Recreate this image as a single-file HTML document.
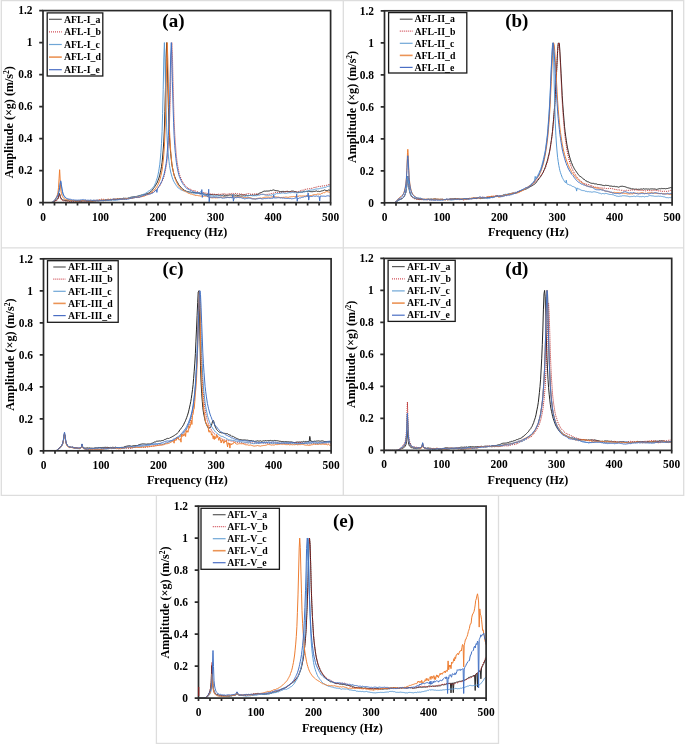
<!DOCTYPE html>
<html><head><meta charset="utf-8"><style>
html,body{margin:0;padding:0;background:#fff;}
svg{display:block;filter:blur(0.3px);}
text{font-family:"Liberation Serif",serif;font-weight:bold;fill:#000;}
.tl{font-size:11.8px;}
.at{font-size:12.1px;}
.sup{font-size:7.5px;}
.pl{font-size:19px;}
.lg{font-size:9.8px;}
</style></head><body>
<svg width="685" height="745" viewBox="0 0 685 745">
<rect width="685" height="745" fill="#fff"/>
<path d="M1.3 0.6H683.7V495.3H1.3Z M343.3 0.8V495.3 M1.3 247.8H683.7 M156.4 495.3V743.4H498.5V495.3" fill="none" stroke="#dddddd" stroke-width="1.3"/>
<clipPath id="cpa"><rect x="43.0" y="9.6" width="287.6" height="193.0"/></clipPath>
<g clip-path="url(#cpa)" fill="none" stroke-width="1" stroke-linejoin="round">
<polyline stroke="#262626" points="43.0,202.6 43.6,202.6 44.2,202.6 44.7,202.6 45.3,202.6 45.9,202.6 46.5,202.6 47.0,202.6 47.6,202.6 48.2,202.6 48.8,202.6 49.3,202.6 49.9,202.6 50.5,202.6 51.1,202.6 51.6,202.5 52.2,202.4 52.8,202.3 53.4,202.1 53.9,201.8 54.5,201.3 55.1,200.8 55.7,200.3 56.2,200.3 56.8,199.5 57.4,199.1 58.0,198.3 58.5,196.8 59.1,194.1 59.4,193.5 59.7,194.0 60.3,196.6 60.8,197.9 61.4,198.8 62.0,199.3 62.6,199.9 63.1,199.9 63.7,200.2 64.3,200.3 64.9,200.3 65.4,200.6 66.0,200.3 66.6,200.6 67.2,200.6 67.7,200.8 68.3,200.6 68.9,201.0 69.5,201.2 70.0,201.0 70.6,200.9 71.2,200.9 71.8,201.0 72.3,200.9 72.9,200.9 73.5,201.1 74.1,201.2 74.6,200.8 75.2,201.0 75.8,201.0 76.4,201.2 76.9,201.1 77.5,200.9 78.1,201.1 78.7,201.1 79.2,201.3 79.8,201.2 80.4,201.2 81.0,201.4 81.5,201.2 82.1,201.2 82.7,200.9 83.3,200.8 83.8,200.8 84.4,200.9 85.0,200.8 85.6,200.9 86.1,200.9 86.7,201.1 87.3,201.2 87.9,201.4 88.4,201.4 89.0,201.5 89.6,201.3 90.2,201.3 90.7,201.1 91.3,201.4 91.9,201.2 92.5,201.4 93.0,201.1 93.6,201.1 94.2,201.2 94.8,200.8 95.3,200.9 95.9,200.8 96.5,200.7 97.1,200.8 97.6,200.9 98.2,200.6 98.8,201.0 99.4,200.7 99.9,200.6 100.5,200.3 101.1,200.4 101.7,200.5 102.2,200.7 102.8,200.6 103.4,200.7 104.0,200.7 104.5,200.5 105.1,200.6 105.7,200.5 106.3,200.2 106.8,200.2 107.4,200.1 108.0,200.2 108.6,200.0 109.1,200.0 109.7,199.7 110.3,199.8 110.9,199.9 111.4,200.0 112.0,199.8 112.6,199.5 113.2,199.5 113.7,199.5 114.3,199.6 114.9,199.5 115.5,199.5 116.1,199.4 116.6,199.2 117.2,199.0 117.8,198.7 118.4,199.1 118.9,199.1 119.5,198.7 120.1,198.8 120.7,198.7 121.2,199.0 121.8,198.8 122.4,198.7 123.0,198.6 123.5,198.2 124.1,198.2 124.7,198.4 125.3,198.4 125.8,198.2 126.4,198.4 127.0,198.2 127.6,198.4 128.1,198.2 128.7,198.0 129.3,198.0 129.9,197.7 130.4,197.4 131.0,197.3 131.6,197.1 132.2,197.1 132.7,196.9 133.3,196.8 133.9,196.9 134.5,196.6 135.0,196.6 135.6,196.6 136.2,196.6 136.8,196.3 137.3,196.3 137.9,196.0 138.5,195.9 139.1,195.5 139.6,195.5 140.2,195.3 140.8,195.4 141.4,195.1 141.9,194.9 142.5,194.9 143.1,194.6 143.7,194.4 144.2,194.5 144.8,194.3 145.4,194.2 146.0,193.9 146.5,193.8 147.1,193.6 147.7,193.4 148.3,193.3 148.8,193.0 149.4,192.8 150.0,192.1 150.6,191.7 151.1,191.5 151.7,190.6 152.3,190.2 152.9,189.2 153.4,188.5 154.0,187.7 154.6,186.8 155.2,186.0 155.7,185.3 156.3,183.9 156.9,183.1 157.5,181.9 158.0,180.3 158.6,178.9 159.2,177.1 159.8,175.1 160.3,172.6 160.9,170.1 161.5,166.4 162.1,162.4 162.6,157.1 163.2,150.1 163.8,141.1 164.4,129.0 164.9,111.4 165.5,87.1 166.1,58.4 166.7,42.6 167.2,57.1 167.8,83.9 168.4,107.3 169.0,124.7 169.5,137.3 170.1,146.7 170.7,153.5 171.3,159.3 171.8,163.8 172.4,167.5 173.0,170.3 173.6,173.0 174.1,174.9 174.7,176.6 175.3,178.0 175.9,179.4 176.4,180.4 177.0,181.6 177.6,182.5 178.2,183.5 178.7,184.6 179.3,185.3 179.9,185.9 180.5,186.6 181.0,187.4 181.6,188.1 182.2,188.5 182.8,189.1 183.3,189.3 183.9,189.9 184.5,190.4 185.1,190.8 185.6,190.6 186.2,191.2 186.8,191.4 187.4,191.5 188.0,191.7 188.5,191.7 189.1,192.1 189.7,192.0 190.3,192.0 190.8,192.2 191.4,192.5 192.0,192.4 192.6,192.4 193.1,192.5 193.7,192.5 194.3,192.3 194.9,192.7 195.4,192.8 196.0,192.5 196.6,192.9 197.2,192.9 197.7,192.9 198.3,192.9 198.9,193.1 199.5,193.2 200.0,193.4 200.6,193.4 201.2,193.7 201.8,193.2 202.3,193.7 202.9,193.6 203.5,193.9 204.1,193.9 204.6,194.1 205.2,194.2 205.8,194.4 206.4,194.5 206.9,194.4 207.5,194.4 208.1,194.6 208.7,194.4 209.2,194.5 209.8,194.6 210.4,194.6 211.0,194.4 211.5,194.5 212.1,194.7 212.7,194.7 213.3,194.8 213.8,194.9 214.4,194.7 215.0,195.0 215.6,194.9 216.1,194.8 216.7,194.8 217.3,194.8 217.9,194.9 218.4,195.2 219.0,195.2 219.6,195.3 220.2,195.2 220.7,195.1 221.3,195.3 221.9,195.3 222.5,195.3 223.0,195.1 223.6,194.9 224.2,195.4 224.8,195.4 225.3,195.2 225.9,195.4 226.5,195.4 227.1,195.3 227.6,195.3 228.2,195.3 228.8,195.1 229.4,195.0 229.9,195.1 230.5,194.9 231.1,195.3 231.7,195.0 232.2,195.0 232.8,195.0 233.4,195.1 234.0,195.0 234.5,195.0 235.1,195.2 235.7,195.4 236.3,195.1 236.8,195.1 237.4,195.5 238.0,195.4 238.6,195.4 239.1,195.2 239.7,195.1 240.3,194.7 240.9,195.1 241.4,195.0 242.0,195.0 242.6,195.0 243.2,195.1 243.7,195.2 244.3,195.0 244.9,194.9 245.5,195.3 246.0,195.4 246.6,195.2 247.2,195.6 247.8,195.6 248.3,195.4 248.9,195.4 249.5,195.5 250.1,195.1 250.6,195.2 251.2,195.4 251.8,195.1 252.4,194.9 252.9,195.0 253.5,195.3 254.1,195.0 254.7,195.1 255.2,195.0 255.8,195.1 256.4,194.7 257.0,194.4 257.5,194.3 258.1,194.0 258.7,193.7 259.3,193.2 259.9,193.2 260.4,192.8 261.0,192.6 261.6,192.4 262.2,192.0 262.7,191.8 263.3,191.5 263.9,191.2 264.5,191.1 265.0,191.1 265.6,191.2 266.2,191.0 266.8,191.1 267.3,191.0 267.9,191.2 268.5,191.0 269.1,190.8 269.6,190.9 270.2,190.5 270.8,190.4 271.4,190.6 271.9,190.4 272.5,190.2 273.1,189.9 273.7,190.0 274.2,190.4 274.8,190.2 275.4,190.5 276.0,190.5 276.5,190.7 277.1,190.7 277.7,190.8 278.3,190.9 278.8,191.2 279.4,191.4 280.0,191.4 280.6,191.7 281.1,191.7 281.7,191.4 282.3,191.4 282.9,191.5 283.4,191.4 284.0,191.6 284.6,191.7 285.2,191.8 285.7,191.4 286.3,191.3 286.9,191.7 287.5,191.3 288.0,191.5 288.6,191.7 289.2,191.7 289.8,191.6 290.3,191.6 290.9,191.2 291.5,191.1 292.1,191.0 292.6,191.1 293.2,191.0 293.8,191.3 294.4,191.5 294.9,191.5 295.5,191.6 296.1,192.0 296.7,192.0 297.2,192.3 297.8,192.3 298.4,192.6 299.0,192.3 299.5,192.2 300.1,192.5 300.7,192.0 301.3,192.2 301.8,192.0 302.4,192.1 303.0,191.8 303.6,191.4 304.1,191.6 304.7,191.1 305.3,191.4 305.9,191.5 306.4,191.4 307.0,191.4 307.6,191.7 308.2,191.4 308.7,191.2 309.3,191.3 309.9,191.6 310.5,191.6 311.0,191.6 311.6,191.7 312.2,191.8 312.8,191.5 313.3,191.3 313.9,191.6 314.5,191.4 315.1,191.2 315.6,191.2 316.2,190.9 316.8,191.1 317.4,191.4 317.9,191.5 318.5,191.3 319.1,191.4 319.7,191.6 320.2,191.4 320.8,191.3 321.4,191.0 322.0,190.9 322.5,191.0 323.1,190.3 323.7,190.4 324.3,190.0 324.8,190.0 325.4,190.3 326.0,190.5 326.6,190.5 327.1,190.4 327.7,190.6 328.3,190.2 328.9,189.9 329.4,190.2 330.0,189.9 330.6,189.7"/>
<polyline stroke="#b41e1e" stroke-dasharray="1 1" points="43.0,202.6 43.6,202.6 44.2,202.6 44.7,202.6 45.3,202.6 45.9,202.6 46.5,202.6 47.0,202.6 47.6,202.6 48.2,202.6 48.8,202.6 49.3,202.6 49.9,202.6 50.5,202.6 51.1,202.6 51.6,202.6 52.2,202.5 52.8,202.4 53.4,202.3 53.9,202.1 54.5,201.7 55.1,201.1 55.7,200.9 56.2,200.8 56.8,200.5 57.4,199.8 58.0,198.8 58.5,197.1 59.1,194.7 59.4,194.1 59.7,194.8 60.3,197.2 60.8,198.8 61.4,199.8 62.0,199.9 62.6,200.4 63.1,200.6 63.7,201.0 64.3,200.7 64.9,200.8 65.4,201.0 66.0,201.4 66.6,201.3 67.2,201.2 67.7,201.2 68.3,201.3 68.9,201.2 69.5,201.6 70.0,201.4 70.6,201.4 71.2,201.4 71.8,201.5 72.3,201.7 72.9,201.4 73.5,201.4 74.1,201.4 74.6,201.3 75.2,201.3 75.8,201.5 76.4,201.2 76.9,201.5 77.5,201.4 78.1,201.3 78.7,201.1 79.2,201.2 79.8,201.1 80.4,201.1 81.0,201.1 81.5,201.0 82.1,201.1 82.7,200.7 83.3,201.1 83.8,201.1 84.4,201.3 85.0,201.0 85.6,201.3 86.1,201.5 86.7,201.1 87.3,201.1 87.9,201.3 88.4,201.1 89.0,201.1 89.6,201.1 90.2,200.8 90.7,201.1 91.3,200.9 91.9,200.8 92.5,200.5 93.0,200.6 93.6,200.2 94.2,200.5 94.8,200.1 95.3,200.4 95.9,200.1 96.5,200.1 97.1,200.0 97.6,200.2 98.2,200.0 98.8,200.0 99.4,199.6 99.9,199.9 100.5,199.8 101.1,199.3 101.7,199.2 102.2,199.2 102.8,199.3 103.4,199.3 104.0,199.4 104.5,199.4 105.1,199.4 105.7,199.6 106.3,199.6 106.8,199.7 107.4,199.5 108.0,199.5 108.6,199.4 109.1,199.7 109.7,199.6 110.3,199.5 110.9,199.6 111.4,199.8 112.0,199.8 112.6,199.7 113.2,199.6 113.7,199.5 114.3,199.6 114.9,199.7 115.5,199.7 116.1,199.8 116.6,199.6 117.2,199.5 117.8,199.4 118.4,199.5 118.9,199.6 119.5,199.4 120.1,199.7 120.7,199.4 121.2,199.4 121.8,199.2 122.4,199.4 123.0,199.3 123.5,199.1 124.1,199.2 124.7,199.2 125.3,198.9 125.8,198.9 126.4,199.2 127.0,198.9 127.6,198.7 128.1,198.4 128.7,198.3 129.3,198.4 129.9,198.1 130.4,198.2 131.0,198.0 131.6,198.0 132.2,197.9 132.7,198.0 133.3,197.9 133.9,197.7 134.5,197.6 135.0,197.5 135.6,197.4 136.2,197.5 136.8,197.5 137.3,197.4 137.9,197.4 138.5,197.4 139.1,197.3 139.6,197.1 140.2,196.9 140.8,196.7 141.4,196.7 141.9,196.4 142.5,196.5 143.1,196.2 143.7,195.8 144.2,195.9 144.8,195.5 145.4,195.2 146.0,195.1 146.5,195.0 147.1,194.8 147.7,194.4 148.3,193.9 148.8,193.4 149.4,193.6 150.0,193.5 150.6,193.5 151.1,193.0 151.7,192.7 152.3,192.5 152.9,192.3 153.4,192.1 154.0,191.7 154.6,191.2 155.2,190.8 155.7,190.3 156.3,190.0 156.9,189.4 157.5,188.8 158.0,188.3 158.6,187.3 159.2,186.9 159.8,185.8 160.3,184.6 160.9,183.5 161.5,182.6 162.1,181.7 162.6,180.2 163.2,178.8 163.8,177.0 164.4,175.0 164.9,172.6 165.5,170.0 166.1,166.7 166.7,163.0 167.2,158.2 167.8,152.6 168.4,145.3 169.0,135.7 169.5,122.6 170.1,104.9 170.7,81.5 171.3,55.3 171.8,42.6 172.4,54.4 173.0,79.0 173.6,102.2 174.1,119.4 174.7,132.8 175.3,142.3 175.9,150.0 176.4,156.2 177.0,161.1 177.6,164.9 178.2,168.5 178.7,171.2 179.3,173.6 179.9,175.6 180.5,177.1 181.0,178.8 181.6,180.0 182.2,181.1 182.8,182.0 183.3,183.0 183.9,183.8 184.5,184.5 185.1,185.2 185.6,185.9 186.2,186.5 186.8,186.9 187.4,187.6 188.0,187.9 188.5,188.6 189.1,188.4 189.7,189.1 190.3,189.2 190.8,189.6 191.4,189.8 192.0,190.2 192.6,190.5 193.1,190.4 193.7,190.6 194.3,190.5 194.9,190.8 195.4,191.0 196.0,191.3 196.6,191.7 197.2,191.7 197.7,191.9 198.3,192.1 198.9,192.4 199.5,192.6 200.0,192.6 200.6,192.6 201.2,192.7 201.8,192.4 202.3,192.5 202.9,192.2 203.5,192.5 204.1,192.8 204.6,192.9 205.2,193.0 205.8,193.1 206.4,193.1 206.9,193.4 207.5,193.5 208.1,193.5 208.7,193.4 209.2,193.7 209.8,193.7 210.4,194.0 211.0,194.1 211.5,194.2 212.1,194.4 212.7,194.1 213.3,194.4 213.8,193.9 214.4,194.2 215.0,194.4 215.6,194.5 216.1,194.4 216.7,194.5 217.3,194.3 217.9,194.4 218.4,194.2 219.0,194.2 219.6,194.4 220.2,194.4 220.7,194.3 221.3,194.2 221.9,194.0 222.5,194.0 223.0,193.9 223.6,193.8 224.2,193.9 224.8,193.8 225.3,194.1 225.9,194.2 226.5,194.3 227.1,194.2 227.6,194.2 228.2,194.0 228.8,193.7 229.4,193.9 229.9,193.8 230.5,193.9 231.1,193.8 231.7,193.6 232.2,193.4 232.8,193.7 233.4,193.8 234.0,193.8 234.5,193.9 235.1,193.5 235.7,193.5 236.3,193.8 236.8,193.7 237.4,193.8 238.0,193.8 238.6,194.0 239.1,193.9 239.7,193.9 240.3,193.9 240.9,194.2 241.4,194.0 242.0,194.5 242.6,194.5 243.2,194.4 243.7,194.6 244.3,194.7 244.9,194.4 245.5,194.3 246.0,194.0 246.6,194.0 247.2,193.7 247.8,193.7 248.3,193.8 248.9,193.5 249.5,193.5 250.1,194.1 250.6,194.2 251.2,194.3 251.8,194.2 252.4,194.2 252.9,194.1 253.5,194.2 254.1,193.9 254.7,194.0 255.2,194.0 255.8,193.9 256.4,193.9 257.0,194.0 257.5,194.2 258.1,194.4 258.7,194.5 259.3,194.4 259.9,194.1 260.4,194.2 261.0,194.3 261.6,194.2 262.2,194.3 262.7,194.4 263.3,194.2 263.9,194.5 264.5,194.4 265.0,194.6 265.6,194.7 266.2,194.5 266.8,194.3 267.3,194.4 267.9,194.4 268.5,194.1 269.1,194.2 269.6,194.2 270.2,193.9 270.8,193.8 271.4,193.6 271.9,193.4 272.5,193.4 273.1,193.3 273.7,193.1 274.2,192.9 274.8,192.6 275.4,192.4 276.0,192.5 276.5,192.4 277.1,192.5 277.7,192.4 278.3,192.4 278.8,192.4 279.4,192.5 280.0,192.6 280.6,192.3 281.1,192.3 281.7,192.5 282.3,192.4 282.9,192.2 283.4,192.2 284.0,192.1 284.6,192.1 285.2,191.9 285.7,191.8 286.3,191.6 286.9,191.6 287.5,191.8 288.0,191.8 288.6,191.7 289.2,192.2 289.8,192.0 290.3,191.8 290.9,191.9 291.5,191.9 292.1,191.9 292.6,191.8 293.2,192.1 293.8,192.0 294.4,192.2 294.9,192.1 295.5,192.0 296.1,192.0 296.7,192.1 297.2,191.7 297.8,191.9 298.4,191.5 299.0,191.3 299.5,191.0 300.1,191.0 300.7,190.7 301.3,190.7 301.8,190.1 302.4,190.2 303.0,190.1 303.6,190.0 304.1,189.6 304.7,189.3 305.3,189.5 305.9,189.2 306.4,189.3 307.0,189.2 307.6,188.9 308.2,189.1 308.7,188.8 309.3,188.7 309.9,189.0 310.5,188.7 311.0,188.5 311.6,188.3 312.2,188.3 312.8,188.2 313.3,187.8 313.9,187.5 314.5,187.5 315.1,187.4 315.6,187.3 316.2,187.4 316.8,186.9 317.4,186.8 317.9,186.6 318.5,186.4 319.1,186.4 319.7,186.4 320.2,186.4 320.8,186.4 321.4,186.0 322.0,186.0 322.5,186.0 323.1,185.8 323.7,185.6 324.3,185.8 324.8,185.7 325.4,185.6 326.0,185.4 326.6,185.3 327.1,185.1 327.7,185.0 328.3,184.7 328.9,184.9 329.4,184.5 330.0,184.5 330.6,184.4"/>
<polyline stroke="#5b9bd5" points="43.0,202.6 43.6,202.6 44.2,202.6 44.7,202.6 45.3,202.6 45.9,202.6 46.5,202.6 47.0,202.6 47.6,202.6 48.2,202.6 48.8,202.6 49.3,202.6 49.9,202.6 50.5,202.6 51.1,202.5 51.6,202.5 52.2,202.3 52.8,202.0 53.4,201.6 53.9,201.1 54.5,200.4 55.1,199.7 55.7,199.0 56.2,198.2 56.8,197.4 57.4,196.1 58.0,195.2 58.5,193.4 59.1,190.7 59.7,187.4 60.3,183.1 60.6,181.8 60.8,182.3 61.4,186.2 62.0,189.9 62.6,193.0 63.1,194.5 63.7,195.8 64.3,196.8 64.9,197.2 65.4,197.7 66.0,198.3 66.6,198.8 67.2,199.0 67.7,199.5 68.3,199.7 68.9,199.7 69.5,199.9 70.0,200.0 70.6,200.4 71.2,200.5 71.8,200.5 72.3,200.6 72.9,200.8 73.5,200.7 74.1,200.6 74.6,200.6 75.2,200.4 75.8,200.7 76.4,200.7 76.9,200.5 77.5,200.8 78.1,200.5 78.7,200.6 79.2,200.6 79.8,200.6 80.4,200.6 81.0,200.0 81.5,200.3 82.1,200.5 82.7,200.5 83.3,200.7 83.8,200.4 84.4,200.6 85.0,200.4 85.6,200.3 86.1,200.6 86.7,200.8 87.3,200.8 87.9,201.0 88.4,200.7 89.0,200.7 89.6,201.0 90.2,201.0 90.7,201.0 91.3,200.8 91.9,200.7 92.5,200.7 93.0,200.4 93.6,200.1 94.2,200.2 94.8,200.3 95.3,200.5 95.9,200.2 96.5,200.1 97.1,200.2 97.6,200.1 98.2,200.3 98.8,200.3 99.4,200.5 99.9,200.3 100.5,200.7 101.1,200.9 101.7,200.7 102.2,200.4 102.8,200.3 103.4,200.2 104.0,200.3 104.5,200.2 105.1,200.0 105.7,200.1 106.3,199.9 106.8,199.9 107.4,199.8 108.0,199.9 108.6,200.0 109.1,199.8 109.7,199.9 110.3,200.0 110.9,200.2 111.4,200.1 112.0,200.2 112.6,200.0 113.2,200.2 113.7,200.5 114.3,200.3 114.9,200.3 115.5,200.3 116.1,200.1 116.6,200.0 117.2,200.1 117.8,200.0 118.4,199.8 118.9,199.6 119.5,199.7 120.1,199.4 120.7,199.4 121.2,199.2 121.8,199.2 122.4,199.0 123.0,198.8 123.5,199.0 124.1,199.0 124.7,198.9 125.3,198.9 125.8,198.5 126.4,198.5 127.0,198.2 127.6,198.4 128.1,198.1 128.7,197.9 129.3,198.1 129.9,197.7 130.4,197.9 131.0,197.5 131.6,197.5 132.2,197.2 132.7,197.4 133.3,197.2 133.9,197.0 134.5,196.9 135.0,196.8 135.6,196.7 136.2,196.5 136.8,196.5 137.3,196.4 137.9,196.4 138.5,195.9 139.1,196.1 139.6,195.9 140.2,195.7 140.8,195.4 141.4,195.3 141.9,195.1 142.5,194.6 143.1,194.8 143.7,194.2 144.2,194.2 144.8,193.7 145.4,193.4 146.0,193.0 146.5,192.5 147.1,192.4 147.7,192.0 148.3,191.5 148.8,190.7 149.4,190.7 150.0,190.4 150.6,189.9 151.1,189.7 151.7,188.8 152.3,188.1 152.9,187.7 153.4,186.8 154.0,186.3 154.6,185.1 155.2,183.7 155.7,182.6 156.3,180.7 156.9,178.8 157.5,177.1 158.0,174.8 158.6,171.9 159.2,168.2 159.8,164.2 160.3,159.0 160.9,152.3 161.5,143.3 162.1,131.3 162.6,113.7 163.2,89.5 163.8,59.0 164.4,42.6 164.9,57.8 165.5,86.1 166.1,110.2 166.7,127.9 167.2,140.1 167.8,149.2 168.4,156.1 169.0,161.3 169.5,165.6 170.1,168.9 170.7,172.0 171.3,174.2 171.8,176.2 172.4,177.9 173.0,179.7 173.6,181.1 174.1,182.1 174.7,182.9 175.3,184.0 175.9,184.8 176.4,185.7 177.0,186.4 177.6,187.2 178.2,188.0 178.7,188.3 179.3,188.6 179.9,189.0 180.5,189.6 181.0,189.7 181.6,190.1 182.2,190.2 182.8,190.6 183.3,190.6 183.9,190.9 184.5,191.1 185.1,190.8 185.6,191.0 186.2,191.6 186.8,191.6 187.4,191.9 188.0,192.1 188.5,192.3 189.1,192.5 189.7,192.5 190.3,192.6 190.8,192.9 191.4,192.9 192.0,192.8 192.6,192.9 193.1,193.1 193.7,193.2 194.3,193.8 194.9,193.8 195.4,193.8 196.0,193.6 196.6,193.5 197.2,193.2 197.7,192.9 198.3,193.0 198.9,192.8 199.5,192.6 200.0,192.1 200.6,191.7 201.2,192.2 201.8,192.6 202.3,192.9 202.9,193.2 203.5,193.5 204.1,193.9 204.6,194.3 205.2,194.3 205.8,195.0 206.4,195.1 206.9,195.5 207.5,195.3 208.1,195.5 208.7,195.5 209.2,195.3 209.8,195.4 210.4,195.4 211.0,195.7 211.5,195.8 212.1,195.9 212.7,196.1 213.3,196.2 213.8,196.2 214.4,196.2 215.0,196.2 215.6,196.1 216.1,195.7 216.7,196.0 217.3,195.9 217.9,196.1 218.4,196.0 219.0,196.0 219.6,195.8 220.2,196.0 220.7,195.9 221.3,196.0 221.9,195.7 222.5,195.8 223.0,196.2 223.6,196.4 224.2,196.5 224.8,196.6 225.3,196.7 225.9,196.9 226.5,197.0 227.1,197.2 227.6,197.2 228.2,197.4 228.8,197.4 229.4,197.4 229.9,197.6 230.5,197.3 231.1,197.4 231.7,197.6 232.2,197.5 232.8,197.4 233.4,197.1 234.0,196.8 234.5,196.8 235.1,196.6 235.7,197.1 236.3,196.7 236.8,196.7 237.4,196.6 238.0,196.5 238.6,196.3 239.1,196.4 239.7,196.6 240.3,196.4 240.9,196.6 241.4,196.6 242.0,196.7 242.6,196.9 243.2,196.8 243.7,197.0 244.3,196.8 244.9,196.5 245.5,196.3 246.0,196.1 246.6,195.8 247.2,195.9 247.8,195.8 248.3,195.7 248.9,196.0 249.5,195.5 250.1,195.6 250.6,195.5 251.2,195.6 251.8,195.6 252.4,195.8 252.9,195.7 253.5,195.7 254.1,195.9 254.7,195.6 255.2,195.4 255.8,195.8 256.4,195.8 257.0,195.5 257.5,195.5 258.1,195.4 258.7,195.1 259.3,195.2 259.9,195.0 260.4,194.7 261.0,194.6 261.6,194.5 262.2,194.5 262.7,194.3 263.3,194.3 263.9,194.4 264.5,195.0 265.0,195.2 265.6,195.0 266.2,195.3 266.8,195.1 267.3,195.3 267.9,195.2 268.5,195.3 269.1,195.1 269.6,195.2 270.2,195.2 270.8,195.2 271.4,195.3 271.9,194.9 272.5,194.6 273.1,194.7 273.7,194.6 274.2,194.3 274.8,194.2 275.4,194.1 276.0,194.1 276.5,193.6 277.1,193.9 277.7,193.5 278.3,193.6 278.8,193.4 279.4,193.4 280.0,193.2 280.6,193.4 281.1,193.2 281.7,193.0 282.3,192.9 282.9,193.1 283.4,192.9 284.0,193.1 284.6,193.4 285.2,193.6 285.7,193.3 286.3,193.4 286.9,193.2 287.5,193.0 288.0,193.0 288.6,192.8 289.2,192.8 289.8,192.5 290.3,192.8 290.9,192.8 291.5,192.6 292.1,192.6 292.6,192.4 293.2,192.4 293.8,192.7 294.4,192.7 294.9,192.6 295.5,192.7 296.1,193.0 296.7,193.0 297.2,192.9 297.8,192.8 298.4,192.3 299.0,192.6 299.5,192.3 300.1,192.1 300.7,192.3 301.3,192.1 301.8,192.3 302.4,192.1 303.0,192.3 303.6,192.0 304.1,191.9 304.7,192.0 305.3,191.7 305.9,191.6 306.4,191.1 307.0,191.3 307.6,190.7 308.2,190.8 308.7,190.6 309.3,190.6 309.9,190.5 310.5,190.1 311.0,190.1 311.6,190.0 312.2,189.9 312.8,190.0 313.3,189.7 313.9,189.8 314.5,189.4 315.1,189.2 315.6,189.1 316.2,188.9 316.8,189.0 317.4,189.0 317.9,188.6 318.5,188.8 319.1,188.7 319.7,188.6 320.2,188.2 320.8,188.2 321.4,188.2 322.0,188.3 322.5,188.0 323.1,187.8 323.7,187.7 324.3,187.4 324.8,187.4 325.4,187.4 326.0,186.9 326.6,187.0 327.1,186.5 327.7,186.3 328.3,186.2 328.9,186.4 329.4,186.1 330.0,185.9 330.6,185.8"/>
<polyline stroke="#ed7d31" points="43.0,202.6 43.6,202.6 44.2,202.6 44.7,202.6 45.3,202.6 45.9,202.6 46.5,202.6 47.0,202.6 47.6,202.6 48.2,202.6 48.8,202.6 49.3,202.6 49.9,202.6 50.5,202.6 51.1,202.5 51.6,202.4 52.2,202.3 52.8,202.0 53.4,201.6 53.9,201.0 54.5,200.2 55.1,199.6 55.7,198.7 56.2,197.7 56.8,196.4 57.4,194.8 58.0,192.2 58.5,187.8 59.1,178.1 59.6,169.7 59.7,170.4 60.3,182.4 60.8,189.9 61.4,193.6 62.0,195.2 62.6,196.5 63.1,197.4 63.7,198.2 64.3,198.8 64.9,199.2 65.4,199.3 66.0,199.7 66.6,199.7 67.2,199.8 67.7,199.9 68.3,200.1 68.9,200.1 69.5,200.0 70.0,200.0 70.6,200.4 71.2,200.4 71.8,200.4 72.3,200.5 72.9,200.6 73.5,200.5 74.1,200.6 74.6,200.8 75.2,200.9 75.8,201.0 76.4,201.0 76.9,200.8 77.5,201.1 78.1,200.8 78.7,200.8 79.2,200.7 79.8,200.5 80.4,200.7 81.0,200.6 81.5,200.6 82.1,200.7 82.7,200.7 83.3,200.6 83.8,200.5 84.4,200.5 85.0,200.5 85.6,200.4 86.1,200.8 86.7,200.7 87.3,200.8 87.9,200.7 88.4,201.1 89.0,201.0 89.6,200.8 90.2,200.8 90.7,200.9 91.3,201.1 91.9,201.1 92.5,201.0 93.0,200.8 93.6,200.9 94.2,200.7 94.8,200.9 95.3,201.0 95.9,200.8 96.5,200.6 97.1,200.4 97.6,200.5 98.2,200.3 98.8,200.4 99.4,200.2 99.9,200.4 100.5,200.5 101.1,200.2 101.7,200.1 102.2,200.1 102.8,200.0 103.4,199.8 104.0,199.9 104.5,199.9 105.1,200.1 105.7,199.8 106.3,199.6 106.8,199.7 107.4,199.4 108.0,199.1 108.6,199.2 109.1,199.4 109.7,199.5 110.3,199.1 110.9,199.2 111.4,199.4 112.0,199.4 112.6,199.3 113.2,199.0 113.7,199.1 114.3,199.1 114.9,198.7 115.5,198.9 116.1,199.1 116.6,199.0 117.2,199.0 117.8,199.0 118.4,198.8 118.9,198.8 119.5,198.7 120.1,198.7 120.7,198.6 121.2,198.8 121.8,198.8 122.4,198.9 123.0,198.7 123.5,199.0 124.1,199.0 124.7,198.8 125.3,198.8 125.8,198.6 126.4,198.7 127.0,198.4 127.6,198.4 128.1,198.4 128.7,198.5 129.3,198.4 129.9,198.5 130.4,198.5 131.0,198.3 131.6,198.4 132.2,198.3 132.7,198.3 133.3,198.0 133.9,197.7 134.5,197.6 135.0,197.3 135.6,197.2 136.2,197.1 136.8,197.1 137.3,197.2 137.9,197.1 138.5,197.0 139.1,196.8 139.6,197.1 140.2,196.6 140.8,196.5 141.4,196.7 141.9,196.5 142.5,196.5 143.1,196.4 143.7,196.1 144.2,196.0 144.8,195.8 145.4,195.5 146.0,195.5 146.5,195.1 147.1,194.8 147.7,194.7 148.3,194.6 148.8,193.9 149.4,193.8 150.0,193.5 150.6,193.2 151.1,192.7 151.7,192.4 152.3,191.8 152.9,191.4 153.4,190.9 154.0,190.1 154.6,189.4 155.2,189.3 155.7,188.2 156.3,187.4 156.9,186.5 157.5,185.5 158.0,184.5 158.6,183.1 159.2,181.7 159.8,180.0 160.3,178.1 160.9,175.7 161.5,173.1 162.1,170.1 162.6,166.4 163.2,161.1 163.8,154.7 164.4,146.1 164.9,134.0 165.5,117.0 166.1,92.0 166.7,60.8 167.2,42.6 167.8,58.9 168.4,88.7 169.0,113.1 169.5,130.3 170.1,142.3 170.7,151.1 171.3,157.6 171.8,163.0 172.4,166.9 173.0,170.2 173.6,173.0 174.1,175.2 174.7,177.2 175.3,179.2 175.9,180.4 176.4,181.9 177.0,182.9 177.6,184.3 178.2,185.3 178.7,186.2 179.3,186.9 179.9,187.4 180.5,188.4 181.0,188.3 181.6,189.4 182.2,189.7 182.8,190.0 183.3,190.6 183.9,190.8 184.5,190.8 185.1,191.3 185.6,191.8 186.2,191.9 186.8,192.2 187.4,192.6 188.0,193.0 188.5,193.3 189.1,193.4 189.7,193.6 190.3,193.9 190.8,194.0 191.4,194.0 192.0,194.2 192.6,194.4 193.1,194.5 193.7,194.9 194.3,194.9 194.9,195.1 195.4,195.6 196.0,195.3 196.6,195.4 197.2,195.4 197.7,195.5 198.3,195.7 198.9,195.8 199.5,195.8 200.0,196.0 200.6,196.1 201.2,196.2 201.8,196.1 202.3,196.3 202.9,196.2 203.5,196.3 204.1,196.2 204.6,196.1 205.2,196.0 205.8,196.4 206.4,196.1 206.9,196.2 207.5,196.6 208.1,196.6 208.7,197.1 209.2,197.2 209.8,197.2 210.4,197.2 211.0,197.5 211.5,197.8 212.1,198.0 212.7,197.8 213.3,197.6 213.8,198.0 214.4,197.7 215.0,197.9 215.6,197.9 216.1,197.8 216.7,197.8 217.3,197.9 217.9,197.4 218.4,197.5 219.0,197.3 219.6,197.4 220.2,197.3 220.7,197.1 221.3,197.2 221.9,197.2 222.5,197.3 223.0,196.8 223.6,196.9 224.2,197.1 224.8,197.1 225.3,197.2 225.9,197.2 226.5,197.4 227.1,197.5 227.6,197.3 228.2,197.4 228.8,197.3 229.4,197.4 229.9,197.3 230.5,197.3 231.1,197.1 231.7,197.2 232.2,197.0 232.8,196.7 233.4,196.9 234.0,196.8 234.5,197.0 235.1,197.1 235.7,197.1 236.3,196.8 236.8,196.9 237.4,196.9 238.0,196.7 238.6,197.0 239.1,197.0 239.7,196.9 240.3,196.8 240.9,197.1 241.4,196.8 242.0,197.1 242.6,196.9 243.2,197.4 243.7,197.6 244.3,197.8 244.9,197.5 245.5,197.5 246.0,197.7 246.6,197.8 247.2,197.7 247.8,197.6 248.3,197.5 248.9,197.5 249.5,197.7 250.1,197.6 250.6,197.8 251.2,198.0 251.8,198.3 252.4,198.7 252.9,198.6 253.5,198.6 254.1,199.0 254.7,198.9 255.2,198.8 255.8,198.7 256.4,198.6 257.0,198.7 257.5,198.2 258.1,198.4 258.7,198.2 259.3,198.2 259.9,198.1 260.4,198.0 261.0,198.2 261.6,198.3 262.2,197.9 262.7,197.9 263.3,197.5 263.9,197.8 264.5,197.3 265.0,197.3 265.6,197.2 266.2,197.0 266.8,197.2 267.3,197.1 267.9,197.3 268.5,197.1 269.1,197.4 269.6,197.3 270.2,197.3 270.8,197.1 271.4,196.9 271.9,197.0 272.5,196.8 273.1,196.6 273.7,196.7 274.2,196.7 274.8,196.9 275.4,196.9 276.0,197.0 276.5,197.0 277.1,197.3 277.7,197.1 278.3,197.1 278.8,197.2 279.4,197.4 280.0,197.3 280.6,197.7 281.1,197.6 281.7,197.4 282.3,197.4 282.9,197.5 283.4,197.3 284.0,197.5 284.6,197.3 285.2,197.1 285.7,197.1 286.3,197.1 286.9,197.1 287.5,197.3 288.0,197.2 288.6,197.3 289.2,196.9 289.8,197.1 290.3,196.9 290.9,196.8 291.5,196.7 292.1,196.6 292.6,196.7 293.2,196.5 293.8,196.5 294.4,196.6 294.9,196.7 295.5,196.5 296.1,196.5 296.7,196.3 297.2,196.4 297.8,196.3 298.4,196.2 299.0,196.3 299.5,195.8 300.1,196.0 300.7,196.0 301.3,196.1 301.8,196.0 302.4,196.0 303.0,195.9 303.6,196.0 304.1,196.1 304.7,196.0 305.3,196.2 305.9,195.5 306.4,195.6 307.0,195.5 307.6,195.9 308.2,195.8 308.7,195.8 309.3,195.8 309.9,195.7 310.5,195.5 311.0,195.6 311.6,195.6 312.2,195.3 312.8,195.0 313.3,194.7 313.9,195.0 314.5,194.6 315.1,194.8 315.6,194.6 316.2,194.6 316.8,194.3 317.4,194.0 317.9,194.2 318.5,194.1 319.1,194.2 319.7,194.2 320.2,194.3 320.8,194.1 321.4,193.5 322.0,193.5 322.5,193.2 323.1,193.1 323.7,192.5 324.3,192.7 324.8,192.5 325.4,192.0 326.0,192.1 326.6,191.6 327.1,191.9 327.7,191.7 328.3,192.0 328.9,191.9 329.4,192.2 330.0,192.0 330.6,191.9"/>
<polyline stroke="#4472c4" points="43.0,202.6 43.6,202.6 44.2,202.6 44.7,202.6 45.3,202.6 45.9,202.6 46.5,202.6 47.0,202.6 47.6,202.6 48.2,202.6 48.8,202.6 49.3,202.6 49.9,202.6 50.5,202.6 51.1,202.5 51.6,202.4 52.2,202.3 52.8,202.0 53.4,201.5 53.9,200.8 54.5,200.1 55.1,199.3 55.7,198.8 56.2,197.8 56.8,197.1 57.4,196.1 58.0,194.9 58.5,192.9 59.1,190.7 59.7,187.3 60.3,182.9 60.7,180.8 60.8,180.9 61.4,184.7 62.0,188.9 62.6,191.7 63.1,193.5 63.7,195.2 64.3,196.0 64.9,196.8 65.4,197.7 66.0,197.7 66.6,198.3 67.2,198.4 67.7,198.8 68.3,199.0 68.9,198.9 69.5,199.2 70.0,199.4 70.6,199.3 71.2,199.6 71.8,199.6 72.3,199.9 72.9,199.8 73.5,199.8 74.1,200.1 74.6,200.0 75.2,200.1 75.8,200.1 76.4,200.1 76.9,200.3 77.5,200.2 78.1,200.1 78.7,200.1 79.2,200.0 79.8,200.2 80.4,199.9 81.0,200.3 81.5,199.8 82.1,199.7 82.7,199.7 83.3,199.8 83.8,199.5 84.4,199.9 85.0,199.9 85.6,200.0 86.1,200.2 86.7,200.3 87.3,200.3 87.9,200.0 88.4,200.2 89.0,200.2 89.6,200.3 90.2,199.9 90.7,200.1 91.3,200.1 91.9,200.6 92.5,200.4 93.0,200.5 93.6,200.6 94.2,200.5 94.8,200.6 95.3,200.8 95.9,200.9 96.5,200.8 97.1,200.7 97.6,200.5 98.2,200.7 98.8,200.9 99.4,200.9 99.9,200.4 100.5,200.6 101.1,200.3 101.7,200.4 102.2,200.3 102.8,200.4 103.4,200.5 104.0,200.3 104.5,200.4 105.1,199.9 105.7,199.8 106.3,200.1 106.8,199.9 107.4,200.0 108.0,200.1 108.6,200.1 109.1,200.2 109.7,200.0 110.3,199.9 110.9,199.6 111.4,199.5 112.0,199.3 112.6,199.3 113.2,199.0 113.7,198.9 114.3,199.0 114.9,199.2 115.5,199.2 116.1,199.2 116.6,199.6 117.2,199.4 117.8,199.2 118.4,199.3 118.9,199.4 119.5,199.1 120.1,199.1 120.7,199.0 121.2,199.0 121.8,199.0 122.4,198.9 123.0,199.0 123.5,199.1 124.1,199.0 124.7,199.2 125.3,199.3 125.8,199.2 126.4,199.3 127.0,199.0 127.6,199.1 128.1,199.1 128.7,199.0 129.3,198.6 129.9,198.9 130.4,198.5 131.0,198.3 131.6,198.3 132.2,198.2 132.7,197.9 133.3,197.8 133.9,197.9 134.5,197.7 135.0,197.5 135.6,197.3 136.2,197.5 136.8,197.4 137.3,197.3 137.9,197.5 138.5,197.0 139.1,197.3 139.6,197.3 140.2,196.7 140.8,196.8 141.4,196.5 141.9,196.3 142.5,196.0 143.1,195.4 143.7,195.4 144.2,195.3 144.8,195.0 145.4,195.2 146.0,194.8 146.5,194.4 147.1,194.6 147.7,194.3 148.3,194.3 148.8,194.5 149.4,194.2 150.0,194.1 150.6,194.1 151.1,193.5 151.7,193.5 152.3,193.3 152.9,192.8 153.4,192.6 154.0,192.1 154.6,191.6 155.2,190.9 155.7,190.3 156.3,189.7 156.9,192.4 157.5,188.4 158.0,187.6 158.6,186.8 159.2,185.9 159.8,185.0 160.3,184.2 160.9,183.0 161.5,181.7 162.1,180.5 162.6,179.0 163.2,177.0 163.8,175.2 164.4,173.0 164.9,170.3 165.5,167.1 166.1,163.6 166.7,158.8 167.2,152.7 167.8,145.2 168.4,135.5 169.0,122.5 169.5,104.8 170.1,81.5 170.7,55.0 171.3,42.6 171.8,55.3 172.4,81.5 173.0,104.7 173.6,122.5 174.1,135.5 174.7,145.3 175.3,152.5 175.9,158.4 176.4,162.6 177.0,166.5 177.6,169.7 178.2,172.2 178.7,174.5 179.3,176.3 179.9,177.8 180.5,179.3 181.0,180.4 181.6,181.8 182.2,182.7 182.8,183.6 183.3,184.6 183.9,185.4 184.5,185.9 185.1,186.6 185.6,187.4 186.2,187.8 186.8,188.6 187.4,188.8 188.0,189.0 188.5,189.4 189.1,189.7 189.7,189.8 190.3,190.1 190.8,190.8 191.4,190.8 192.0,191.2 192.6,191.6 193.1,191.6 193.7,191.9 194.3,192.0 194.9,192.4 195.4,192.7 196.0,192.5 196.6,192.8 197.2,193.0 197.7,193.0 198.3,193.3 198.9,193.4 199.5,193.8 200.0,194.1 200.6,194.0 201.2,194.3 201.8,189.6 202.3,197.4 202.9,194.9 203.5,194.5 204.1,195.0 204.6,195.3 205.2,195.3 205.8,195.6 206.4,195.7 206.9,196.1 207.5,196.3 208.1,196.5 208.7,189.3 209.2,201.8 209.8,196.7 210.4,197.1 211.0,197.0 211.5,197.2 212.1,197.3 212.7,197.3 213.3,197.2 213.8,197.1 214.4,197.2 215.0,197.3 215.6,197.4 216.1,197.4 216.7,197.1 217.3,197.6 217.9,197.4 218.4,197.7 219.0,197.4 219.6,197.7 220.2,197.6 220.7,197.6 221.3,197.8 221.9,197.7 222.5,198.2 223.0,198.1 223.6,198.0 224.2,197.9 224.8,198.1 225.3,197.8 225.9,197.7 226.5,197.7 227.1,197.7 227.6,197.3 228.2,197.5 228.8,197.6 229.4,197.6 229.9,197.7 230.5,197.5 231.1,197.6 231.7,197.7 232.2,197.8 232.8,194.7 233.4,201.2 234.0,197.9 234.5,198.0 235.1,197.7 235.7,197.5 236.3,197.7 236.8,197.6 237.4,197.4 238.0,197.6 238.6,197.5 239.1,197.6 239.7,197.7 240.3,197.6 240.9,197.7 241.4,197.8 242.0,198.1 242.6,198.3 243.2,198.3 243.7,198.5 244.3,198.9 244.9,198.8 245.5,198.7 246.0,198.7 246.6,198.3 247.2,198.5 247.8,198.2 248.3,198.2 248.9,198.2 249.5,198.1 250.1,198.3 250.6,198.4 251.2,198.8 251.8,198.6 252.4,198.9 252.9,198.6 253.5,199.0 254.1,198.8 254.7,198.9 255.2,199.0 255.8,199.4 256.4,198.9 257.0,198.8 257.5,198.8 258.1,198.5 258.7,198.6 259.3,198.5 259.9,198.4 260.4,198.4 261.0,198.8 261.6,198.8 262.2,198.9 262.7,198.9 263.3,198.8 263.9,198.6 264.5,198.5 265.0,198.5 265.6,198.6 266.2,198.6 266.8,198.4 267.3,198.5 267.9,198.1 268.5,198.1 269.1,198.7 269.6,198.3 270.2,198.5 270.8,198.4 271.4,198.3 271.9,198.1 272.5,198.2 273.1,198.3 273.7,195.0 274.2,197.8 274.8,198.1 275.4,198.0 276.0,197.6 276.5,197.9 277.1,197.6 277.7,197.8 278.3,197.7 278.8,197.7 279.4,197.7 280.0,198.0 280.6,197.9 281.1,197.7 281.7,197.9 282.3,198.0 282.9,198.4 283.4,198.0 284.0,198.2 284.6,198.3 285.2,198.2 285.7,198.5 286.3,198.4 286.9,198.5 287.5,198.5 288.0,198.4 288.6,198.4 289.2,198.5 289.8,198.6 290.3,198.5 290.9,198.5 291.5,198.8 292.1,198.6 292.6,198.7 293.2,198.6 293.8,198.5 294.4,198.3 294.9,198.4 295.5,198.0 296.1,198.1 296.7,194.1 297.2,201.3 297.8,198.0 298.4,198.4 299.0,198.1 299.5,197.9 300.1,197.9 300.7,197.9 301.3,197.5 301.8,197.4 302.4,197.3 303.0,197.0 303.6,197.1 304.1,196.7 304.7,196.6 305.3,197.0 305.9,196.3 306.4,196.3 307.0,196.5 307.6,196.4 308.2,192.9 308.7,200.1 309.3,196.2 309.9,196.3 310.5,196.5 311.0,196.5 311.6,196.5 312.2,196.5 312.8,196.2 313.3,195.9 313.9,196.0 314.5,196.2 315.1,196.0 315.6,196.3 316.2,196.1 316.8,195.9 317.4,196.3 317.9,196.1 318.5,196.1 319.1,196.5 319.7,200.9 320.2,196.0 320.8,196.1 321.4,196.1 322.0,196.1 322.5,196.2 323.1,196.3 323.7,196.1 324.3,196.2 324.8,196.3 325.4,196.4 326.0,196.1 326.6,196.0 327.1,195.9 327.7,195.8 328.3,195.9 328.9,195.8 329.4,196.1 330.0,196.2 330.6,196.0"/>
</g>
<rect x="43.0" y="10.6" width="287.6" height="192.0" fill="none" stroke="#2a2a2a" stroke-width="1.7"/>
<path d="M39.2 202.6H43.0M39.2 170.6H43.0M39.2 138.6H43.0M39.2 106.6H43.0M39.2 74.6H43.0M39.2 42.6H43.0M39.2 10.6H43.0M43.0 202.6V205.6M54.5 202.6V205.6M66.0 202.6V205.6M77.5 202.6V205.6M89.0 202.6V205.6M100.5 202.6V205.6M112.0 202.6V205.6M123.5 202.6V205.6M135.0 202.6V205.6M146.5 202.6V205.6M158.0 202.6V205.6M169.5 202.6V205.6M181.0 202.6V205.6M192.6 202.6V205.6M204.1 202.6V205.6M215.6 202.6V205.6M227.1 202.6V205.6M238.6 202.6V205.6M250.1 202.6V205.6M261.6 202.6V205.6M273.1 202.6V205.6M284.6 202.6V205.6M296.1 202.6V205.6M307.6 202.6V205.6M319.1 202.6V205.6M330.6 202.6V205.6" stroke="#2a2a2a" stroke-width="1.7" fill="none"/>
<text transform="translate(32.6 206.3) scale(0.97 1.08)" text-anchor="end" class="tl">0</text>
<text transform="translate(32.6 174.3) scale(0.97 1.08)" text-anchor="end" class="tl">0.2</text>
<text transform="translate(32.6 142.3) scale(0.97 1.08)" text-anchor="end" class="tl">0.4</text>
<text transform="translate(32.6 110.3) scale(0.97 1.08)" text-anchor="end" class="tl">0.6</text>
<text transform="translate(32.6 78.3) scale(0.97 1.08)" text-anchor="end" class="tl">0.8</text>
<text transform="translate(32.6 46.3) scale(0.97 1.08)" text-anchor="end" class="tl">1</text>
<text transform="translate(32.6 14.3) scale(0.97 1.08)" text-anchor="end" class="tl">1.2</text>
<text transform="translate(43.0 220.6) scale(0.97 1.08)" text-anchor="middle" class="tl">0</text>
<text transform="translate(100.5 220.6) scale(0.97 1.08)" text-anchor="middle" class="tl">100</text>
<text transform="translate(158.0 220.6) scale(0.97 1.08)" text-anchor="middle" class="tl">200</text>
<text transform="translate(215.6 220.6) scale(0.97 1.08)" text-anchor="middle" class="tl">300</text>
<text transform="translate(273.1 220.6) scale(0.97 1.08)" text-anchor="middle" class="tl">400</text>
<text transform="translate(330.6 220.6) scale(0.97 1.08)" text-anchor="middle" class="tl">500</text>
<text x="186.8" y="236.2" text-anchor="middle" class="at">Frequency (Hz)</text>
<text transform="translate(13.3 122.2) rotate(-90)" text-anchor="middle" class="at">Amplitude (×g) (m/s<tspan class="sup" dy="-4">2</tspan><tspan dy="4">)</tspan></text>
<text x="173.4" y="26.7" text-anchor="middle" class="pl">(a)</text>
<rect x="47.2" y="12.9" width="55.6" height="63.1" fill="#fff" stroke="#1a1a1a" stroke-width="1.3"/>
<line x1="49.0" y1="19.3" x2="61.8" y2="19.3" stroke="#5a5a5a" stroke-width="1.2"/>
<text x="63.9" y="22.5" class="lg">AFL-I_a</text>
<line x1="49.0" y1="31.9" x2="61.8" y2="31.9" stroke="#d2505a" stroke-width="1.2" stroke-dasharray="1 1"/>
<text x="63.9" y="35.1" class="lg">AFL-I_b</text>
<line x1="49.0" y1="44.5" x2="61.8" y2="44.5" stroke="#6fa6d6" stroke-width="1.2"/>
<text x="63.9" y="47.7" class="lg">AFL-I_c</text>
<line x1="49.0" y1="57.1" x2="61.8" y2="57.1" stroke="#eb9456" stroke-width="1.6"/>
<text x="63.9" y="60.3" class="lg">AFL-I_d</text>
<line x1="49.0" y1="69.7" x2="61.8" y2="69.7" stroke="#4a6ec4" stroke-width="1.2"/>
<text x="63.9" y="72.9" class="lg">AFL-I_e</text>
<clipPath id="cpb"><rect x="384.5" y="9.8" width="287.6" height="193.0"/></clipPath>
<g clip-path="url(#cpb)" fill="none" stroke-width="1" stroke-linejoin="round">
<polyline stroke="#262626" points="384.5,202.8 385.1,202.8 385.7,202.8 386.2,202.8 386.8,202.8 387.4,202.8 388.0,202.8 388.5,202.8 389.1,202.8 389.7,202.8 390.3,202.8 390.8,202.8 391.4,202.8 392.0,202.8 392.6,202.8 393.1,202.8 393.7,202.7 394.3,202.7 394.9,202.5 395.4,202.4 396.0,202.0 396.6,201.7 397.2,201.3 397.7,200.9 398.3,200.3 398.9,200.0 399.5,199.6 400.0,199.5 400.6,199.4 401.2,198.9 401.8,198.8 402.3,198.5 402.9,198.1 403.5,197.5 404.1,196.8 404.6,195.6 405.2,194.2 405.8,192.2 406.4,189.2 406.9,184.5 407.5,177.7 407.8,176.1 408.1,177.7 408.7,184.3 409.2,189.2 409.8,192.2 410.4,194.0 411.0,195.4 411.5,196.2 412.1,196.7 412.7,197.0 413.3,197.5 413.8,197.9 414.4,198.1 415.0,198.4 415.6,198.6 416.1,198.7 416.7,199.0 417.3,198.9 417.9,199.1 418.4,199.0 419.0,199.3 419.6,199.1 420.2,199.3 420.7,199.4 421.3,199.2 421.9,199.5 422.5,199.5 423.0,199.6 423.6,199.6 424.2,199.6 424.8,199.3 425.3,199.5 425.9,199.6 426.5,199.4 427.1,199.5 427.6,199.3 428.2,199.2 428.8,199.1 429.4,199.3 429.9,199.1 430.5,199.1 431.1,199.1 431.7,199.1 432.2,199.3 432.8,199.2 433.4,199.1 434.0,199.0 434.5,198.9 435.1,199.2 435.7,198.8 436.3,199.2 436.8,199.1 437.4,199.2 438.0,199.4 438.6,199.3 439.1,199.3 439.7,199.5 440.3,199.2 440.9,199.4 441.4,199.4 442.0,199.4 442.6,199.7 443.2,199.6 443.7,199.5 444.3,199.6 444.9,199.7 445.5,199.7 446.0,199.6 446.6,199.2 447.2,199.7 447.8,199.5 448.3,199.5 448.9,199.4 449.5,199.1 450.1,199.3 450.6,198.9 451.2,199.1 451.8,198.7 452.4,198.9 452.9,198.7 453.5,198.8 454.1,198.7 454.7,198.6 455.2,198.6 455.8,198.6 456.4,198.9 457.0,198.7 457.6,198.9 458.1,199.0 458.7,198.8 459.3,199.0 459.9,199.1 460.4,199.2 461.0,199.2 461.6,199.2 462.2,198.9 462.7,199.1 463.3,199.2 463.9,198.9 464.5,198.7 465.0,198.7 465.6,198.8 466.2,198.9 466.8,198.6 467.3,198.6 467.9,198.6 468.5,198.5 469.1,198.3 469.6,198.4 470.2,198.4 470.8,198.5 471.4,198.6 471.9,198.1 472.5,198.4 473.1,198.3 473.7,198.0 474.2,198.4 474.8,198.4 475.4,198.5 476.0,198.1 476.5,198.6 477.1,198.1 477.7,198.0 478.3,197.8 478.8,197.8 479.4,198.2 480.0,198.2 480.6,198.6 481.1,198.3 481.7,198.3 482.3,198.3 482.9,198.3 483.4,198.1 484.0,198.0 484.6,198.0 485.2,197.8 485.7,197.7 486.3,197.8 486.9,197.7 487.5,197.5 488.0,197.6 488.6,197.5 489.2,197.2 489.8,197.5 490.3,197.0 490.9,196.7 491.5,196.6 492.1,196.7 492.6,196.8 493.2,196.7 493.8,196.8 494.4,196.6 494.9,196.7 495.5,196.4 496.1,196.1 496.7,195.9 497.2,196.1 497.8,195.9 498.4,196.3 499.0,196.1 499.5,196.2 500.1,196.1 500.7,196.1 501.3,196.0 501.8,195.6 502.4,195.7 503.0,195.4 503.6,194.9 504.1,195.0 504.7,194.9 505.3,194.8 505.9,194.8 506.4,194.9 507.0,194.5 507.6,194.5 508.2,194.2 508.7,194.2 509.3,194.1 509.9,193.9 510.5,194.0 511.0,193.9 511.6,193.8 512.2,193.5 512.8,193.6 513.3,193.5 513.9,193.1 514.5,193.4 515.1,193.0 515.6,193.2 516.2,193.0 516.8,192.6 517.4,192.5 517.9,192.4 518.5,191.9 519.1,191.5 519.7,191.6 520.2,191.3 520.8,190.8 521.4,190.7 522.0,190.5 522.5,190.0 523.1,190.0 523.7,189.7 524.3,189.6 524.8,189.5 525.4,189.3 526.0,188.9 526.6,189.0 527.1,188.3 527.7,187.8 528.3,187.8 528.9,187.6 529.5,187.1 530.0,186.9 530.6,186.5 531.2,186.3 531.8,185.9 532.3,185.4 532.9,185.5 533.5,185.0 534.1,184.3 534.6,184.1 535.2,183.4 535.8,183.0 536.4,182.2 536.9,181.4 537.5,180.6 538.1,180.1 538.7,179.1 539.2,178.5 539.8,177.6 540.4,176.9 541.0,176.0 541.5,175.1 542.1,174.2 542.7,173.1 543.3,172.1 543.8,170.6 544.4,169.5 545.0,167.9 545.6,166.2 546.1,164.6 546.7,162.7 547.3,160.9 547.9,158.6 548.4,156.3 549.0,154.2 549.6,151.2 550.2,148.1 550.7,144.5 551.3,140.7 551.9,136.3 552.5,131.3 553.0,125.7 553.6,119.3 554.2,112.0 554.8,103.8 555.3,94.4 555.9,83.7 556.5,72.6 557.1,60.9 557.6,50.6 558.2,43.5 558.8,42.8 559.4,44.0 559.9,51.7 560.5,62.1 561.1,73.8 561.7,85.0 562.2,95.5 562.8,104.9 563.4,112.8 564.0,120.1 564.5,126.3 565.1,131.7 565.7,136.3 566.3,140.4 566.8,144.0 567.4,147.2 568.0,150.2 568.6,152.7 569.1,155.1 569.7,157.2 570.3,159.3 570.9,161.0 571.4,162.6 572.0,163.8 572.6,165.5 573.2,166.5 573.7,167.5 574.3,168.7 574.9,169.7 575.5,170.5 576.0,171.2 576.6,172.2 577.2,172.9 577.8,173.8 578.3,174.5 578.9,175.4 579.5,175.8 580.1,176.6 580.6,176.6 581.2,177.0 581.8,177.6 582.4,178.1 582.9,178.5 583.5,179.0 584.1,179.2 584.7,180.0 585.2,180.3 585.8,180.9 586.4,181.0 587.0,181.2 587.5,181.9 588.1,181.8 588.7,182.0 589.3,182.4 589.8,182.4 590.4,183.1 591.0,183.0 591.6,183.3 592.1,183.3 592.7,183.4 593.3,183.4 593.9,183.4 594.4,183.8 595.0,183.8 595.6,183.9 596.2,183.8 596.7,184.1 597.3,184.3 597.9,184.8 598.5,184.5 599.0,184.5 599.6,184.6 600.2,184.8 600.8,184.7 601.4,184.9 601.9,185.0 602.5,185.3 603.1,185.2 603.7,185.6 604.2,185.6 604.8,185.6 605.4,185.3 606.0,185.4 606.5,185.4 607.1,185.4 607.7,185.5 608.3,185.5 608.8,185.6 609.4,186.0 610.0,185.9 610.6,186.1 611.1,186.2 611.7,186.1 612.3,186.4 612.9,186.3 613.4,186.4 614.0,186.3 614.6,186.3 615.2,186.5 615.7,186.7 616.3,186.7 616.9,186.5 617.5,186.8 618.0,186.9 618.6,187.2 619.2,186.9 619.8,186.9 620.3,186.3 620.9,186.4 621.5,186.3 622.1,186.1 622.6,186.3 623.2,186.4 623.8,186.5 624.4,186.5 624.9,186.9 625.5,186.9 626.1,187.1 626.7,187.4 627.2,187.6 627.8,187.8 628.4,187.9 629.0,188.0 629.5,188.2 630.1,188.2 630.7,188.5 631.3,188.9 631.8,188.8 632.4,188.8 633.0,189.0 633.6,189.0 634.1,189.2 634.7,189.2 635.3,189.2 635.9,189.1 636.4,189.1 637.0,189.3 637.6,189.4 638.2,189.4 638.7,189.2 639.3,189.5 639.9,189.0 640.5,189.1 641.0,189.2 641.6,189.0 642.2,189.2 642.8,189.1 643.3,188.6 643.9,189.0 644.5,189.1 645.1,188.8 645.6,189.0 646.2,188.9 646.8,189.0 647.4,189.1 647.9,189.0 648.5,189.0 649.1,189.1 649.7,189.2 650.2,188.9 650.8,189.0 651.4,188.9 652.0,189.1 652.5,188.9 653.1,189.0 653.7,189.0 654.3,189.1 654.8,188.8 655.4,189.1 656.0,189.3 656.6,189.4 657.1,189.3 657.7,189.1 658.3,188.8 658.9,189.1 659.4,188.7 660.0,188.6 660.6,188.8 661.2,188.3 661.7,188.7 662.3,188.6 662.9,188.6 663.5,188.6 664.0,188.4 664.6,188.6 665.2,189.0 665.8,188.5 666.3,188.6 666.9,188.4 667.5,188.5 668.1,188.2 668.6,188.2 669.2,188.1 669.8,187.8 670.4,187.6 670.9,187.7 671.5,187.8 672.1,187.7"/>
<polyline stroke="#b41e1e" stroke-dasharray="1 1" points="384.5,202.8 385.1,202.8 385.7,202.8 386.2,202.8 386.8,202.8 387.4,202.8 388.0,202.8 388.5,202.8 389.1,202.8 389.7,202.8 390.3,202.8 390.8,202.8 391.4,202.8 392.0,202.8 392.6,202.8 393.1,202.8 393.7,202.7 394.3,202.6 394.9,202.5 395.4,202.3 396.0,201.9 396.6,201.5 397.2,201.0 397.7,200.5 398.3,200.0 398.9,199.5 399.5,199.2 400.0,199.2 400.6,198.7 401.2,198.8 401.8,198.3 402.3,198.1 402.9,197.6 403.5,197.0 404.1,196.5 404.6,195.5 405.2,194.0 405.8,192.5 406.4,189.3 406.9,184.6 407.5,178.0 407.8,176.5 408.1,177.8 408.7,184.6 409.2,189.6 409.8,192.4 410.4,194.5 411.0,195.7 411.5,196.7 412.1,197.3 412.7,197.7 413.3,197.9 413.8,198.3 414.4,198.7 415.0,198.9 415.6,198.9 416.1,199.3 416.7,199.0 417.3,199.2 417.9,199.3 418.4,199.5 419.0,199.5 419.6,199.7 420.2,199.3 420.7,199.5 421.3,199.7 421.9,199.6 422.5,199.7 423.0,199.6 423.6,199.5 424.2,199.8 424.8,199.5 425.3,199.5 425.9,199.7 426.5,199.7 427.1,199.7 427.6,199.8 428.2,199.6 428.8,199.7 429.4,199.8 429.9,199.9 430.5,200.2 431.1,200.2 431.7,199.9 432.2,200.0 432.8,199.8 433.4,199.9 434.0,199.8 434.5,200.0 435.1,200.0 435.7,200.0 436.3,200.2 436.8,199.6 437.4,199.8 438.0,199.8 438.6,200.1 439.1,199.5 439.7,199.5 440.3,199.5 440.9,199.4 441.4,199.3 442.0,199.5 442.6,199.4 443.2,199.6 443.7,199.3 444.3,199.6 444.9,199.4 445.5,199.5 446.0,199.4 446.6,199.4 447.2,199.4 447.8,199.1 448.3,199.4 448.9,199.3 449.5,199.3 450.1,199.3 450.6,199.0 451.2,199.2 451.8,199.5 452.4,199.5 452.9,199.7 453.5,199.5 454.1,199.7 454.7,199.4 455.2,199.5 455.8,199.5 456.4,199.6 457.0,199.5 457.6,199.1 458.1,199.5 458.7,199.5 459.3,199.6 459.9,199.6 460.4,199.6 461.0,199.7 461.6,199.4 462.2,199.7 462.7,199.6 463.3,200.1 463.9,199.8 464.5,199.7 465.0,199.6 465.6,199.5 466.2,199.5 466.8,199.3 467.3,199.1 467.9,199.0 468.5,198.8 469.1,198.9 469.6,198.9 470.2,198.6 470.8,198.7 471.4,198.8 471.9,198.8 472.5,198.7 473.1,198.8 473.7,198.6 474.2,198.6 474.8,198.4 475.4,198.2 476.0,198.3 476.5,198.2 477.1,198.0 477.7,198.1 478.3,197.9 478.8,197.9 479.4,197.9 480.0,198.1 480.6,197.4 481.1,197.7 481.7,197.3 482.3,197.1 482.9,197.3 483.4,197.5 484.0,197.3 484.6,197.3 485.2,197.3 485.7,197.5 486.3,197.0 486.9,196.8 487.5,197.0 488.0,197.0 488.6,197.0 489.2,196.7 489.8,197.0 490.3,196.8 490.9,196.7 491.5,196.5 492.1,196.2 492.6,196.4 493.2,196.2 493.8,196.2 494.4,196.1 494.9,195.9 495.5,195.8 496.1,196.0 496.7,195.9 497.2,196.0 497.8,195.7 498.4,196.1 499.0,196.1 499.5,195.6 500.1,195.8 500.7,195.6 501.3,195.5 501.8,195.7 502.4,195.5 503.0,195.2 503.6,195.4 504.1,195.4 504.7,195.3 505.3,195.1 505.9,195.2 506.4,194.9 507.0,195.0 507.6,194.8 508.2,194.6 508.7,194.6 509.3,194.2 509.9,193.9 510.5,193.7 511.0,193.4 511.6,193.4 512.2,193.2 512.8,193.2 513.3,192.9 513.9,192.8 514.5,192.4 515.1,192.7 515.6,192.4 516.2,192.2 516.8,191.8 517.4,191.8 517.9,191.7 518.5,191.3 519.1,191.4 519.7,191.4 520.2,191.4 520.8,191.0 521.4,190.8 522.0,190.7 522.5,190.3 523.1,190.1 523.7,189.6 524.3,189.3 524.8,189.0 525.4,188.8 526.0,188.4 526.6,188.0 527.1,187.8 527.7,187.3 528.3,187.1 528.9,186.9 529.5,186.3 530.0,186.2 530.6,185.7 531.2,185.2 531.8,184.8 532.3,184.3 532.9,184.2 533.5,183.5 534.1,182.8 534.6,182.3 535.2,181.9 535.8,181.2 536.4,180.8 536.9,180.4 537.5,179.6 538.1,179.0 538.7,178.3 539.2,177.7 539.8,177.0 540.4,176.4 541.0,175.6 541.5,174.7 542.1,174.1 542.7,172.8 543.3,172.1 543.8,170.8 544.4,169.9 545.0,168.4 545.6,167.3 546.1,165.8 546.7,163.8 547.3,162.1 547.9,160.1 548.4,157.6 549.0,155.2 549.6,152.1 550.2,149.0 550.7,145.3 551.3,141.5 551.9,137.1 552.5,132.2 553.0,126.4 553.6,119.9 554.2,112.6 554.8,104.4 555.3,94.9 555.9,84.5 556.5,73.5 557.1,62.1 557.6,52.0 558.2,44.9 558.8,42.8 559.4,45.4 559.9,54.2 560.5,66.1 561.1,78.9 561.7,90.8 562.2,101.5 562.8,110.9 563.4,119.3 564.0,126.0 564.5,131.9 565.1,136.9 565.7,141.4 566.3,145.4 566.8,149.0 567.4,152.2 568.0,155.0 568.6,157.7 569.1,160.1 569.7,162.3 570.3,164.0 570.9,165.7 571.4,167.1 572.0,168.7 572.6,169.9 573.2,171.1 573.7,172.1 574.3,173.0 574.9,174.0 575.5,174.8 576.0,175.9 576.6,176.7 577.2,177.4 577.8,178.1 578.3,178.8 578.9,179.7 579.5,180.1 580.1,180.5 580.6,181.0 581.2,181.5 581.8,181.9 582.4,182.3 582.9,182.9 583.5,183.3 584.1,183.5 584.7,183.7 585.2,183.7 585.8,184.4 586.4,184.3 587.0,184.4 587.5,184.3 588.1,184.6 588.7,184.6 589.3,185.2 589.8,185.1 590.4,185.5 591.0,185.4 591.6,185.8 592.1,185.8 592.7,186.6 593.3,186.5 593.9,187.1 594.4,187.2 595.0,187.1 595.6,187.2 596.2,187.1 596.7,187.4 597.3,187.3 597.9,187.6 598.5,187.5 599.0,187.7 599.6,187.9 600.2,187.8 600.8,188.0 601.4,187.9 601.9,188.1 602.5,188.1 603.1,188.2 603.7,188.3 604.2,188.3 604.8,188.1 605.4,188.6 606.0,188.5 606.5,188.5 607.1,188.6 607.7,188.6 608.3,188.6 608.8,188.4 609.4,188.6 610.0,188.4 610.6,188.5 611.1,188.8 611.7,188.6 612.3,188.7 612.9,188.9 613.4,188.9 614.0,189.2 614.6,189.3 615.2,189.3 615.7,189.6 616.3,189.6 616.9,189.7 617.5,190.0 618.0,189.6 618.6,189.9 619.2,190.3 619.8,189.9 620.3,190.2 620.9,190.5 621.5,190.3 622.1,190.6 622.6,190.3 623.2,190.8 623.8,190.8 624.4,190.5 624.9,190.4 625.5,190.8 626.1,190.5 626.7,190.2 627.2,190.5 627.8,190.5 628.4,190.4 629.0,190.4 629.5,190.1 630.1,190.1 630.7,190.2 631.3,190.2 631.8,190.2 632.4,189.9 633.0,190.0 633.6,190.0 634.1,190.3 634.7,189.9 635.3,189.9 635.9,189.9 636.4,189.8 637.0,190.3 637.6,190.3 638.2,190.3 638.7,190.2 639.3,190.5 639.9,190.2 640.5,190.3 641.0,190.2 641.6,190.3 642.2,190.4 642.8,190.3 643.3,190.7 643.9,190.3 644.5,190.5 645.1,190.5 645.6,190.9 646.2,190.6 646.8,190.7 647.4,190.5 647.9,190.5 648.5,190.7 649.1,190.8 649.7,190.5 650.2,190.6 650.8,190.7 651.4,190.7 652.0,190.4 652.5,190.7 653.1,190.3 653.7,190.5 654.3,190.2 654.8,190.2 655.4,190.5 656.0,190.5 656.6,190.5 657.1,190.5 657.7,190.7 658.3,190.9 658.9,190.9 659.4,190.8 660.0,191.1 660.6,191.0 661.2,191.1 661.7,191.3 662.3,191.4 662.9,191.3 663.5,191.2 664.0,191.0 664.6,191.3 665.2,191.3 665.8,191.4 666.3,191.4 666.9,191.4 667.5,191.4 668.1,191.1 668.6,191.1 669.2,191.1 669.8,190.7 670.4,190.4 670.9,190.6 671.5,190.5 672.1,190.3"/>
<polyline stroke="#5b9bd5" points="384.5,202.8 385.1,202.8 385.7,202.8 386.2,202.8 386.8,202.8 387.4,202.8 388.0,202.8 388.5,202.8 389.1,202.8 389.7,202.8 390.3,202.8 390.8,202.8 391.4,202.8 392.0,202.8 392.6,202.8 393.1,202.8 393.7,202.7 394.3,202.7 394.9,202.5 395.4,202.3 396.0,202.0 396.6,201.6 397.2,201.0 397.7,200.8 398.3,200.3 398.9,199.9 399.5,199.9 400.0,199.5 400.6,199.2 401.2,199.2 401.8,198.8 402.3,198.5 402.9,198.0 403.5,197.5 404.1,196.7 404.6,195.5 405.2,194.2 405.8,192.5 406.4,189.4 406.9,184.5 407.5,177.8 407.8,176.3 408.1,177.6 408.7,184.3 409.2,189.1 409.8,192.1 410.4,193.7 411.0,195.1 411.5,195.9 412.1,196.6 412.7,197.0 413.3,197.5 413.8,197.5 414.4,197.8 415.0,198.0 415.6,198.3 416.1,198.2 416.7,198.2 417.3,198.2 417.9,198.1 418.4,198.2 419.0,198.0 419.6,198.1 420.2,198.0 420.7,198.1 421.3,198.7 421.9,198.7 422.5,199.2 423.0,199.3 423.6,199.8 424.2,199.7 424.8,199.7 425.3,199.4 425.9,199.8 426.5,199.9 427.1,199.6 427.6,199.5 428.2,199.6 428.8,199.5 429.4,199.8 429.9,199.6 430.5,199.8 431.1,199.9 431.7,199.9 432.2,199.9 432.8,200.0 433.4,199.6 434.0,199.8 434.5,200.0 435.1,199.6 435.7,199.5 436.3,199.7 436.8,199.4 437.4,199.6 438.0,199.6 438.6,199.6 439.1,199.7 439.7,199.6 440.3,199.6 440.9,199.5 441.4,199.4 442.0,199.6 442.6,199.1 443.2,199.4 443.7,199.5 444.3,199.5 444.9,199.4 445.5,199.4 446.0,199.5 446.6,199.3 447.2,199.5 447.8,199.6 448.3,199.8 448.9,199.7 449.5,199.8 450.1,199.9 450.6,200.0 451.2,200.1 451.8,200.1 452.4,199.9 452.9,199.9 453.5,199.8 454.1,199.5 454.7,199.6 455.2,199.5 455.8,199.3 456.4,199.3 457.0,199.3 457.6,199.5 458.1,199.3 458.7,199.4 459.3,199.0 459.9,198.9 460.4,198.8 461.0,199.1 461.6,198.9 462.2,198.8 462.7,198.8 463.3,198.8 463.9,198.8 464.5,198.8 465.0,199.0 465.6,199.1 466.2,199.3 466.8,199.3 467.3,199.1 467.9,199.1 468.5,199.2 469.1,199.0 469.6,199.0 470.2,198.8 470.8,198.6 471.4,198.7 471.9,198.5 472.5,198.5 473.1,198.5 473.7,198.3 474.2,198.1 474.8,198.1 475.4,198.0 476.0,198.1 476.5,197.8 477.1,197.8 477.7,197.8 478.3,197.6 478.8,197.6 479.4,198.0 480.0,198.0 480.6,197.9 481.1,197.9 481.7,198.0 482.3,198.1 482.9,198.2 483.4,198.1 484.0,198.0 484.6,198.2 485.2,198.1 485.7,197.8 486.3,198.0 486.9,198.5 487.5,198.6 488.0,198.6 488.6,198.2 489.2,198.4 489.8,198.2 490.3,197.9 490.9,197.9 491.5,197.5 492.1,197.2 492.6,197.2 493.2,196.9 493.8,197.0 494.4,196.7 494.9,196.7 495.5,196.5 496.1,196.5 496.7,196.4 497.2,196.4 497.8,196.2 498.4,196.4 499.0,196.2 499.5,196.1 500.1,196.0 500.7,195.9 501.3,195.8 501.8,195.6 502.4,195.4 503.0,195.4 503.6,195.2 504.1,195.1 504.7,194.8 505.3,194.4 505.9,194.2 506.4,194.4 507.0,194.1 507.6,194.0 508.2,193.7 508.7,193.7 509.3,193.8 509.9,193.4 510.5,193.5 511.0,193.3 511.6,193.2 512.2,193.1 512.8,192.9 513.3,192.8 513.9,193.0 514.5,192.8 515.1,192.4 515.6,192.4 516.2,192.6 516.8,192.2 517.4,192.3 517.9,191.9 518.5,191.7 519.1,191.4 519.7,190.8 520.2,190.8 520.8,190.5 521.4,190.1 522.0,189.8 522.5,189.9 523.1,189.5 523.7,189.5 524.3,189.3 524.8,189.1 525.4,188.8 526.0,188.4 526.6,188.4 527.1,187.7 527.7,187.5 528.3,187.0 528.9,186.6 529.5,186.2 530.0,185.6 530.6,184.8 531.2,184.1 531.8,183.6 532.3,183.0 532.9,182.4 533.5,181.8 534.1,181.0 534.6,180.2 535.2,176.4 535.8,178.7 536.4,177.6 536.9,176.7 537.5,175.6 538.1,174.7 538.7,173.6 539.2,172.5 539.8,170.9 540.4,169.8 541.0,168.2 541.5,166.5 542.1,164.4 542.7,162.1 543.3,159.8 543.8,157.5 544.4,154.9 545.0,152.0 545.6,148.7 546.1,144.6 546.7,140.2 547.3,135.2 547.9,128.8 548.4,121.8 549.0,113.9 549.6,103.9 550.2,92.8 550.7,80.5 551.3,67.2 551.9,54.4 552.5,44.6 553.0,42.8 553.6,55.0 554.2,82.0 554.8,105.8 555.3,123.1 555.9,135.7 556.5,145.0 557.1,152.0 557.6,157.3 558.2,161.4 558.8,165.4 559.4,168.3 559.9,170.7 560.5,172.7 561.1,174.4 561.7,176.0 562.2,177.4 562.8,178.6 563.4,179.6 564.0,180.6 564.5,181.7 565.1,182.2 565.7,182.8 566.3,180.2 566.8,183.6 567.4,184.1 568.0,184.4 568.6,184.5 569.1,184.9 569.7,185.0 570.3,185.0 570.9,185.5 571.4,185.7 572.0,186.0 572.6,186.5 573.2,186.7 573.7,186.6 574.3,187.1 574.9,187.4 575.5,187.8 576.0,187.7 576.6,191.1 577.2,188.0 577.8,188.5 578.3,188.8 578.9,188.9 579.5,189.2 580.1,189.6 580.6,189.8 581.2,190.2 581.8,190.3 582.4,190.4 582.9,190.8 583.5,190.6 584.1,190.7 584.7,190.8 585.2,191.3 585.8,191.2 586.4,191.3 587.0,191.5 587.5,191.7 588.1,191.5 588.7,191.7 589.3,191.9 589.8,191.7 590.4,191.8 591.0,192.1 591.6,192.1 592.1,192.0 592.7,192.1 593.3,191.8 593.9,191.9 594.4,191.8 595.0,191.9 595.6,192.0 596.2,192.3 596.7,192.3 597.3,192.4 597.9,192.6 598.5,192.9 599.0,193.1 599.6,193.2 600.2,193.5 600.8,193.3 601.4,193.8 601.9,193.9 602.5,193.5 603.1,193.6 603.7,193.6 604.2,193.7 604.8,193.8 605.4,193.4 606.0,193.9 606.5,193.5 607.1,193.8 607.7,193.8 608.3,194.0 608.8,194.3 609.4,194.4 610.0,194.4 610.6,194.5 611.1,194.6 611.7,194.5 612.3,194.6 612.9,194.9 613.4,194.8 614.0,195.3 614.6,195.5 615.2,195.6 615.7,195.7 616.3,196.1 616.9,196.1 617.5,196.2 618.0,196.4 618.6,196.4 619.2,196.2 619.8,196.4 620.3,196.2 620.9,196.0 621.5,196.1 622.1,196.0 622.6,195.7 623.2,195.8 623.8,195.7 624.4,195.7 624.9,196.0 625.5,195.9 626.1,196.0 626.7,196.0 627.2,195.9 627.8,196.4 628.4,196.4 629.0,196.6 629.5,196.7 630.1,196.6 630.7,196.6 631.3,196.4 631.8,196.6 632.4,196.5 633.0,196.5 633.6,196.2 634.1,196.2 634.7,196.3 635.3,196.6 635.9,196.4 636.4,196.1 637.0,196.4 637.6,196.2 638.2,196.3 638.7,196.4 639.3,196.7 639.9,196.5 640.5,196.6 641.0,196.8 641.6,196.7 642.2,196.7 642.8,196.3 643.3,196.5 643.9,196.6 644.5,196.9 645.1,196.7 645.6,196.5 646.2,196.5 646.8,196.4 647.4,196.6 647.9,196.3 648.5,196.0 649.1,195.8 649.7,195.6 650.2,195.7 650.8,195.6 651.4,195.8 652.0,196.0 652.5,195.9 653.1,196.1 653.7,196.0 654.3,196.2 654.8,196.4 655.4,196.3 656.0,196.4 656.6,196.3 657.1,196.6 657.7,196.1 658.3,196.1 658.9,196.2 659.4,196.3 660.0,196.3 660.6,196.2 661.2,196.3 661.7,196.5 662.3,196.5 662.9,196.7 663.5,196.8 664.0,197.1 664.6,196.9 665.2,197.3 665.8,197.4 666.3,197.6 666.9,197.6 667.5,197.6 668.1,197.7 668.6,197.8 669.2,197.6 669.8,197.6 670.4,197.7 670.9,197.3 671.5,197.4 672.1,197.5"/>
<polyline stroke="#ed7d31" points="384.5,202.8 385.1,202.8 385.7,202.8 386.2,202.8 386.8,202.8 387.4,202.8 388.0,202.8 388.5,202.8 389.1,202.8 389.7,202.8 390.3,202.8 390.8,202.8 391.4,202.8 392.0,202.8 392.6,202.8 393.1,202.7 393.7,202.7 394.3,202.6 394.9,202.4 395.4,202.0 396.0,201.5 396.6,200.7 397.2,199.9 397.7,199.2 398.3,198.7 398.9,198.2 399.5,197.6 400.0,197.2 400.6,196.5 401.2,196.3 401.8,195.7 402.3,195.2 402.9,194.5 403.5,193.5 404.1,192.0 404.6,190.2 405.2,187.7 405.8,183.9 406.4,177.7 406.9,167.5 407.5,152.8 407.8,149.3 408.1,153.0 408.7,167.3 409.2,177.6 409.8,183.4 410.4,186.9 411.0,189.9 411.5,191.7 412.1,193.0 412.7,194.2 413.3,194.7 413.8,195.5 414.4,196.1 415.0,196.7 415.6,197.1 416.1,197.5 416.7,197.6 417.3,197.9 417.9,198.4 418.4,198.3 419.0,198.5 419.6,198.6 420.2,198.8 420.7,198.9 421.3,199.0 421.9,198.9 422.5,199.0 423.0,199.0 423.6,199.2 424.2,199.2 424.8,199.1 425.3,199.1 425.9,199.4 426.5,199.1 427.1,199.2 427.6,199.3 428.2,199.4 428.8,199.3 429.4,199.3 429.9,199.5 430.5,199.5 431.1,199.4 431.7,199.4 432.2,199.4 432.8,199.3 433.4,199.2 434.0,199.3 434.5,199.2 435.1,199.1 435.7,199.0 436.3,199.3 436.8,199.3 437.4,199.2 438.0,199.3 438.6,199.2 439.1,199.2 439.7,199.3 440.3,199.5 440.9,199.4 441.4,199.2 442.0,199.7 442.6,199.2 443.2,199.7 443.7,199.6 444.3,199.6 444.9,199.7 445.5,199.8 446.0,199.5 446.6,199.5 447.2,199.9 447.8,199.8 448.3,199.7 448.9,199.7 449.5,199.6 450.1,199.4 450.6,199.6 451.2,199.2 451.8,199.6 452.4,199.3 452.9,199.5 453.5,199.0 454.1,199.1 454.7,199.0 455.2,199.2 455.8,199.1 456.4,198.7 457.0,198.7 457.6,198.9 458.1,198.9 458.7,199.0 459.3,199.1 459.9,199.0 460.4,199.1 461.0,199.1 461.6,198.9 462.2,198.9 462.7,198.9 463.3,198.9 463.9,199.4 464.5,199.3 465.0,199.1 465.6,199.3 466.2,199.4 466.8,199.5 467.3,199.2 467.9,198.8 468.5,199.2 469.1,198.6 469.6,198.6 470.2,198.8 470.8,198.3 471.4,198.1 471.9,198.2 472.5,197.9 473.1,197.7 473.7,197.8 474.2,197.7 474.8,197.7 475.4,197.5 476.0,197.8 476.5,197.7 477.1,197.7 477.7,198.0 478.3,197.7 478.8,197.7 479.4,197.8 480.0,197.9 480.6,198.0 481.1,198.0 481.7,197.9 482.3,197.7 482.9,197.8 483.4,197.8 484.0,197.7 484.6,197.6 485.2,197.5 485.7,197.5 486.3,197.2 486.9,197.3 487.5,196.7 488.0,196.9 488.6,196.4 489.2,196.6 489.8,196.6 490.3,196.5 490.9,196.4 491.5,196.2 492.1,196.2 492.6,196.3 493.2,196.7 493.8,196.6 494.4,196.4 494.9,196.4 495.5,196.2 496.1,196.1 496.7,196.6 497.2,196.3 497.8,196.6 498.4,197.1 499.0,197.0 499.5,197.1 500.1,196.8 500.7,196.6 501.3,196.4 501.8,196.1 502.4,196.0 503.0,196.0 503.6,195.8 504.1,195.8 504.7,195.3 505.3,195.0 505.9,195.1 506.4,194.8 507.0,194.8 507.6,194.6 508.2,194.8 508.7,194.4 509.3,193.9 509.9,193.9 510.5,193.9 511.0,193.5 511.6,193.6 512.2,193.3 512.8,193.1 513.3,193.1 513.9,193.1 514.5,193.2 515.1,193.2 515.6,193.5 516.2,193.3 516.8,193.0 517.4,192.9 517.9,192.8 518.5,192.6 519.1,192.4 519.7,192.1 520.2,191.7 520.8,191.5 521.4,190.8 522.0,191.0 522.5,190.6 523.1,190.2 523.7,189.8 524.3,189.6 524.8,189.1 525.4,188.7 526.0,188.3 526.6,187.8 527.1,187.6 527.7,186.9 528.3,186.5 528.9,186.2 529.5,185.8 530.0,185.3 530.6,185.4 531.2,185.0 531.8,184.4 532.3,183.7 532.9,183.6 533.5,182.7 534.1,182.1 534.6,181.2 535.2,180.4 535.8,179.6 536.4,178.9 536.9,178.3 537.5,177.5 538.1,176.7 538.7,176.1 539.2,175.1 539.8,173.7 540.4,172.5 541.0,170.9 541.5,169.7 542.1,167.7 542.7,165.8 543.3,163.8 543.8,161.7 544.4,159.1 545.0,156.2 545.6,152.9 546.1,149.6 546.7,145.7 547.3,141.1 547.9,135.9 548.4,129.7 549.0,122.7 549.6,114.1 550.2,104.8 550.7,93.8 551.3,81.4 551.9,68.0 552.5,55.3 553.0,46.0 553.6,42.8 554.2,44.8 554.8,51.4 555.3,60.9 555.9,71.1 556.5,81.7 557.1,91.8 557.6,100.9 558.2,109.2 558.8,116.3 559.4,122.3 559.9,127.9 560.5,132.6 561.1,136.6 561.7,140.5 562.2,144.1 562.8,147.1 563.4,150.0 564.0,152.1 564.5,154.3 565.1,156.4 565.7,158.1 566.3,160.1 566.8,161.4 567.4,162.9 568.0,164.8 568.6,165.7 569.1,167.2 569.7,168.3 570.3,169.3 570.9,170.4 571.4,171.6 572.0,172.5 572.6,173.1 573.2,174.0 573.7,174.8 574.3,175.3 574.9,176.2 575.5,177.0 576.0,177.8 576.6,178.2 577.2,178.7 577.8,179.4 578.3,179.9 578.9,180.5 579.5,181.1 580.1,181.5 580.6,181.8 581.2,182.4 581.8,182.9 582.4,183.0 582.9,183.6 583.5,183.8 584.1,184.4 584.7,184.8 585.2,185.0 585.8,185.5 586.4,185.8 587.0,186.0 587.5,185.9 588.1,186.4 588.7,186.3 589.3,186.4 589.8,186.7 590.4,186.9 591.0,186.9 591.6,187.2 592.1,187.1 592.7,187.4 593.3,187.3 593.9,187.4 594.4,187.5 595.0,187.6 595.6,187.8 596.2,187.9 596.7,188.2 597.3,188.2 597.9,188.3 598.5,188.7 599.0,188.9 599.6,189.0 600.2,189.1 600.8,189.4 601.4,189.1 601.9,189.4 602.5,189.8 603.1,189.7 603.7,190.3 604.2,190.8 604.8,190.9 605.4,191.1 606.0,191.1 606.5,191.3 607.1,191.5 607.7,191.4 608.3,191.4 608.8,191.9 609.4,191.8 610.0,192.4 610.6,192.5 611.1,192.1 611.7,192.6 612.3,192.8 612.9,192.4 613.4,192.4 614.0,192.4 614.6,192.3 615.2,192.5 615.7,192.6 616.3,192.5 616.9,192.8 617.5,192.6 618.0,192.4 618.6,192.7 619.2,192.8 619.8,192.8 620.3,192.8 620.9,192.8 621.5,192.8 622.1,193.2 622.6,193.3 623.2,193.0 623.8,193.4 624.4,193.4 624.9,193.6 625.5,193.4 626.1,193.7 626.7,193.6 627.2,193.8 627.8,193.9 628.4,193.8 629.0,194.0 629.5,193.9 630.1,193.6 630.7,193.9 631.3,193.7 631.8,193.8 632.4,193.9 633.0,193.7 633.6,193.5 634.1,193.3 634.7,193.2 635.3,193.3 635.9,193.2 636.4,193.3 637.0,193.1 637.6,193.0 638.2,193.2 638.7,193.2 639.3,193.3 639.9,192.9 640.5,192.9 641.0,192.9 641.6,192.7 642.2,192.5 642.8,192.8 643.3,193.0 643.9,193.0 644.5,193.4 645.1,193.4 645.6,193.2 646.2,193.4 646.8,193.3 647.4,192.9 647.9,192.9 648.5,192.9 649.1,192.8 649.7,192.9 650.2,192.9 650.8,192.7 651.4,192.7 652.0,192.7 652.5,192.9 653.1,193.1 653.7,193.0 654.3,193.1 654.8,193.3 655.4,193.3 656.0,193.3 656.6,193.4 657.1,193.6 657.7,193.3 658.3,193.6 658.9,193.5 659.4,193.5 660.0,193.5 660.6,193.5 661.2,193.5 661.7,193.5 662.3,193.6 662.9,193.7 663.5,193.6 664.0,193.8 664.6,193.7 665.2,193.9 665.8,193.9 666.3,193.8 666.9,193.9 667.5,194.0 668.1,193.9 668.6,194.2 669.2,194.2 669.8,194.4 670.4,194.5 670.9,194.2 671.5,194.5 672.1,194.6"/>
<polyline stroke="#4472c4" points="384.5,202.8 385.1,202.8 385.7,202.8 386.2,202.8 386.8,202.8 387.4,202.8 388.0,202.8 388.5,202.8 389.1,202.8 389.7,202.8 390.3,202.8 390.8,202.8 391.4,202.8 392.0,202.8 392.6,202.8 393.1,202.7 393.7,202.7 394.3,202.6 394.9,202.4 395.4,202.1 396.0,201.6 396.6,201.0 397.2,200.2 397.7,199.6 398.3,199.0 398.9,198.8 399.5,198.3 400.0,198.0 400.6,197.9 401.2,197.3 401.8,196.7 402.3,196.0 402.9,195.0 403.5,193.8 404.1,192.8 404.6,191.0 405.2,188.7 405.8,185.0 406.4,179.5 406.9,170.4 407.5,158.4 407.8,155.7 408.1,158.4 408.7,170.4 409.2,179.6 409.8,184.8 410.4,188.3 411.0,190.6 411.5,192.2 412.1,193.8 412.7,194.7 413.3,195.2 413.8,195.8 414.4,196.5 415.0,196.8 415.6,197.1 416.1,197.5 416.7,197.5 417.3,198.2 417.9,198.1 418.4,198.2 419.0,198.5 419.6,198.7 420.2,198.9 420.7,198.7 421.3,198.8 421.9,198.8 422.5,199.1 423.0,199.1 423.6,199.2 424.2,199.4 424.8,199.4 425.3,199.6 425.9,199.4 426.5,199.5 427.1,199.1 427.6,199.3 428.2,199.4 428.8,199.4 429.4,199.7 429.9,199.7 430.5,199.8 431.1,199.6 431.7,199.6 432.2,199.7 432.8,199.9 433.4,200.0 434.0,200.2 434.5,200.1 435.1,200.0 435.7,200.1 436.3,200.0 436.8,200.0 437.4,200.2 438.0,200.2 438.6,200.1 439.1,200.0 439.7,200.4 440.3,200.4 440.9,200.2 441.4,200.1 442.0,200.2 442.6,200.1 443.2,199.8 443.7,200.0 444.3,199.6 444.9,199.5 445.5,199.6 446.0,199.4 446.6,199.4 447.2,199.1 447.8,199.2 448.3,199.2 448.9,199.3 449.5,199.3 450.1,199.2 450.6,199.5 451.2,199.3 451.8,199.4 452.4,199.2 452.9,199.2 453.5,199.3 454.1,199.1 454.7,199.2 455.2,199.1 455.8,199.1 456.4,199.2 457.0,199.2 457.6,199.2 458.1,199.1 458.7,199.1 459.3,199.3 459.9,199.0 460.4,199.4 461.0,199.4 461.6,199.5 462.2,199.7 462.7,199.3 463.3,198.8 463.9,198.8 464.5,198.7 465.0,198.5 465.6,198.8 466.2,198.8 466.8,199.1 467.3,198.8 467.9,199.2 468.5,199.2 469.1,199.1 469.6,198.9 470.2,198.8 470.8,198.9 471.4,198.9 471.9,198.8 472.5,198.6 473.1,198.4 473.7,198.2 474.2,198.2 474.8,198.1 475.4,198.3 476.0,198.4 476.5,198.1 477.1,197.8 477.7,198.0 478.3,197.7 478.8,197.4 479.4,196.8 480.0,197.0 480.6,197.0 481.1,197.3 481.7,197.8 482.3,197.2 482.9,197.3 483.4,197.3 484.0,197.4 484.6,197.5 485.2,197.8 485.7,197.8 486.3,197.8 486.9,197.7 487.5,197.8 488.0,197.5 488.6,197.7 489.2,197.6 489.8,197.6 490.3,197.3 490.9,197.5 491.5,197.5 492.1,197.7 492.6,197.6 493.2,197.3 493.8,197.1 494.4,197.1 494.9,196.8 495.5,196.6 496.1,196.2 496.7,196.5 497.2,196.3 497.8,196.0 498.4,196.2 499.0,196.2 499.5,196.2 500.1,196.4 500.7,196.8 501.3,196.6 501.8,196.7 502.4,196.6 503.0,196.4 503.6,196.2 504.1,195.9 504.7,196.0 505.3,195.5 505.9,195.5 506.4,195.7 507.0,195.4 507.6,195.3 508.2,195.2 508.7,195.1 509.3,195.4 509.9,194.9 510.5,194.8 511.0,194.9 511.6,194.6 512.2,194.3 512.8,194.3 513.3,194.0 513.9,193.9 514.5,193.5 515.1,193.3 515.6,193.1 516.2,192.8 516.8,192.3 517.4,191.9 517.9,191.6 518.5,191.4 519.1,191.1 519.7,190.5 520.2,190.5 520.8,190.4 521.4,190.2 522.0,189.6 522.5,189.5 523.1,189.1 523.7,188.9 524.3,188.7 524.8,188.2 525.4,187.7 526.0,187.6 526.6,187.7 527.1,187.6 527.7,187.1 528.3,187.0 528.9,186.5 529.5,186.2 530.0,186.0 530.6,185.6 531.2,184.7 531.8,184.6 532.3,183.6 532.9,183.0 533.5,182.3 534.1,181.8 534.6,181.0 535.2,180.3 535.8,179.3 536.4,178.7 536.9,178.1 537.5,176.9 538.1,176.1 538.7,175.1 539.2,173.8 539.8,172.7 540.4,171.3 541.0,169.8 541.5,168.2 542.1,166.2 542.7,164.1 543.3,162.3 543.8,159.5 544.4,156.7 545.0,153.9 545.6,150.4 546.1,146.8 546.7,142.4 547.3,137.4 547.9,131.7 548.4,124.6 549.0,116.5 549.6,106.8 550.2,95.6 550.7,83.3 551.3,69.7 551.9,57.0 552.5,47.3 553.0,42.8 553.6,45.9 554.2,52.9 554.8,62.4 555.3,73.6 555.9,84.4 556.5,94.4 557.1,103.5 557.6,111.1 558.2,118.3 558.8,124.2 559.4,129.6 559.9,134.4 560.5,138.3 561.1,142.4 561.7,145.8 562.2,149.0 562.8,151.8 563.4,154.2 564.0,156.3 564.5,158.3 565.1,160.1 565.7,162.2 566.3,163.6 566.8,165.2 567.4,166.2 568.0,168.0 568.6,169.0 569.1,170.0 569.7,171.1 570.3,172.0 570.9,172.8 571.4,174.0 572.0,174.6 572.6,175.2 573.2,175.8 573.7,176.8 574.3,177.6 574.9,178.4 575.5,179.2 576.0,179.8 576.6,180.5 577.2,181.1 577.8,181.7 578.3,182.0 578.9,182.5 579.5,182.7 580.1,183.4 580.6,183.5 581.2,183.8 581.8,184.3 582.4,184.2 582.9,184.6 583.5,184.9 584.1,185.0 584.7,185.1 585.2,185.5 585.8,185.4 586.4,185.9 587.0,185.8 587.5,186.2 588.1,186.3 588.7,186.7 589.3,186.8 589.8,186.9 590.4,186.9 591.0,187.3 591.6,187.0 592.1,187.3 592.7,187.7 593.3,188.0 593.9,188.4 594.4,188.8 595.0,189.2 595.6,189.4 596.2,189.9 596.7,189.5 597.3,189.7 597.9,189.8 598.5,189.8 599.0,189.8 599.6,189.8 600.2,189.6 600.8,189.7 601.4,189.9 601.9,190.1 602.5,190.2 603.1,190.1 603.7,190.2 604.2,190.5 604.8,190.9 605.4,191.0 606.0,191.0 606.5,191.1 607.1,190.9 607.7,191.4 608.3,191.7 608.8,191.4 609.4,191.9 610.0,192.0 610.6,192.1 611.1,192.1 611.7,192.3 612.3,192.8 612.9,193.0 613.4,193.0 614.0,193.3 614.6,193.5 615.2,193.6 615.7,193.5 616.3,193.6 616.9,193.5 617.5,193.5 618.0,193.9 618.6,193.6 619.2,193.7 619.8,193.7 620.3,193.5 620.9,193.5 621.5,193.0 622.1,192.8 622.6,192.7 623.2,192.4 623.8,191.9 624.4,191.8 624.9,191.9 625.5,191.7 626.1,192.0 626.7,192.2 627.2,192.6 627.8,192.5 628.4,192.8 629.0,193.0 629.5,193.1 630.1,193.1 630.7,192.6 631.3,193.0 631.8,192.7 632.4,193.1 633.0,192.8 633.6,192.5 634.1,193.0 634.7,193.2 635.3,193.3 635.9,193.4 636.4,193.5 637.0,193.6 637.6,193.8 638.2,193.9 638.7,194.0 639.3,193.7 639.9,193.8 640.5,193.7 641.0,193.4 641.6,193.4 642.2,193.7 642.8,193.4 643.3,193.6 643.9,193.4 644.5,193.8 645.1,193.7 645.6,193.5 646.2,193.5 646.8,193.6 647.4,193.6 647.9,193.7 648.5,193.9 649.1,193.5 649.7,193.8 650.2,193.6 650.8,193.4 651.4,193.1 652.0,193.3 652.5,193.3 653.1,193.4 653.7,193.2 654.3,192.9 654.8,192.6 655.4,192.7 656.0,192.7 656.6,192.9 657.1,193.1 657.7,193.2 658.3,193.2 658.9,193.5 659.4,193.6 660.0,193.7 660.6,193.7 661.2,193.8 661.7,193.3 662.3,193.9 662.9,194.0 663.5,194.1 664.0,194.0 664.6,194.1 665.2,193.7 665.8,194.1 666.3,193.8 666.9,193.9 667.5,193.3 668.1,193.7 668.6,193.7 669.2,193.8 669.8,193.8 670.4,193.5 670.9,193.5 671.5,193.5 672.1,193.6"/>
</g>
<rect x="384.5" y="10.8" width="287.6" height="192.0" fill="none" stroke="#2a2a2a" stroke-width="1.7"/>
<path d="M380.7 202.8H384.5M380.7 170.8H384.5M380.7 138.8H384.5M380.7 106.8H384.5M380.7 74.8H384.5M380.7 42.8H384.5M380.7 10.8H384.5M384.5 202.8V205.8M396.0 202.8V205.8M407.5 202.8V205.8M419.0 202.8V205.8M430.5 202.8V205.8M442.0 202.8V205.8M453.5 202.8V205.8M465.0 202.8V205.8M476.5 202.8V205.8M488.0 202.8V205.8M499.5 202.8V205.8M511.0 202.8V205.8M522.5 202.8V205.8M534.1 202.8V205.8M545.6 202.8V205.8M557.1 202.8V205.8M568.6 202.8V205.8M580.1 202.8V205.8M591.6 202.8V205.8M603.1 202.8V205.8M614.6 202.8V205.8M626.1 202.8V205.8M637.6 202.8V205.8M649.1 202.8V205.8M660.6 202.8V205.8M672.1 202.8V205.8" stroke="#2a2a2a" stroke-width="1.7" fill="none"/>
<text transform="translate(374.1 206.5) scale(0.97 1.08)" text-anchor="end" class="tl">0</text>
<text transform="translate(374.1 174.5) scale(0.97 1.08)" text-anchor="end" class="tl">0.2</text>
<text transform="translate(374.1 142.5) scale(0.97 1.08)" text-anchor="end" class="tl">0.4</text>
<text transform="translate(374.1 110.5) scale(0.97 1.08)" text-anchor="end" class="tl">0.6</text>
<text transform="translate(374.1 78.5) scale(0.97 1.08)" text-anchor="end" class="tl">0.8</text>
<text transform="translate(374.1 46.5) scale(0.97 1.08)" text-anchor="end" class="tl">1</text>
<text transform="translate(374.1 14.5) scale(0.97 1.08)" text-anchor="end" class="tl">1.2</text>
<text transform="translate(384.5 220.8) scale(0.97 1.08)" text-anchor="middle" class="tl">0</text>
<text transform="translate(442.0 220.8) scale(0.97 1.08)" text-anchor="middle" class="tl">100</text>
<text transform="translate(499.5 220.8) scale(0.97 1.08)" text-anchor="middle" class="tl">200</text>
<text transform="translate(557.1 220.8) scale(0.97 1.08)" text-anchor="middle" class="tl">300</text>
<text transform="translate(614.6 220.8) scale(0.97 1.08)" text-anchor="middle" class="tl">400</text>
<text transform="translate(672.1 220.8) scale(0.97 1.08)" text-anchor="middle" class="tl">500</text>
<text x="528.3" y="236.4" text-anchor="middle" class="at">Frequency (Hz)</text>
<text transform="translate(356.1 106.9) rotate(-90)" text-anchor="middle" class="at">Amplitude (×g) (m/s<tspan class="sup" dy="-4">2</tspan><tspan dy="4">)</tspan></text>
<text x="516.8" y="26.7" text-anchor="middle" class="pl">(b)</text>
<rect x="388.6" y="12.6" width="78.2" height="60.4" fill="#fff" stroke="#1a1a1a" stroke-width="1.3"/>
<line x1="399.8" y1="19.2" x2="412.6" y2="19.2" stroke="#5a5a5a" stroke-width="1.2"/>
<text x="414.5" y="22.4" class="lg">AFL-II_a</text>
<line x1="399.8" y1="31.2" x2="412.6" y2="31.2" stroke="#d2505a" stroke-width="1.2" stroke-dasharray="1 1"/>
<text x="414.5" y="34.5" class="lg">AFL-II_b</text>
<line x1="399.8" y1="43.3" x2="412.6" y2="43.3" stroke="#6fa6d6" stroke-width="1.2"/>
<text x="414.5" y="46.5" class="lg">AFL-II_c</text>
<line x1="399.8" y1="55.4" x2="412.6" y2="55.4" stroke="#eb9456" stroke-width="1.6"/>
<text x="414.5" y="58.6" class="lg">AFL-II_d</text>
<line x1="399.8" y1="67.4" x2="412.6" y2="67.4" stroke="#4a6ec4" stroke-width="1.2"/>
<text x="414.5" y="70.6" class="lg">AFL-II_e</text>
<clipPath id="cpc"><rect x="43.5" y="257.8" width="287.6" height="193.0"/></clipPath>
<g clip-path="url(#cpc)" fill="none" stroke-width="1" stroke-linejoin="round">
<polyline stroke="#262626" points="43.5,450.8 44.1,450.8 44.7,450.8 45.2,450.8 45.8,450.8 46.4,450.8 47.0,450.8 47.5,450.8 48.1,450.8 48.7,450.8 49.3,450.8 49.8,450.8 50.4,450.8 51.0,450.8 51.6,450.8 52.1,450.8 52.7,450.8 53.3,450.8 53.9,450.8 54.4,450.8 55.0,450.7 55.6,450.6 56.2,450.5 56.7,450.3 57.3,449.9 57.9,449.3 58.5,448.5 59.0,448.2 59.6,447.5 60.2,447.0 60.8,446.5 61.3,445.8 61.9,444.9 62.5,444.0 63.1,441.7 63.6,439.1 64.2,434.7 64.5,433.8 64.8,434.9 65.4,438.6 65.9,441.9 66.5,443.6 67.1,444.9 67.7,445.7 68.2,446.4 68.8,446.6 69.4,446.9 70.0,447.2 70.5,447.2 71.1,447.3 71.7,447.4 72.3,447.0 72.8,447.4 73.4,447.4 74.0,447.5 74.6,447.9 75.1,448.0 75.7,447.7 76.3,447.8 76.9,448.1 77.4,448.1 78.0,448.4 78.6,448.3 79.2,448.3 79.7,448.3 80.3,448.1 80.9,447.6 81.5,446.9 82.0,444.1 82.6,446.6 83.2,447.5 83.8,447.7 84.3,447.9 84.9,448.1 85.5,448.1 86.1,448.3 86.6,447.9 87.2,448.0 87.8,447.7 88.4,448.0 88.9,448.1 89.5,447.9 90.1,448.2 90.7,448.1 91.2,448.1 91.8,448.2 92.4,448.2 93.0,448.3 93.5,448.3 94.1,448.2 94.7,447.9 95.3,447.9 95.8,447.7 96.4,447.9 97.0,447.7 97.6,447.9 98.1,447.6 98.7,447.6 99.3,447.6 99.9,447.6 100.4,447.5 101.0,447.9 101.6,447.6 102.2,447.4 102.7,447.6 103.3,447.7 103.9,447.2 104.5,447.4 105.0,447.5 105.6,447.3 106.2,447.4 106.8,447.4 107.3,447.3 107.9,447.5 108.5,447.5 109.1,447.6 109.6,447.6 110.2,447.4 110.8,447.5 111.4,447.6 111.9,447.4 112.5,447.3 113.1,447.4 113.7,447.4 114.2,447.4 114.8,447.6 115.4,447.2 116.0,447.4 116.6,447.5 117.1,447.5 117.7,447.5 118.3,447.5 118.9,447.7 119.4,447.8 120.0,447.8 120.6,447.6 121.2,447.5 121.7,447.4 122.3,447.5 122.9,447.2 123.5,447.3 124.0,446.9 124.6,446.7 125.2,446.5 125.8,446.4 126.3,446.3 126.9,446.1 127.5,446.0 128.1,445.9 128.6,445.8 129.2,445.8 129.8,445.7 130.4,445.9 130.9,446.1 131.5,446.3 132.1,446.0 132.7,445.9 133.2,445.7 133.8,445.7 134.4,445.6 135.0,445.8 135.5,445.5 136.1,445.6 136.7,445.5 137.3,445.5 137.8,445.4 138.4,445.0 139.0,444.7 139.6,444.7 140.1,444.1 140.7,444.3 141.3,444.1 141.9,444.1 142.4,443.9 143.0,444.1 143.6,443.9 144.2,443.9 144.7,444.0 145.3,444.1 145.9,444.1 146.5,444.2 147.0,444.2 147.6,444.0 148.2,444.1 148.8,443.9 149.3,444.1 149.9,443.7 150.5,443.9 151.1,443.7 151.6,443.3 152.2,443.3 152.8,442.9 153.4,442.6 153.9,442.5 154.5,442.0 155.1,441.9 155.7,441.9 156.2,441.5 156.8,441.1 157.4,441.2 158.0,441.2 158.5,441.1 159.1,440.8 159.7,441.0 160.3,441.1 160.8,440.8 161.4,440.7 162.0,440.4 162.6,440.5 163.1,440.5 163.7,440.2 164.3,439.7 164.9,439.4 165.4,439.4 166.0,439.2 166.6,438.7 167.2,438.3 167.7,438.5 168.3,438.5 168.9,438.4 169.5,438.2 170.0,437.7 170.6,437.5 171.2,437.4 171.8,437.0 172.3,436.4 172.9,436.5 173.5,436.0 174.1,435.6 174.6,435.3 175.2,435.1 175.8,434.4 176.4,434.2 176.9,433.6 177.5,432.9 178.1,432.4 178.7,431.9 179.2,431.0 179.8,429.8 180.4,429.4 181.0,428.5 181.5,427.7 182.1,427.2 182.7,426.2 183.3,425.2 183.8,424.3 184.4,422.8 185.0,421.8 185.6,420.3 186.1,419.1 186.7,417.5 187.3,415.8 187.9,414.0 188.5,411.9 189.0,409.7 189.6,407.1 190.2,404.4 190.8,401.4 191.3,398.4 191.9,394.2 192.5,389.7 193.1,384.7 193.6,378.6 194.2,371.3 194.8,363.1 195.4,353.4 195.9,341.9 196.5,329.1 197.1,315.4 197.7,302.3 198.2,292.2 198.8,290.8 199.4,308.4 200.0,341.1 200.5,365.6 201.1,382.4 201.7,393.6 202.3,401.6 202.8,407.4 203.4,412.1 204.0,415.3 204.6,418.2 205.1,420.6 205.7,422.5 206.3,424.2 206.9,425.5 207.4,426.5 208.0,427.6 208.6,428.2 209.2,428.2 209.7,428.0 210.3,427.3 210.9,426.6 211.5,425.0 212.0,423.4 212.6,421.2 213.2,420.4 213.8,421.6 214.3,423.6 214.9,425.9 215.5,427.1 216.1,428.4 216.6,429.4 217.2,430.1 217.8,430.8 218.4,431.4 218.9,431.8 219.5,432.2 220.1,432.3 220.7,432.6 221.2,432.7 221.8,432.9 222.4,432.8 223.0,433.1 223.5,433.2 224.1,433.2 224.7,433.4 225.3,433.4 225.8,433.8 226.4,433.7 227.0,433.9 227.6,433.7 228.1,434.2 228.7,434.6 229.3,434.8 229.9,435.2 230.4,435.2 231.0,435.6 231.6,436.2 232.2,436.2 232.7,436.4 233.3,436.5 233.9,437.1 234.5,437.3 235.0,437.4 235.6,437.9 236.2,438.2 236.8,438.5 237.3,438.7 237.9,438.9 238.5,439.2 239.1,439.6 239.6,439.6 240.2,439.5 240.8,439.7 241.4,439.8 241.9,439.8 242.5,440.0 243.1,439.9 243.7,440.0 244.2,440.0 244.8,439.9 245.4,440.0 246.0,440.2 246.5,440.2 247.1,440.2 247.7,440.2 248.3,440.5 248.8,440.3 249.4,440.5 250.0,440.7 250.6,440.6 251.1,440.6 251.7,440.6 252.3,441.0 252.9,441.2 253.4,440.9 254.0,441.3 254.6,441.4 255.2,441.3 255.7,441.2 256.3,441.1 256.9,441.1 257.5,440.8 258.0,441.1 258.6,441.1 259.2,441.3 259.8,440.8 260.4,440.8 260.9,440.9 261.5,441.3 262.1,441.2 262.7,441.0 263.2,440.9 263.8,440.7 264.4,440.9 265.0,441.0 265.5,440.5 266.1,440.7 266.7,440.9 267.3,440.7 267.8,440.6 268.4,440.6 269.0,440.8 269.6,440.6 270.1,440.6 270.7,440.4 271.3,440.7 271.9,440.8 272.4,440.7 273.0,440.6 273.6,440.8 274.2,440.6 274.7,440.4 275.3,440.5 275.9,440.6 276.5,440.7 277.0,440.7 277.6,440.8 278.2,441.0 278.8,440.9 279.3,441.4 279.9,440.9 280.5,441.3 281.1,441.4 281.6,441.5 282.2,441.5 282.8,441.5 283.4,441.6 283.9,441.5 284.5,441.8 285.1,441.7 285.7,441.6 286.2,441.7 286.8,441.7 287.4,441.8 288.0,441.9 288.5,441.8 289.1,442.1 289.7,441.9 290.3,442.0 290.8,441.8 291.4,441.9 292.0,442.1 292.6,442.0 293.1,442.5 293.7,442.4 294.3,442.5 294.9,442.6 295.4,442.4 296.0,442.4 296.6,442.1 297.2,442.1 297.7,442.0 298.3,442.1 298.9,442.1 299.5,442.0 300.0,442.1 300.6,442.1 301.2,442.0 301.8,441.7 302.3,442.0 302.9,441.8 303.5,441.4 304.1,441.7 304.6,441.8 305.2,441.7 305.8,441.4 306.4,441.7 306.9,441.4 307.5,441.6 308.1,441.7 308.7,441.5 309.2,441.3 309.8,436.4 310.4,439.7 311.0,441.6 311.5,441.3 312.1,441.3 312.7,441.5 313.3,441.4 313.8,441.4 314.4,441.2 315.0,441.0 315.6,441.3 316.1,441.2 316.7,441.0 317.3,441.0 317.9,441.0 318.4,440.9 319.0,441.1 319.6,441.1 320.2,441.1 320.7,441.2 321.3,440.9 321.9,441.0 322.5,440.9 323.0,441.2 323.6,441.2 324.2,441.4 324.8,441.6 325.3,441.6 325.9,441.5 326.5,441.6 327.1,441.6 327.6,441.8 328.2,441.8 328.8,441.7 329.4,441.7 329.9,441.5 330.5,441.8 331.1,441.8"/>
<polyline stroke="#b41e1e" stroke-dasharray="1 1" points="43.5,450.8 44.1,450.8 44.7,450.8 45.2,450.8 45.8,450.8 46.4,450.8 47.0,450.8 47.5,450.8 48.1,450.8 48.7,450.8 49.3,450.8 49.8,450.8 50.4,450.8 51.0,450.8 51.6,450.8 52.1,450.8 52.7,450.8 53.3,450.8 53.9,450.8 54.4,450.8 55.0,450.7 55.6,450.7 56.2,450.6 56.7,450.4 57.3,450.1 57.9,449.7 58.5,449.1 59.0,448.4 59.6,448.0 60.2,447.5 60.8,446.7 61.3,446.0 61.9,445.3 62.5,444.1 63.1,441.9 63.6,438.9 64.2,434.6 64.5,433.6 64.8,434.6 65.4,438.9 65.9,442.2 66.5,444.0 67.1,445.1 67.7,445.9 68.2,446.4 68.8,446.7 69.4,447.0 70.0,447.0 70.5,447.1 71.1,447.0 71.7,447.2 72.3,447.2 72.8,447.3 73.4,447.6 74.0,447.6 74.6,447.8 75.1,447.9 75.7,447.7 76.3,447.9 76.9,447.9 77.4,447.8 78.0,447.8 78.6,448.1 79.2,448.1 79.7,448.1 80.3,448.0 80.9,447.7 81.5,446.8 82.0,444.4 82.6,447.0 83.2,447.9 83.8,448.3 84.3,448.8 84.9,448.6 85.5,449.2 86.1,449.1 86.6,449.3 87.2,449.4 87.8,449.2 88.4,449.5 88.9,449.3 89.5,449.2 90.1,449.3 90.7,449.3 91.2,449.2 91.8,449.1 92.4,449.2 93.0,449.2 93.5,449.1 94.1,449.4 94.7,449.4 95.3,449.4 95.8,449.4 96.4,449.5 97.0,449.6 97.6,449.4 98.1,449.4 98.7,449.5 99.3,449.5 99.9,449.7 100.4,449.6 101.0,449.1 101.6,449.1 102.2,449.0 102.7,448.9 103.3,448.8 103.9,448.6 104.5,448.3 105.0,448.3 105.6,448.1 106.2,448.2 106.8,448.3 107.3,448.1 107.9,448.3 108.5,448.3 109.1,448.2 109.6,448.3 110.2,448.3 110.8,448.3 111.4,448.3 111.9,448.2 112.5,448.2 113.1,448.0 113.7,448.0 114.2,448.0 114.8,448.1 115.4,448.1 116.0,448.1 116.6,448.1 117.1,448.2 117.7,448.1 118.3,448.4 118.9,448.2 119.4,448.4 120.0,448.2 120.6,448.1 121.2,448.0 121.7,448.1 122.3,448.1 122.9,447.8 123.5,448.2 124.0,448.0 124.6,448.3 125.2,447.9 125.8,447.9 126.3,448.3 126.9,448.1 127.5,448.4 128.1,448.3 128.6,448.4 129.2,448.5 129.8,448.5 130.4,448.4 130.9,448.3 131.5,448.5 132.1,448.1 132.7,447.9 133.2,447.8 133.8,447.4 134.4,447.5 135.0,447.5 135.5,447.3 136.1,447.1 136.7,446.9 137.3,446.9 137.8,447.0 138.4,447.1 139.0,447.2 139.6,447.0 140.1,447.1 140.7,447.0 141.3,446.7 141.9,447.2 142.4,447.3 143.0,447.1 143.6,447.3 144.2,447.3 144.7,447.3 145.3,447.3 145.9,447.2 146.5,446.8 147.0,446.8 147.6,446.8 148.2,446.8 148.8,446.8 149.3,446.7 149.9,446.5 150.5,446.4 151.1,446.3 151.6,446.3 152.2,446.2 152.8,445.8 153.4,445.9 153.9,446.0 154.5,445.8 155.1,445.7 155.7,445.7 156.2,445.5 156.8,445.4 157.4,445.5 158.0,445.6 158.5,445.5 159.1,445.1 159.7,445.3 160.3,444.8 160.8,444.9 161.4,445.0 162.0,444.5 162.6,444.7 163.1,444.5 163.7,444.3 164.3,443.8 164.9,443.6 165.4,443.0 166.0,443.3 166.6,442.9 167.2,442.8 167.7,442.7 168.3,442.4 168.9,442.3 169.5,441.7 170.0,441.6 170.6,441.4 171.2,441.3 171.8,440.7 172.3,440.9 172.9,440.5 173.5,440.5 174.1,440.2 174.6,440.2 175.2,439.6 175.8,439.7 176.4,439.4 176.9,438.9 177.5,438.7 178.1,438.5 178.7,438.0 179.2,437.4 179.8,436.8 180.4,436.2 181.0,435.6 181.5,435.4 182.1,434.7 182.7,434.3 183.3,433.3 183.8,432.9 184.4,431.9 185.0,431.3 185.6,430.8 186.1,429.9 186.7,429.2 187.3,428.3 187.9,427.3 188.5,426.0 189.0,424.8 189.6,423.1 190.2,421.3 190.8,419.4 191.3,417.3 191.9,415.2 192.5,412.1 193.1,408.7 193.6,404.5 194.2,400.4 194.8,394.5 195.4,387.8 195.9,379.2 196.5,368.0 197.1,354.4 197.7,337.1 198.2,317.0 198.8,298.6 199.4,290.8 200.0,301.0 200.5,323.4 201.1,345.2 201.7,362.5 202.3,376.0 202.8,386.2 203.4,394.0 204.0,400.4 204.6,405.6 205.1,409.7 205.7,413.1 206.3,416.1 206.9,418.6 207.4,421.0 208.0,422.7 208.6,424.3 209.2,425.7 209.7,426.9 210.3,428.0 210.9,429.1 211.5,430.0 212.0,431.0 212.6,431.8 213.2,432.8 213.8,433.2 214.3,433.7 214.9,434.2 215.5,434.6 216.1,435.1 216.6,435.7 217.2,436.0 217.8,436.2 218.4,436.8 218.9,437.4 219.5,437.7 220.1,438.0 220.7,438.2 221.2,438.6 221.8,438.8 222.4,439.2 223.0,439.6 223.5,439.9 224.1,439.8 224.7,440.1 225.3,439.9 225.8,440.3 226.4,440.2 227.0,440.2 227.6,440.5 228.1,440.8 228.7,440.6 229.3,440.7 229.9,440.4 230.4,440.8 231.0,441.0 231.6,441.1 232.2,441.1 232.7,441.3 233.3,441.3 233.9,441.3 234.5,441.7 235.0,441.9 235.6,441.9 236.2,441.9 236.8,442.3 237.3,442.4 237.9,442.3 238.5,442.3 239.1,442.0 239.6,442.2 240.2,442.3 240.8,442.4 241.4,442.7 241.9,442.7 242.5,443.2 243.1,443.4 243.7,443.3 244.2,443.4 244.8,443.2 245.4,443.1 246.0,442.9 246.5,442.7 247.1,443.0 247.7,442.8 248.3,442.7 248.8,442.8 249.4,442.3 250.0,442.7 250.6,442.7 251.1,442.7 251.7,442.9 252.3,443.1 252.9,443.0 253.4,443.1 254.0,442.8 254.6,443.2 255.2,443.1 255.7,442.9 256.3,443.0 256.9,443.0 257.5,443.0 258.0,443.1 258.6,443.3 259.2,442.9 259.8,443.2 260.4,442.8 260.9,442.8 261.5,443.0 262.1,442.7 262.7,442.9 263.2,442.9 263.8,443.1 264.4,443.1 265.0,443.0 265.5,443.2 266.1,443.0 266.7,443.2 267.3,443.2 267.8,443.4 268.4,443.2 269.0,443.3 269.6,443.4 270.1,443.3 270.7,443.2 271.3,442.9 271.9,443.1 272.4,443.0 273.0,443.0 273.6,443.2 274.2,443.1 274.7,443.0 275.3,443.1 275.9,442.8 276.5,443.0 277.0,443.0 277.6,443.1 278.2,443.1 278.8,443.3 279.3,443.2 279.9,443.4 280.5,443.6 281.1,443.3 281.6,443.2 282.2,443.2 282.8,443.2 283.4,443.5 283.9,443.2 284.5,443.5 285.1,443.4 285.7,443.2 286.2,443.3 286.8,443.4 287.4,443.5 288.0,443.5 288.5,443.4 289.1,443.7 289.7,443.6 290.3,443.5 290.8,443.1 291.4,443.2 292.0,443.0 292.6,443.0 293.1,443.0 293.7,442.8 294.3,442.9 294.9,442.8 295.4,442.8 296.0,442.5 296.6,442.6 297.2,442.7 297.7,442.7 298.3,442.7 298.9,442.9 299.5,442.7 300.0,442.5 300.6,442.6 301.2,442.7 301.8,443.0 302.3,442.9 302.9,443.0 303.5,443.2 304.1,443.3 304.6,443.2 305.2,443.4 305.8,443.2 306.4,443.3 306.9,443.6 307.5,444.0 308.1,443.9 308.7,443.8 309.2,444.0 309.8,443.9 310.4,444.0 311.0,443.8 311.5,443.5 312.1,443.6 312.7,443.8 313.3,443.7 313.8,443.7 314.4,443.9 315.0,443.8 315.6,443.8 316.1,443.7 316.7,443.8 317.3,443.9 317.9,443.9 318.4,443.9 319.0,444.0 319.6,443.4 320.2,443.7 320.7,443.5 321.3,443.1 321.9,443.4 322.5,443.3 323.0,443.4 323.6,443.3 324.2,443.3 324.8,443.1 325.3,443.4 325.9,443.3 326.5,443.1 327.1,443.0 327.6,443.1 328.2,442.9 328.8,442.9 329.4,442.8 329.9,442.6 330.5,443.1 331.1,442.9"/>
<polyline stroke="#5b9bd5" points="43.5,450.8 44.1,450.8 44.7,450.8 45.2,450.8 45.8,450.8 46.4,450.8 47.0,450.8 47.5,450.8 48.1,450.8 48.7,450.8 49.3,450.8 49.8,450.8 50.4,450.8 51.0,450.8 51.6,450.8 52.1,450.8 52.7,450.8 53.3,450.8 53.9,450.8 54.4,450.8 55.0,450.7 55.6,450.7 56.2,450.6 56.7,450.5 57.3,450.2 57.9,449.8 58.5,449.2 59.0,448.7 59.6,448.2 60.2,448.0 60.8,447.5 61.3,446.7 61.9,446.0 62.5,444.7 63.1,442.8 63.6,439.4 64.2,435.2 64.5,434.3 64.8,435.5 65.4,439.1 65.9,442.8 66.5,444.3 67.1,445.5 67.7,446.1 68.2,446.7 68.8,446.9 69.4,447.1 70.0,447.5 70.5,447.4 71.1,447.4 71.7,447.5 72.3,447.3 72.8,447.7 73.4,447.6 74.0,447.9 74.6,448.2 75.1,448.0 75.7,448.4 76.3,448.2 76.9,448.4 77.4,448.5 78.0,449.0 78.6,448.6 79.2,448.7 79.7,448.5 80.3,448.4 80.9,447.7 81.5,446.8 82.0,444.3 82.6,447.0 83.2,448.1 83.8,448.5 84.3,448.8 84.9,449.2 85.5,449.3 86.1,449.5 86.6,449.4 87.2,449.2 87.8,449.3 88.4,449.2 88.9,449.2 89.5,448.9 90.1,449.0 90.7,449.0 91.2,449.0 91.8,449.0 92.4,448.9 93.0,449.0 93.5,448.9 94.1,449.1 94.7,449.2 95.3,449.3 95.8,449.1 96.4,449.2 97.0,449.3 97.6,449.0 98.1,448.9 98.7,449.4 99.3,449.2 99.9,448.9 100.4,449.2 101.0,449.6 101.6,449.3 102.2,449.4 102.7,449.5 103.3,449.1 103.9,449.2 104.5,449.1 105.0,449.2 105.6,449.2 106.2,449.0 106.8,449.0 107.3,448.8 107.9,448.6 108.5,448.7 109.1,448.7 109.6,448.5 110.2,448.4 110.8,448.5 111.4,448.6 111.9,448.6 112.5,448.4 113.1,448.1 113.7,448.3 114.2,448.1 114.8,448.3 115.4,448.1 116.0,447.9 116.6,448.1 117.1,448.0 117.7,447.7 118.3,447.6 118.9,447.6 119.4,447.5 120.0,447.6 120.6,447.5 121.2,447.8 121.7,447.8 122.3,448.1 122.9,448.1 123.5,447.9 124.0,447.7 124.6,448.1 125.2,448.0 125.8,447.8 126.3,447.6 126.9,447.6 127.5,447.5 128.1,447.4 128.6,447.3 129.2,447.4 129.8,447.5 130.4,447.6 130.9,447.5 131.5,447.6 132.1,447.4 132.7,447.1 133.2,447.3 133.8,447.2 134.4,447.3 135.0,447.1 135.5,447.0 136.1,446.9 136.7,446.9 137.3,447.0 137.8,446.9 138.4,446.8 139.0,446.6 139.6,446.5 140.1,446.6 140.7,446.4 141.3,446.6 141.9,446.7 142.4,446.4 143.0,446.3 143.6,446.3 144.2,446.2 144.7,446.1 145.3,446.0 145.9,445.7 146.5,445.8 147.0,445.5 147.6,445.4 148.2,445.3 148.8,445.2 149.3,444.9 149.9,444.9 150.5,444.8 151.1,444.8 151.6,444.4 152.2,444.5 152.8,444.4 153.4,444.4 153.9,444.3 154.5,444.3 155.1,444.2 155.7,444.2 156.2,443.9 156.8,443.9 157.4,443.8 158.0,443.9 158.5,443.6 159.1,444.0 159.7,443.7 160.3,443.8 160.8,443.9 161.4,444.1 162.0,443.9 162.6,444.1 163.1,443.8 163.7,444.0 164.3,443.6 164.9,443.4 165.4,443.2 166.0,443.3 166.6,442.7 167.2,442.7 167.7,442.5 168.3,441.9 168.9,442.2 169.5,441.9 170.0,441.5 170.6,441.4 171.2,441.3 171.8,441.0 172.3,440.8 172.9,440.3 173.5,440.0 174.1,439.7 174.6,439.2 175.2,438.8 175.8,438.5 176.4,438.3 176.9,438.4 177.5,438.0 178.1,437.9 178.7,437.5 179.2,436.8 179.8,436.6 180.4,435.9 181.0,435.6 181.5,435.0 182.1,434.6 182.7,433.5 183.3,433.1 183.8,432.4 184.4,431.7 185.0,430.9 185.6,430.0 186.1,429.1 186.7,428.1 187.3,427.2 187.9,425.8 188.5,424.5 189.0,423.3 189.6,421.2 190.2,420.1 190.8,418.2 191.3,415.6 191.9,413.0 192.5,410.0 193.1,406.3 193.6,402.0 194.2,397.2 194.8,391.6 195.4,383.9 195.9,375.2 196.5,364.1 197.1,350.4 197.7,333.5 198.2,314.4 198.8,296.9 199.4,290.8 200.0,297.9 200.5,316.8 201.1,336.3 201.7,353.6 202.3,366.9 202.8,377.8 203.4,386.2 204.0,393.1 204.6,398.4 205.1,402.8 205.7,406.7 206.3,409.9 206.9,412.6 207.4,415.3 208.0,417.4 208.6,419.3 209.2,421.1 209.7,422.5 210.3,424.0 210.9,425.1 211.5,426.4 212.0,427.1 212.6,428.1 213.2,429.1 213.8,429.6 214.3,430.4 214.9,431.3 215.5,432.0 216.1,432.4 216.6,432.8 217.2,433.5 217.8,433.7 218.4,434.5 218.9,434.8 219.5,435.1 220.1,435.6 220.7,436.0 221.2,436.2 221.8,436.5 222.4,436.4 223.0,436.6 223.5,436.9 224.1,437.3 224.7,437.6 225.3,437.7 225.8,438.2 226.4,438.6 227.0,438.7 227.6,439.2 228.1,439.3 228.7,439.9 229.3,440.0 229.9,439.9 230.4,440.0 231.0,440.1 231.6,440.2 232.2,440.5 232.7,440.3 233.3,440.3 233.9,440.6 234.5,440.6 235.0,440.8 235.6,441.0 236.2,441.0 236.8,441.3 237.3,441.5 237.9,441.4 238.5,441.4 239.1,441.6 239.6,442.0 240.2,441.9 240.8,441.7 241.4,441.9 241.9,441.8 242.5,441.9 243.1,441.9 243.7,442.1 244.2,442.3 244.8,442.4 245.4,442.3 246.0,442.2 246.5,442.6 247.1,442.5 247.7,442.7 248.3,443.0 248.8,442.8 249.4,442.7 250.0,443.2 250.6,443.1 251.1,443.2 251.7,443.3 252.3,443.5 252.9,443.5 253.4,443.7 254.0,443.6 254.6,443.6 255.2,443.6 255.7,443.3 256.3,443.5 256.9,443.4 257.5,443.2 258.0,443.3 258.6,443.4 259.2,442.9 259.8,442.9 260.4,443.0 260.9,442.6 261.5,442.6 262.1,442.8 262.7,442.9 263.2,442.8 263.8,443.0 264.4,442.7 265.0,443.0 265.5,442.9 266.1,442.9 266.7,442.6 267.3,442.5 267.8,442.9 268.4,442.9 269.0,442.9 269.6,442.9 270.1,443.0 270.7,443.3 271.3,443.4 271.9,443.4 272.4,443.3 273.0,443.5 273.6,443.2 274.2,443.2 274.7,443.4 275.3,443.5 275.9,443.1 276.5,443.3 277.0,443.3 277.6,443.1 278.2,443.3 278.8,443.1 279.3,443.3 279.9,443.2 280.5,443.3 281.1,443.0 281.6,443.1 282.2,443.2 282.8,443.2 283.4,443.1 283.9,443.0 284.5,443.0 285.1,442.6 285.7,442.8 286.2,443.1 286.8,443.0 287.4,443.2 288.0,443.4 288.5,443.7 289.1,443.5 289.7,443.6 290.3,443.9 290.8,443.9 291.4,443.8 292.0,443.7 292.6,443.6 293.1,443.8 293.7,443.8 294.3,443.8 294.9,444.0 295.4,444.1 296.0,444.0 296.6,444.1 297.2,444.2 297.7,444.4 298.3,444.1 298.9,444.2 299.5,443.9 300.0,443.6 300.6,443.6 301.2,443.7 301.8,443.7 302.3,443.3 302.9,443.3 303.5,443.3 304.1,443.3 304.6,443.3 305.2,443.2 305.8,443.2 306.4,443.5 306.9,443.4 307.5,443.5 308.1,443.4 308.7,443.3 309.2,443.2 309.8,443.0 310.4,443.2 311.0,443.5 311.5,443.2 312.1,442.9 312.7,442.9 313.3,443.1 313.8,442.9 314.4,443.2 315.0,443.3 315.6,443.6 316.1,443.6 316.7,443.6 317.3,443.6 317.9,443.6 318.4,443.7 319.0,443.6 319.6,443.6 320.2,443.5 320.7,443.5 321.3,443.2 321.9,443.3 322.5,443.1 323.0,443.3 323.6,442.8 324.2,442.9 324.8,442.9 325.3,442.9 325.9,442.6 326.5,442.6 327.1,442.4 327.6,442.5 328.2,442.6 328.8,442.3 329.4,442.6 329.9,442.3 330.5,442.5 331.1,442.5"/>
<polyline stroke="#ed7d31" points="43.5,450.8 44.1,450.8 44.7,450.8 45.2,450.8 45.8,450.8 46.4,450.8 47.0,450.8 47.5,450.8 48.1,450.8 48.7,450.8 49.3,450.8 49.8,450.8 50.4,450.8 51.0,450.8 51.6,450.8 52.1,450.8 52.7,450.8 53.3,450.8 53.9,450.8 54.4,450.8 55.0,450.8 55.6,450.7 56.2,450.6 56.7,450.4 57.3,450.0 57.9,449.6 58.5,449.1 59.0,448.6 59.6,448.3 60.2,447.5 60.8,447.2 61.3,446.5 61.9,445.5 62.5,444.3 63.1,442.7 63.6,439.3 64.2,435.2 64.5,434.3 64.8,435.3 65.4,439.5 65.9,442.6 66.5,444.8 67.1,445.9 67.7,446.6 68.2,447.0 68.8,447.1 69.4,447.6 70.0,447.5 70.5,447.3 71.1,447.5 71.7,447.5 72.3,447.8 72.8,447.7 73.4,448.2 74.0,448.1 74.6,448.4 75.1,448.0 75.7,448.1 76.3,448.3 76.9,448.2 77.4,448.3 78.0,448.4 78.6,448.5 79.2,448.6 79.7,448.7 80.3,448.3 80.9,448.1 81.5,447.3 82.0,444.5 82.6,447.6 83.2,448.4 83.8,448.8 84.3,448.8 84.9,448.9 85.5,449.3 86.1,449.1 86.6,449.4 87.2,449.1 87.8,448.9 88.4,449.0 88.9,449.2 89.5,449.3 90.1,449.3 90.7,449.2 91.2,449.5 91.8,449.1 92.4,449.3 93.0,449.1 93.5,449.0 94.1,449.2 94.7,449.1 95.3,449.1 95.8,449.3 96.4,449.2 97.0,449.2 97.6,449.2 98.1,449.1 98.7,449.2 99.3,449.3 99.9,449.3 100.4,449.3 101.0,449.3 101.6,449.2 102.2,449.1 102.7,449.2 103.3,449.1 103.9,449.0 104.5,448.9 105.0,448.7 105.6,448.6 106.2,448.5 106.8,448.5 107.3,448.7 107.9,448.6 108.5,448.7 109.1,448.5 109.6,448.2 110.2,448.1 110.8,448.1 111.4,448.4 111.9,448.1 112.5,448.3 113.1,448.2 113.7,448.3 114.2,448.2 114.8,448.5 115.4,448.4 116.0,448.7 116.6,448.7 117.1,448.6 117.7,448.6 118.3,448.9 118.9,448.7 119.4,448.7 120.0,448.9 120.6,448.8 121.2,448.6 121.7,448.5 122.3,448.4 122.9,448.2 123.5,448.1 124.0,448.0 124.6,447.8 125.2,447.7 125.8,447.5 126.3,447.3 126.9,447.1 127.5,447.2 128.1,447.2 128.6,447.3 129.2,447.3 129.8,447.1 130.4,447.5 130.9,447.5 131.5,447.6 132.1,447.4 132.7,447.5 133.2,447.2 133.8,447.4 134.4,447.1 135.0,447.0 135.5,447.6 136.1,447.3 136.7,447.3 137.3,447.4 137.8,447.5 138.4,447.5 139.0,447.4 139.6,447.5 140.1,447.2 140.7,447.4 141.3,447.3 141.9,447.4 142.4,446.9 143.0,447.0 143.6,447.2 144.2,446.9 144.7,447.0 145.3,446.8 145.9,446.8 146.5,446.6 147.0,446.9 147.6,446.9 148.2,446.9 148.8,446.6 149.3,446.6 149.9,446.5 150.5,446.4 151.1,446.0 151.6,446.2 152.2,446.1 152.8,446.2 153.4,446.1 153.9,446.3 154.5,446.0 155.1,446.2 155.7,445.6 156.2,445.8 156.8,445.6 157.4,445.4 158.0,445.3 158.5,445.3 159.1,444.9 159.7,445.1 160.3,444.9 160.8,445.3 161.4,445.1 162.0,444.8 162.6,444.7 163.1,444.5 163.7,444.8 164.3,444.5 164.9,444.4 165.4,444.0 166.0,443.6 166.6,443.8 167.2,443.9 167.7,443.5 168.3,443.5 168.9,443.1 169.5,443.2 170.0,442.7 170.6,442.4 171.2,442.0 171.8,442.0 172.3,441.5 172.9,440.9 173.5,441.4 174.1,443.2 174.6,439.7 175.2,440.4 175.8,440.1 176.4,440.2 176.9,437.3 177.5,438.4 178.1,437.3 178.7,439.7 179.2,439.6 179.8,440.1 180.4,438.6 181.0,442.2 181.5,434.3 182.1,436.5 182.7,436.1 183.3,434.3 183.8,436.1 184.4,434.8 185.0,433.3 185.6,436.5 186.1,430.4 186.7,432.3 187.3,430.6 187.9,432.3 188.5,430.6 189.0,425.6 189.6,428.2 190.2,426.4 190.8,423.2 191.3,420.2 191.9,424.5 192.5,415.4 193.1,414.2 193.6,409.8 194.2,408.8 194.8,401.4 195.4,392.9 195.9,388.0 196.5,378.9 197.1,364.9 197.7,347.5 198.2,322.9 198.8,301.5 199.4,291.6 200.0,306.6 200.5,339.4 201.1,364.3 201.7,374.5 202.3,391.7 202.8,396.4 203.4,406.1 204.0,411.5 204.6,414.1 205.1,419.5 205.7,422.3 206.3,423.4 206.9,425.7 207.4,425.1 208.0,424.6 208.6,431.5 209.2,432.3 209.7,430.5 210.3,431.7 210.9,431.5 211.5,435.2 212.0,433.7 212.6,435.4 213.2,438.8 213.8,435.7 214.3,439.5 214.9,436.3 215.5,438.5 216.1,438.2 216.6,434.4 217.2,435.6 217.8,437.8 218.4,438.2 218.9,440.4 219.5,437.1 220.1,438.7 220.7,441.4 221.2,443.0 221.8,440.4 222.4,441.2 223.0,439.6 223.5,443.0 224.1,443.2 224.7,441.1 225.3,441.9 225.8,440.6 226.4,440.4 227.0,444.1 227.6,446.9 228.1,442.6 228.7,444.3 229.3,443.0 229.9,448.1 230.4,443.9 231.0,443.6 231.6,444.8 232.2,443.4 232.7,444.2 233.3,443.5 233.9,442.2 234.5,442.5 235.0,442.3 235.6,443.6 236.2,443.9 236.8,444.0 237.3,444.2 237.9,443.9 238.5,443.8 239.1,443.7 239.6,443.7 240.2,443.8 240.8,443.5 241.4,443.7 241.9,444.0 242.5,443.7 243.1,443.9 243.7,443.9 244.2,444.2 244.8,444.4 245.4,444.7 246.0,444.8 246.5,444.8 247.1,444.8 247.7,444.8 248.3,445.2 248.8,445.2 249.4,445.2 250.0,445.1 250.6,445.0 251.1,445.3 251.7,445.4 252.3,445.6 252.9,445.8 253.4,446.0 254.0,445.9 254.6,446.1 255.2,445.8 255.7,446.0 256.3,445.9 256.9,445.6 257.5,445.5 258.0,445.9 258.6,445.8 259.2,446.0 259.8,445.9 260.4,446.2 260.9,446.1 261.5,445.8 262.1,445.9 262.7,445.6 263.2,445.6 263.8,445.4 264.4,445.5 265.0,445.0 265.5,445.3 266.1,444.8 266.7,445.1 267.3,444.5 267.8,444.7 268.4,444.5 269.0,444.9 269.6,444.6 270.1,444.6 270.7,444.9 271.3,445.1 271.9,445.0 272.4,444.9 273.0,444.9 273.6,445.0 274.2,444.8 274.7,445.0 275.3,444.5 275.9,444.5 276.5,444.6 277.0,444.4 277.6,444.6 278.2,444.4 278.8,444.4 279.3,444.3 279.9,444.3 280.5,444.0 281.1,444.3 281.6,444.2 282.2,444.1 282.8,444.5 283.4,444.1 283.9,444.4 284.5,444.3 285.1,444.7 285.7,444.5 286.2,444.7 286.8,444.5 287.4,444.6 288.0,444.7 288.5,444.5 289.1,444.8 289.7,444.8 290.3,444.5 290.8,444.8 291.4,444.6 292.0,444.8 292.6,444.8 293.1,444.9 293.7,444.5 294.3,444.8 294.9,444.6 295.4,444.6 296.0,444.5 296.6,444.4 297.2,444.7 297.7,444.8 298.3,444.5 298.9,444.8 299.5,444.6 300.0,444.4 300.6,444.6 301.2,444.2 301.8,444.3 302.3,444.3 302.9,444.6 303.5,444.6 304.1,444.9 304.6,444.9 305.2,445.0 305.8,445.2 306.4,445.2 306.9,445.2 307.5,445.1 308.1,445.1 308.7,445.5 309.2,445.3 309.8,445.4 310.4,445.2 311.0,444.8 311.5,444.8 312.1,444.8 312.7,444.6 313.3,444.3 313.8,444.2 314.4,444.1 315.0,444.4 315.6,444.4 316.1,444.3 316.7,444.2 317.3,444.2 317.9,444.0 318.4,444.4 319.0,444.0 319.6,444.0 320.2,444.1 320.7,444.4 321.3,444.2 321.9,444.5 322.5,444.1 323.0,444.3 323.6,444.2 324.2,444.4 324.8,444.4 325.3,444.4 325.9,444.3 326.5,444.5 327.1,444.7 327.6,444.8 328.2,444.4 328.8,444.6 329.4,445.1 329.9,445.1 330.5,445.2 331.1,445.1"/>
<polyline stroke="#4472c4" points="43.5,450.8 44.1,450.8 44.7,450.8 45.2,450.8 45.8,450.8 46.4,450.8 47.0,450.8 47.5,450.8 48.1,450.8 48.7,450.8 49.3,450.8 49.8,450.8 50.4,450.8 51.0,450.8 51.6,450.8 52.1,450.8 52.7,450.8 53.3,450.8 53.9,450.8 54.4,450.8 55.0,450.7 55.6,450.7 56.2,450.5 56.7,450.3 57.3,450.0 57.9,449.4 58.5,449.0 59.0,448.5 59.6,447.8 60.2,447.4 60.8,446.5 61.3,445.9 61.9,445.0 62.5,443.6 63.1,441.4 63.6,438.1 64.2,433.2 64.5,432.2 64.8,433.5 65.4,438.1 65.9,441.6 66.5,443.7 67.1,444.9 67.7,445.8 68.2,446.2 68.8,446.7 69.4,447.0 70.0,447.0 70.5,447.1 71.1,447.2 71.7,447.0 72.3,447.3 72.8,447.3 73.4,447.7 74.0,447.8 74.6,447.9 75.1,448.1 75.7,448.1 76.3,448.2 76.9,447.8 77.4,448.2 78.0,448.0 78.6,447.9 79.2,447.8 79.7,447.8 80.3,448.2 80.9,447.3 81.5,446.6 82.0,443.9 82.6,446.4 83.2,447.9 83.8,448.1 84.3,448.4 84.9,448.8 85.5,448.8 86.1,449.0 86.6,449.0 87.2,448.8 87.8,449.1 88.4,449.0 88.9,448.6 89.5,448.5 90.1,448.6 90.7,448.7 91.2,448.6 91.8,448.7 92.4,448.7 93.0,448.5 93.5,448.4 94.1,448.3 94.7,448.6 95.3,448.3 95.8,448.4 96.4,448.1 97.0,448.2 97.6,448.2 98.1,448.1 98.7,448.1 99.3,447.7 99.9,448.0 100.4,448.1 101.0,448.2 101.6,448.4 102.2,448.3 102.7,448.4 103.3,448.3 103.9,448.3 104.5,448.4 105.0,448.3 105.6,448.1 106.2,448.6 106.8,448.6 107.3,448.4 107.9,448.7 108.5,448.5 109.1,448.2 109.6,448.1 110.2,447.9 110.8,447.9 111.4,447.9 111.9,448.0 112.5,448.1 113.1,448.2 113.7,448.3 114.2,448.3 114.8,448.1 115.4,448.0 116.0,447.7 116.6,447.5 117.1,447.5 117.7,447.8 118.3,448.0 118.9,447.8 119.4,447.7 120.0,447.6 120.6,447.6 121.2,447.8 121.7,447.9 122.3,447.9 122.9,447.8 123.5,447.7 124.0,447.4 124.6,447.4 125.2,447.5 125.8,447.3 126.3,447.1 126.9,447.1 127.5,446.6 128.1,447.0 128.6,446.8 129.2,446.9 129.8,446.6 130.4,446.7 130.9,446.6 131.5,446.4 132.1,446.9 132.7,446.7 133.2,446.7 133.8,447.0 134.4,446.8 135.0,446.7 135.5,446.4 136.1,446.1 136.7,445.6 137.3,445.8 137.8,445.6 138.4,445.6 139.0,445.7 139.6,445.4 140.1,445.6 140.7,445.3 141.3,445.2 141.9,445.6 142.4,445.3 143.0,445.4 143.6,445.1 144.2,445.0 144.7,445.0 145.3,445.1 145.9,444.9 146.5,445.0 147.0,444.7 147.6,444.6 148.2,444.7 148.8,444.9 149.3,445.0 149.9,444.9 150.5,444.6 151.1,444.2 151.6,444.0 152.2,443.9 152.8,444.1 153.4,444.0 153.9,444.2 154.5,444.0 155.1,444.2 155.7,443.8 156.2,444.1 156.8,443.9 157.4,444.1 158.0,444.4 158.5,443.7 159.1,443.8 159.7,443.5 160.3,443.3 160.8,443.2 161.4,442.9 162.0,442.9 162.6,442.3 163.1,442.1 163.7,442.1 164.3,441.7 164.9,441.6 165.4,441.4 166.0,441.3 166.6,441.1 167.2,440.9 167.7,441.0 168.3,441.1 168.9,441.0 169.5,440.9 170.0,440.8 170.6,440.5 171.2,440.5 171.8,440.5 172.3,440.0 172.9,439.7 173.5,439.2 174.1,439.1 174.6,438.9 175.2,438.3 175.8,438.2 176.4,437.8 176.9,437.6 177.5,436.9 178.1,436.7 178.7,436.1 179.2,436.0 179.8,435.4 180.4,434.7 181.0,434.0 181.5,433.4 182.1,432.6 182.7,432.1 183.3,431.7 183.8,430.9 184.4,430.1 185.0,429.2 185.6,428.4 186.1,427.6 186.7,426.6 187.3,425.2 187.9,424.0 188.5,422.7 189.0,421.1 189.6,419.9 190.2,418.0 190.8,416.2 191.3,414.1 191.9,411.9 192.5,409.0 193.1,405.9 193.6,402.0 194.2,397.5 194.8,392.2 195.4,386.1 195.9,378.6 196.5,369.4 197.1,358.1 197.7,344.3 198.2,328.2 198.8,310.7 199.4,295.6 200.0,290.8 200.5,294.7 201.1,307.8 201.7,323.7 202.3,339.0 202.8,352.1 203.4,363.4 204.0,372.4 204.6,380.0 205.1,386.5 205.7,391.6 206.3,396.1 206.9,400.0 207.4,403.4 208.0,406.2 208.6,408.8 209.2,411.0 209.7,413.0 210.3,414.9 210.9,416.5 211.5,417.9 212.0,419.5 212.6,420.5 213.2,421.7 213.8,422.7 214.3,424.0 214.9,424.9 215.5,425.9 216.1,426.3 216.6,427.0 217.2,427.8 217.8,428.4 218.4,429.1 218.9,429.8 219.5,430.5 220.1,430.9 220.7,431.5 221.2,432.0 221.8,432.3 222.4,432.6 223.0,433.0 223.5,433.5 224.1,433.5 224.7,434.2 225.3,434.7 225.8,434.8 226.4,435.2 227.0,435.3 227.6,435.7 228.1,436.1 228.7,436.4 229.3,436.5 229.9,436.7 230.4,437.1 231.0,437.6 231.6,437.9 232.2,437.8 232.7,438.2 233.3,438.6 233.9,438.6 234.5,438.9 235.0,439.1 235.6,439.5 236.2,439.6 236.8,439.7 237.3,440.0 237.9,439.7 238.5,440.3 239.1,440.5 239.6,440.7 240.2,440.3 240.8,440.8 241.4,440.6 241.9,440.9 242.5,440.6 243.1,440.4 243.7,440.7 244.2,440.8 244.8,440.9 245.4,440.8 246.0,440.9 246.5,441.0 247.1,441.4 247.7,441.2 248.3,441.3 248.8,441.2 249.4,441.4 250.0,441.5 250.6,441.3 251.1,441.3 251.7,441.2 252.3,441.1 252.9,441.1 253.4,441.5 254.0,441.7 254.6,441.8 255.2,441.9 255.7,442.3 256.3,442.1 256.9,442.2 257.5,442.4 258.0,442.7 258.6,442.6 259.2,442.8 259.8,442.9 260.4,442.8 260.9,442.6 261.5,442.5 262.1,442.6 262.7,442.5 263.2,442.6 263.8,442.6 264.4,442.4 265.0,442.6 265.5,442.2 266.1,442.6 266.7,442.4 267.3,442.5 267.8,442.4 268.4,441.9 269.0,442.1 269.6,442.2 270.1,442.3 270.7,442.3 271.3,442.5 271.9,442.1 272.4,442.0 273.0,442.2 273.6,442.1 274.2,442.3 274.7,442.1 275.3,442.0 275.9,442.3 276.5,442.8 277.0,442.6 277.6,442.9 278.2,443.0 278.8,443.0 279.3,443.2 279.9,443.4 280.5,443.2 281.1,443.2 281.6,443.0 282.2,443.1 282.8,443.0 283.4,442.7 283.9,443.0 284.5,443.1 285.1,443.1 285.7,443.2 286.2,442.8 286.8,442.9 287.4,442.9 288.0,443.0 288.5,442.9 289.1,442.8 289.7,442.7 290.3,442.5 290.8,442.7 291.4,442.6 292.0,442.7 292.6,442.5 293.1,442.6 293.7,442.6 294.3,442.8 294.9,442.9 295.4,443.1 296.0,443.1 296.6,443.3 297.2,443.4 297.7,443.4 298.3,443.3 298.9,443.4 299.5,443.3 300.0,443.4 300.6,443.3 301.2,443.2 301.8,443.4 302.3,443.2 302.9,443.3 303.5,443.3 304.1,443.6 304.6,443.0 305.2,442.8 305.8,442.9 306.4,442.8 306.9,442.7 307.5,442.2 308.1,442.3 308.7,442.3 309.2,442.2 309.8,442.2 310.4,442.3 311.0,442.0 311.5,442.0 312.1,441.9 312.7,442.2 313.3,442.2 313.8,442.1 314.4,442.0 315.0,442.0 315.6,442.2 316.1,442.3 316.7,442.5 317.3,442.9 317.9,442.5 318.4,442.6 319.0,442.4 319.6,442.3 320.2,442.3 320.7,442.3 321.3,442.3 321.9,442.3 322.5,442.6 323.0,442.4 323.6,442.3 324.2,442.3 324.8,442.1 325.3,442.1 325.9,442.1 326.5,441.8 327.1,441.6 327.6,441.4 328.2,441.3 328.8,441.4 329.4,441.3 329.9,441.2 330.5,441.5 331.1,441.5"/>
</g>
<rect x="43.5" y="258.8" width="287.6" height="192.0" fill="none" stroke="#2a2a2a" stroke-width="1.7"/>
<path d="M39.7 450.8H43.5M39.7 418.8H43.5M39.7 386.8H43.5M39.7 354.8H43.5M39.7 322.8H43.5M39.7 290.8H43.5M39.7 258.8H43.5M43.5 450.8V453.8M55.0 450.8V453.8M66.5 450.8V453.8M78.0 450.8V453.8M89.5 450.8V453.8M101.0 450.8V453.8M112.5 450.8V453.8M124.0 450.8V453.8M135.5 450.8V453.8M147.0 450.8V453.8M158.5 450.8V453.8M170.0 450.8V453.8M181.5 450.8V453.8M193.1 450.8V453.8M204.6 450.8V453.8M216.1 450.8V453.8M227.6 450.8V453.8M239.1 450.8V453.8M250.6 450.8V453.8M262.1 450.8V453.8M273.6 450.8V453.8M285.1 450.8V453.8M296.6 450.8V453.8M308.1 450.8V453.8M319.6 450.8V453.8M331.1 450.8V453.8" stroke="#2a2a2a" stroke-width="1.7" fill="none"/>
<text transform="translate(33.1 454.5) scale(0.97 1.08)" text-anchor="end" class="tl">0</text>
<text transform="translate(33.1 422.5) scale(0.97 1.08)" text-anchor="end" class="tl">0.2</text>
<text transform="translate(33.1 390.5) scale(0.97 1.08)" text-anchor="end" class="tl">0.4</text>
<text transform="translate(33.1 358.5) scale(0.97 1.08)" text-anchor="end" class="tl">0.6</text>
<text transform="translate(33.1 326.5) scale(0.97 1.08)" text-anchor="end" class="tl">0.8</text>
<text transform="translate(33.1 294.5) scale(0.97 1.08)" text-anchor="end" class="tl">1</text>
<text transform="translate(33.1 262.5) scale(0.97 1.08)" text-anchor="end" class="tl">1.2</text>
<text transform="translate(43.5 468.8) scale(0.97 1.08)" text-anchor="middle" class="tl">0</text>
<text transform="translate(101.0 468.8) scale(0.97 1.08)" text-anchor="middle" class="tl">100</text>
<text transform="translate(158.5 468.8) scale(0.97 1.08)" text-anchor="middle" class="tl">200</text>
<text transform="translate(216.1 468.8) scale(0.97 1.08)" text-anchor="middle" class="tl">300</text>
<text transform="translate(273.6 468.8) scale(0.97 1.08)" text-anchor="middle" class="tl">400</text>
<text transform="translate(331.1 468.8) scale(0.97 1.08)" text-anchor="middle" class="tl">500</text>
<text x="187.3" y="484.4" text-anchor="middle" class="at">Frequency (Hz)</text>
<text transform="translate(14.2 354.6) rotate(-90)" text-anchor="middle" class="at">Amplitude (×g) (m/s<tspan class="sup" dy="-4">2</tspan><tspan dy="4">)</tspan></text>
<text x="173.0" y="274.6" text-anchor="middle" class="pl">(c)</text>
<rect x="47.5" y="260.7" width="70.7" height="61.6" fill="#fff" stroke="#1a1a1a" stroke-width="1.3"/>
<line x1="53.3" y1="267.0" x2="65.7" y2="267.0" stroke="#5a5a5a" stroke-width="1.2"/>
<text x="68.0" y="270.2" class="lg">AFL-III_a</text>
<line x1="53.3" y1="279.1" x2="65.7" y2="279.1" stroke="#d2505a" stroke-width="1.2" stroke-dasharray="1 1"/>
<text x="68.0" y="282.3" class="lg">AFL-III_b</text>
<line x1="53.3" y1="291.3" x2="65.7" y2="291.3" stroke="#6fa6d6" stroke-width="1.2"/>
<text x="68.0" y="294.5" class="lg">AFL-III_c</text>
<line x1="53.3" y1="303.4" x2="65.7" y2="303.4" stroke="#eb9456" stroke-width="1.6"/>
<text x="68.0" y="306.6" class="lg">AFL-III_d</text>
<line x1="53.3" y1="315.6" x2="65.7" y2="315.6" stroke="#4a6ec4" stroke-width="1.2"/>
<text x="68.0" y="318.8" class="lg">AFL-III_e</text>
<clipPath id="cpd"><rect x="384.1" y="257.4" width="287.6" height="193.0"/></clipPath>
<g clip-path="url(#cpd)" fill="none" stroke-width="1" stroke-linejoin="round">
<polyline stroke="#262626" points="384.1,450.4 384.7,450.4 385.3,450.4 385.8,450.4 386.4,450.4 387.0,450.4 387.6,450.4 388.1,450.4 388.7,450.4 389.3,450.4 389.9,450.4 390.4,450.4 391.0,450.4 391.6,450.4 392.2,450.4 392.7,450.4 393.3,450.4 393.9,450.4 394.5,450.4 395.0,450.4 395.6,450.4 396.2,450.4 396.8,450.4 397.3,450.3 397.9,450.2 398.5,450.1 399.1,449.9 399.6,449.6 400.2,449.2 400.8,448.9 401.4,448.9 401.9,448.4 402.5,448.3 403.1,447.9 403.7,447.7 404.2,447.3 404.8,446.8 405.4,445.9 406.0,444.4 406.5,441.5 407.1,433.9 407.4,430.3 407.7,434.0 408.3,441.5 408.8,444.3 409.4,445.9 410.0,446.6 410.6,447.1 411.1,447.5 411.7,447.7 412.3,447.7 412.9,447.9 413.4,448.2 414.0,448.3 414.6,448.2 415.2,448.3 415.7,448.4 416.3,448.6 416.9,448.5 417.5,448.4 418.0,448.3 418.6,448.2 419.2,448.2 419.8,448.3 420.3,448.0 420.9,447.7 421.5,447.2 422.1,446.0 422.6,443.4 423.2,446.4 423.8,447.4 424.4,447.9 424.9,448.1 425.5,448.1 426.1,448.2 426.7,448.4 427.2,448.0 427.8,448.1 428.4,448.0 429.0,448.2 429.5,448.3 430.1,448.5 430.7,448.2 431.3,448.4 431.8,448.6 432.4,448.8 433.0,449.0 433.6,448.7 434.1,448.8 434.7,449.0 435.3,448.8 435.9,448.9 436.4,448.7 437.0,449.1 437.6,448.6 438.2,448.8 438.7,449.3 439.3,448.9 439.9,449.3 440.5,448.8 441.0,448.7 441.6,448.9 442.2,448.6 442.8,448.5 443.3,448.5 443.9,447.9 444.5,448.2 445.1,447.9 445.6,447.8 446.2,447.8 446.8,447.9 447.4,447.8 447.9,448.0 448.5,448.1 449.1,448.0 449.7,448.2 450.2,448.4 450.8,448.2 451.4,448.4 452.0,448.4 452.5,448.4 453.1,448.5 453.7,448.5 454.3,448.5 454.8,448.3 455.4,448.3 456.0,448.1 456.6,447.9 457.2,447.8 457.7,448.2 458.3,447.8 458.9,448.0 459.5,447.7 460.0,447.5 460.6,447.3 461.2,447.3 461.8,447.1 462.3,447.4 462.9,447.0 463.5,447.3 464.1,447.1 464.6,447.1 465.2,447.2 465.8,447.2 466.4,446.9 466.9,447.1 467.5,447.3 468.1,446.9 468.7,446.9 469.2,446.8 469.8,446.8 470.4,446.6 471.0,446.5 471.5,446.8 472.1,446.8 472.7,446.7 473.3,446.7 473.8,446.8 474.4,446.9 475.0,446.9 475.6,446.7 476.1,446.7 476.7,446.8 477.3,446.6 477.9,446.7 478.4,446.9 479.0,446.9 479.6,446.9 480.2,446.9 480.7,446.4 481.3,446.4 481.9,446.2 482.5,446.5 483.0,446.0 483.6,446.5 484.2,446.4 484.8,446.2 485.3,446.2 485.9,446.3 486.5,446.2 487.1,446.1 487.6,446.3 488.2,446.5 488.8,446.2 489.4,446.2 489.9,446.6 490.5,446.5 491.1,446.1 491.7,446.0 492.2,445.9 492.8,445.6 493.4,445.8 494.0,445.9 494.5,445.8 495.1,445.8 495.7,445.5 496.3,445.6 496.8,445.2 497.4,445.1 498.0,444.8 498.6,444.8 499.1,444.8 499.7,444.6 500.3,444.3 500.9,444.1 501.4,443.7 502.0,443.6 502.6,443.3 503.2,443.0 503.7,443.3 504.3,443.2 504.9,443.1 505.5,443.1 506.0,442.9 506.6,443.0 507.2,442.9 507.8,442.4 508.3,442.5 508.9,442.4 509.5,442.0 510.1,441.9 510.6,441.8 511.2,441.4 511.8,441.4 512.4,441.4 512.9,440.9 513.5,440.9 514.1,440.7 514.7,440.6 515.2,440.4 515.8,440.2 516.4,439.7 517.0,439.9 517.5,439.6 518.1,439.4 518.7,438.9 519.3,438.8 519.8,438.4 520.4,438.4 521.0,438.3 521.6,437.9 522.1,437.2 522.7,436.7 523.3,436.5 523.9,436.1 524.4,435.4 525.0,434.8 525.6,434.5 526.2,433.9 526.7,433.3 527.3,432.7 527.9,432.1 528.5,431.6 529.1,430.6 529.6,429.8 530.2,429.2 530.8,428.5 531.4,427.3 531.9,426.7 532.5,425.3 533.1,423.9 533.7,422.5 534.2,420.8 534.8,419.1 535.4,417.3 536.0,414.8 536.5,412.0 537.1,409.2 537.7,406.2 538.3,402.4 538.8,398.0 539.4,392.6 540.0,386.5 540.6,379.2 541.1,370.0 541.7,358.8 542.3,344.6 542.9,328.0 543.4,309.9 544.0,293.8 544.6,290.4 545.2,296.8 545.7,316.9 546.3,338.0 546.9,355.1 547.5,368.9 548.0,379.4 548.6,387.7 549.2,394.4 549.8,399.9 550.3,404.4 550.9,408.2 551.5,411.4 552.1,413.9 552.6,416.4 553.2,418.4 553.8,420.4 554.4,421.9 554.9,423.4 555.5,424.9 556.1,426.1 556.7,427.2 557.2,428.1 557.8,429.3 558.4,429.8 559.0,430.7 559.5,431.4 560.1,431.7 560.7,432.3 561.3,433.1 561.8,433.6 562.4,433.6 563.0,434.4 563.6,434.5 564.1,434.8 564.7,435.0 565.3,435.3 565.9,435.8 566.4,436.0 567.0,435.8 567.6,436.4 568.2,436.9 568.7,437.1 569.3,437.2 569.9,437.3 570.5,437.6 571.0,437.8 571.6,438.0 572.2,437.8 572.8,438.0 573.3,438.2 573.9,438.5 574.5,438.4 575.1,438.9 575.6,438.9 576.2,439.2 576.8,439.2 577.4,439.1 577.9,439.2 578.5,439.3 579.1,439.6 579.7,439.6 580.2,439.7 580.8,439.7 581.4,439.8 582.0,439.6 582.5,439.8 583.1,439.6 583.7,439.7 584.3,439.8 584.8,440.0 585.4,440.0 586.0,440.2 586.6,439.8 587.1,440.0 587.7,440.3 588.3,439.9 588.9,439.8 589.4,440.0 590.0,440.1 590.6,439.9 591.2,439.9 591.7,439.9 592.3,440.1 592.9,439.8 593.5,440.3 594.0,440.1 594.6,439.9 595.2,440.1 595.8,440.2 596.3,440.4 596.9,440.3 597.5,440.5 598.1,440.6 598.6,440.7 599.2,440.9 599.8,441.1 600.4,441.3 601.0,441.3 601.5,441.3 602.1,441.2 602.7,441.3 603.3,441.6 603.8,441.3 604.4,441.0 605.0,441.0 605.6,440.9 606.1,440.9 606.7,441.0 607.3,440.9 607.9,441.1 608.4,441.2 609.0,441.0 609.6,441.3 610.2,441.3 610.7,441.4 611.3,441.2 611.9,441.3 612.5,441.5 613.0,441.6 613.6,441.5 614.2,441.9 614.8,441.8 615.3,441.8 615.9,441.8 616.5,442.1 617.1,442.2 617.6,442.3 618.2,442.0 618.8,442.1 619.4,441.9 619.9,441.9 620.5,441.5 621.1,441.9 621.7,441.8 622.2,441.6 622.8,441.7 623.4,441.7 624.0,442.0 624.5,442.0 625.1,442.3 625.7,442.4 626.3,442.5 626.8,442.4 627.4,442.3 628.0,442.3 628.6,442.3 629.1,442.6 629.7,442.5 630.3,442.6 630.9,442.6 631.4,442.3 632.0,442.3 632.6,442.4 633.2,442.2 633.7,442.4 634.3,442.1 634.9,442.3 635.5,442.4 636.0,442.1 636.6,441.7 637.2,441.3 637.8,441.6 638.3,441.6 638.9,441.6 639.5,441.5 640.1,441.6 640.6,441.5 641.2,441.6 641.8,441.6 642.4,441.5 642.9,441.7 643.5,441.8 644.1,441.6 644.7,441.8 645.2,441.9 645.8,442.1 646.4,442.1 647.0,441.9 647.5,441.7 648.1,441.6 648.7,441.7 649.3,442.0 649.8,441.7 650.4,441.7 651.0,441.6 651.6,441.9 652.1,441.6 652.7,441.6 653.3,441.5 653.9,441.6 654.4,441.3 655.0,441.2 655.6,441.3 656.2,441.3 656.7,441.2 657.3,441.2 657.9,441.2 658.5,441.2 659.0,441.1 659.6,440.7 660.2,441.1 660.8,440.9 661.3,440.8 661.9,440.7 662.5,441.0 663.1,441.1 663.6,440.9 664.2,441.4 664.8,441.5 665.4,441.4 665.9,441.7 666.5,441.8 667.1,441.9 667.7,441.9 668.2,442.1 668.8,441.9 669.4,441.7 670.0,441.8 670.5,441.9 671.1,442.2 671.7,442.2"/>
<polyline stroke="#b41e1e" stroke-dasharray="1 1" points="384.1,450.4 384.7,450.4 385.3,450.4 385.8,450.4 386.4,450.4 387.0,450.4 387.6,450.4 388.1,450.4 388.7,450.4 389.3,450.4 389.9,450.4 390.4,450.4 391.0,450.4 391.6,450.4 392.2,450.4 392.7,450.4 393.3,450.4 393.9,450.4 394.5,450.4 395.0,450.4 395.6,450.4 396.2,450.4 396.8,450.3 397.3,450.2 397.9,450.1 398.5,449.8 399.1,449.4 399.6,449.0 400.2,448.2 400.8,447.8 401.4,447.2 401.9,446.7 402.5,445.9 403.1,445.5 403.7,444.6 404.2,443.8 404.8,442.5 405.4,440.6 406.0,437.3 406.5,429.8 407.1,411.1 407.4,402.1 407.7,410.9 408.3,429.8 408.8,437.0 409.4,440.9 410.0,442.4 410.6,444.0 411.1,445.0 411.7,445.5 412.3,445.9 412.9,446.6 413.4,446.7 414.0,447.1 414.6,447.0 415.2,447.1 415.7,447.4 416.3,447.3 416.9,447.4 417.5,447.7 418.0,447.5 418.6,447.7 419.2,448.0 419.8,447.9 420.3,447.9 420.9,448.1 421.5,447.5 422.1,446.3 422.6,443.3 423.2,446.6 423.8,447.4 424.4,448.1 424.9,448.1 425.5,448.2 426.1,448.5 426.7,448.6 427.2,449.0 427.8,448.8 428.4,448.9 429.0,449.1 429.5,448.7 430.1,448.8 430.7,448.9 431.3,448.6 431.8,448.6 432.4,448.7 433.0,448.8 433.6,448.9 434.1,448.7 434.7,448.6 435.3,448.7 435.9,448.6 436.4,448.7 437.0,448.6 437.6,448.8 438.2,448.8 438.7,448.8 439.3,448.9 439.9,449.0 440.5,448.9 441.0,448.6 441.6,448.9 442.2,448.8 442.8,448.8 443.3,448.5 443.9,448.5 444.5,448.6 445.1,448.5 445.6,448.4 446.2,448.2 446.8,448.5 447.4,448.5 447.9,448.4 448.5,448.3 449.1,448.2 449.7,448.2 450.2,448.1 450.8,448.1 451.4,447.7 452.0,447.9 452.5,448.0 453.1,448.1 453.7,448.0 454.3,447.8 454.8,447.7 455.4,447.9 456.0,447.7 456.6,447.9 457.2,447.8 457.7,447.9 458.3,448.0 458.9,448.0 459.5,447.8 460.0,448.5 460.6,448.4 461.2,448.6 461.8,448.5 462.3,448.4 462.9,448.0 463.5,448.0 464.1,447.4 464.6,447.6 465.2,447.8 465.8,447.8 466.4,447.7 466.9,448.1 467.5,447.9 468.1,448.0 468.7,447.9 469.2,448.0 469.8,448.1 470.4,448.3 471.0,448.2 471.5,448.3 472.1,448.2 472.7,448.2 473.3,448.3 473.8,448.1 474.4,448.0 475.0,448.0 475.6,448.0 476.1,447.6 476.7,447.4 477.3,447.2 477.9,447.1 478.4,447.0 479.0,446.8 479.6,446.7 480.2,446.7 480.7,446.8 481.3,446.3 481.9,446.7 482.5,446.6 483.0,446.4 483.6,446.8 484.2,446.7 484.8,446.6 485.3,446.5 485.9,446.2 486.5,446.4 487.1,446.4 487.6,446.2 488.2,446.2 488.8,446.4 489.4,446.2 489.9,446.0 490.5,446.3 491.1,446.2 491.7,446.5 492.2,446.2 492.8,446.3 493.4,446.1 494.0,446.1 494.5,446.2 495.1,446.4 495.7,446.6 496.3,446.6 496.8,446.6 497.4,446.6 498.0,446.5 498.6,446.6 499.1,446.5 499.7,446.3 500.3,446.3 500.9,446.4 501.4,446.1 502.0,445.8 502.6,446.1 503.2,445.9 503.7,445.9 504.3,445.9 504.9,445.8 505.5,445.7 506.0,445.9 506.6,445.8 507.2,446.0 507.8,446.0 508.3,445.8 508.9,445.5 509.5,445.3 510.1,445.2 510.6,445.2 511.2,444.9 511.8,444.7 512.4,444.6 512.9,444.7 513.5,444.5 514.1,444.3 514.7,444.6 515.2,444.4 515.8,444.2 516.4,443.9 517.0,444.0 517.5,443.3 518.1,443.5 518.7,442.9 519.3,442.4 519.8,442.0 520.4,441.8 521.0,441.7 521.6,441.4 522.1,441.4 522.7,441.4 523.3,440.7 523.9,440.3 524.4,440.1 525.0,439.7 525.6,439.4 526.2,439.3 526.7,439.0 527.3,438.6 527.9,438.4 528.5,438.1 529.1,438.0 529.6,437.5 530.2,437.1 530.8,437.1 531.4,436.6 531.9,435.9 532.5,435.2 533.1,434.3 533.7,433.9 534.2,433.0 534.8,432.2 535.4,431.4 536.0,430.7 536.5,429.9 537.1,428.8 537.7,427.6 538.3,426.5 538.8,425.4 539.4,424.0 540.0,422.2 540.6,420.4 541.1,418.2 541.7,415.6 542.3,412.5 542.9,409.1 543.4,405.0 544.0,399.6 544.6,393.5 545.2,385.9 545.7,375.9 546.3,362.6 546.9,346.2 547.5,326.4 548.0,308.8 548.5,304.8 548.6,303.3 549.2,314.8 549.8,333.6 550.3,352.0 550.9,367.0 551.5,378.7 552.1,387.6 552.6,394.6 553.2,400.2 553.8,404.8 554.4,408.5 554.9,411.7 555.5,414.6 556.1,416.9 556.7,418.5 557.2,420.5 557.8,422.2 558.4,423.5 559.0,424.8 559.5,425.7 560.1,427.0 560.7,428.2 561.3,429.0 561.8,429.3 562.4,430.0 563.0,430.5 563.6,431.0 564.1,431.8 564.7,432.3 565.3,432.4 565.9,433.3 566.4,433.4 567.0,433.8 567.6,434.2 568.2,434.3 568.7,434.7 569.3,434.9 569.9,434.9 570.5,435.5 571.0,435.7 571.6,435.9 572.2,436.0 572.8,436.7 573.3,436.6 573.9,437.1 574.5,437.5 575.1,437.4 575.6,437.7 576.2,437.8 576.8,438.3 577.4,438.4 577.9,438.6 578.5,438.8 579.1,438.7 579.7,438.8 580.2,439.2 580.8,439.2 581.4,439.4 582.0,439.4 582.5,439.6 583.1,439.6 583.7,439.7 584.3,439.7 584.8,439.9 585.4,440.1 586.0,440.2 586.6,440.4 587.1,440.2 587.7,440.3 588.3,440.7 588.9,440.4 589.4,440.8 590.0,440.4 590.6,440.2 591.2,440.2 591.7,440.2 592.3,439.7 592.9,440.1 593.5,440.0 594.0,440.1 594.6,440.4 595.2,440.4 595.8,440.8 596.3,440.7 596.9,441.0 597.5,441.3 598.1,441.2 598.6,441.4 599.2,441.5 599.8,441.6 600.4,441.7 601.0,441.8 601.5,441.9 602.1,442.4 602.7,442.3 603.3,442.4 603.8,442.4 604.4,442.3 605.0,442.3 605.6,442.4 606.1,442.3 606.7,442.1 607.3,442.0 607.9,441.9 608.4,441.9 609.0,441.7 609.6,442.0 610.2,441.5 610.7,441.5 611.3,441.6 611.9,441.4 612.5,441.6 613.0,441.4 613.6,441.7 614.2,441.3 614.8,441.4 615.3,441.5 615.9,441.6 616.5,441.8 617.1,442.0 617.6,441.8 618.2,442.1 618.8,441.7 619.4,442.0 619.9,441.6 620.5,441.8 621.1,442.0 621.7,441.7 622.2,441.9 622.8,441.9 623.4,441.8 624.0,442.0 624.5,442.4 625.1,442.1 625.7,442.4 626.3,442.2 626.8,441.9 627.4,441.9 628.0,441.6 628.6,441.5 629.1,441.6 629.7,441.2 630.3,441.3 630.9,441.5 631.4,441.4 632.0,441.6 632.6,441.5 633.2,441.5 633.7,441.4 634.3,441.7 634.9,441.6 635.5,441.7 636.0,441.9 636.6,441.7 637.2,441.7 637.8,441.8 638.3,441.9 638.9,441.6 639.5,441.6 640.1,441.4 640.6,441.7 641.2,441.6 641.8,441.7 642.4,441.7 642.9,441.7 643.5,441.5 644.1,441.4 644.7,441.3 645.2,441.3 645.8,441.3 646.4,441.3 647.0,441.2 647.5,441.2 648.1,440.9 648.7,441.1 649.3,440.8 649.8,441.2 650.4,440.9 651.0,440.6 651.6,440.6 652.1,440.5 652.7,440.9 653.3,440.7 653.9,440.8 654.4,440.9 655.0,440.8 655.6,440.8 656.2,440.9 656.7,441.4 657.3,441.4 657.9,441.5 658.5,441.5 659.0,441.7 659.6,441.5 660.2,441.5 660.8,441.0 661.3,441.2 661.9,441.1 662.5,441.0 663.1,440.8 663.6,441.0 664.2,440.9 664.8,440.7 665.4,441.1 665.9,440.9 666.5,440.7 667.1,440.6 667.7,440.7 668.2,440.5 668.8,440.1 669.4,440.1 670.0,440.5 670.5,440.1 671.1,440.1 671.7,440.0"/>
<polyline stroke="#5b9bd5" points="384.1,450.4 384.7,450.4 385.3,450.4 385.8,450.4 386.4,450.4 387.0,450.4 387.6,450.4 388.1,450.4 388.7,450.4 389.3,450.4 389.9,450.4 390.4,450.4 391.0,450.4 391.6,450.4 392.2,450.4 392.7,450.4 393.3,450.4 393.9,450.4 394.5,450.4 395.0,450.4 395.6,450.4 396.2,450.4 396.8,450.3 397.3,450.3 397.9,450.2 398.5,450.0 399.1,449.7 399.6,449.2 400.2,448.5 400.8,448.1 401.4,447.8 401.9,447.1 402.5,447.1 403.1,446.5 403.7,446.0 404.2,445.1 404.8,444.0 405.4,442.6 406.0,439.9 406.5,434.6 407.1,421.0 407.4,414.4 407.7,420.7 408.3,434.5 408.8,440.0 409.4,442.6 410.0,443.8 410.6,445.0 411.1,445.7 411.7,446.4 412.3,446.5 412.9,447.0 413.4,447.2 414.0,447.3 414.6,447.4 415.2,447.6 415.7,447.6 416.3,448.3 416.9,448.3 417.5,448.3 418.0,448.3 418.6,448.4 419.2,448.4 419.8,448.4 420.3,448.0 420.9,448.2 421.5,447.4 422.1,446.7 422.6,443.5 423.2,446.4 423.8,447.5 424.4,448.2 424.9,448.4 425.5,448.5 426.1,448.4 426.7,448.8 427.2,448.8 427.8,448.9 428.4,448.8 429.0,449.1 429.5,449.0 430.1,449.0 430.7,449.1 431.3,449.0 431.8,449.0 432.4,449.2 433.0,449.1 433.6,449.0 434.1,449.0 434.7,448.8 435.3,448.9 435.9,449.0 436.4,448.9 437.0,448.8 437.6,449.0 438.2,449.2 438.7,448.9 439.3,449.0 439.9,448.9 440.5,449.3 441.0,449.0 441.6,449.0 442.2,449.0 442.8,449.1 443.3,449.0 443.9,448.7 444.5,448.9 445.1,449.1 445.6,449.1 446.2,449.2 446.8,449.1 447.4,449.0 447.9,448.7 448.5,448.9 449.1,448.7 449.7,448.6 450.2,448.2 450.8,448.2 451.4,447.9 452.0,448.1 452.5,447.9 453.1,447.6 453.7,447.9 454.3,447.9 454.8,447.8 455.4,447.8 456.0,448.0 456.6,448.0 457.2,447.9 457.7,448.2 458.3,448.3 458.9,448.2 459.5,448.1 460.0,448.1 460.6,448.2 461.2,448.5 461.8,448.2 462.3,448.3 462.9,448.2 463.5,448.1 464.1,448.4 464.6,448.0 465.2,448.2 465.8,447.9 466.4,447.8 466.9,447.9 467.5,447.9 468.1,447.9 468.7,447.8 469.2,447.9 469.8,447.6 470.4,447.5 471.0,447.9 471.5,447.7 472.1,447.9 472.7,447.8 473.3,447.4 473.8,447.5 474.4,447.6 475.0,447.4 475.6,447.5 476.1,447.6 476.7,447.7 477.3,447.5 477.9,447.6 478.4,447.5 479.0,447.6 479.6,447.3 480.2,447.4 480.7,447.5 481.3,447.1 481.9,447.1 482.5,446.9 483.0,447.0 483.6,447.0 484.2,446.6 484.8,446.9 485.3,447.0 485.9,446.7 486.5,446.9 487.1,447.0 487.6,446.8 488.2,446.6 488.8,446.4 489.4,446.7 489.9,446.5 490.5,446.4 491.1,446.8 491.7,446.9 492.2,446.7 492.8,446.3 493.4,446.5 494.0,446.6 494.5,446.7 495.1,446.3 495.7,446.4 496.3,446.5 496.8,446.4 497.4,446.3 498.0,446.2 498.6,446.1 499.1,445.7 499.7,445.6 500.3,445.6 500.9,445.4 501.4,445.1 502.0,445.1 502.6,444.9 503.2,444.9 503.7,444.5 504.3,444.6 504.9,444.4 505.5,444.5 506.0,444.4 506.6,444.2 507.2,443.9 507.8,444.1 508.3,443.8 508.9,443.6 509.5,443.5 510.1,443.7 510.6,443.5 511.2,443.5 511.8,443.1 512.4,443.2 512.9,443.0 513.5,442.8 514.1,442.8 514.7,442.5 515.2,442.4 515.8,442.8 516.4,442.5 517.0,442.3 517.5,442.5 518.1,442.3 518.7,442.1 519.3,442.0 519.8,441.7 520.4,441.6 521.0,441.5 521.6,441.6 522.1,441.4 522.7,441.0 523.3,440.6 523.9,440.0 524.4,440.2 525.0,439.6 525.6,439.1 526.2,439.0 526.7,438.4 527.3,437.5 527.9,437.4 528.5,436.8 529.1,436.6 529.6,435.8 530.2,435.2 530.8,435.0 531.4,434.5 531.9,434.1 532.5,433.4 533.1,433.0 533.7,432.0 534.2,430.8 534.8,430.2 535.4,429.5 536.0,428.4 536.5,427.2 537.1,426.1 537.7,424.5 538.3,423.3 538.8,421.4 539.4,419.3 540.0,417.1 540.6,414.5 541.1,411.2 541.7,407.0 542.3,402.1 542.9,396.2 543.4,388.9 544.0,379.6 544.6,367.4 545.2,351.7 545.7,331.2 546.3,308.0 546.9,290.4 547.1,290.4 547.5,293.3 548.0,315.2 548.6,339.7 549.2,359.3 549.8,374.4 550.3,385.2 550.9,393.4 551.5,399.7 552.1,404.9 552.6,409.2 553.2,412.7 553.8,415.6 554.4,417.8 554.9,419.8 555.5,421.6 556.1,423.2 556.7,424.5 557.2,425.8 557.8,426.8 558.4,427.6 559.0,428.5 559.5,429.3 560.1,430.0 560.7,430.8 561.3,431.5 561.8,432.0 562.4,432.9 563.0,433.4 563.6,434.0 564.1,434.4 564.7,434.8 565.3,435.3 565.9,435.7 566.4,435.8 567.0,436.1 567.6,436.5 568.2,436.5 568.7,436.9 569.3,437.4 569.9,437.2 570.5,437.6 571.0,437.7 571.6,437.8 572.2,438.0 572.8,438.1 573.3,438.2 573.9,438.7 574.5,438.8 575.1,438.8 575.6,439.2 576.2,439.3 576.8,439.3 577.4,439.4 577.9,439.8 578.5,440.1 579.1,440.2 579.7,440.3 580.2,440.4 580.8,440.9 581.4,441.1 582.0,441.2 582.5,441.2 583.1,441.3 583.7,441.4 584.3,441.8 584.8,441.9 585.4,442.1 586.0,442.3 586.6,442.4 587.1,442.4 587.7,442.5 588.3,442.7 588.9,442.5 589.4,442.6 590.0,442.5 590.6,442.5 591.2,442.4 591.7,442.4 592.3,441.9 592.9,442.3 593.5,442.2 594.0,442.0 594.6,442.0 595.2,442.0 595.8,441.8 596.3,441.7 596.9,441.7 597.5,442.0 598.1,441.6 598.6,441.7 599.2,441.8 599.8,442.1 600.4,441.9 601.0,442.1 601.5,442.1 602.1,442.3 602.7,442.1 603.3,442.0 603.8,442.2 604.4,442.4 605.0,442.4 605.6,442.5 606.1,442.6 606.7,442.3 607.3,442.5 607.9,442.4 608.4,442.2 609.0,442.6 609.6,442.5 610.2,442.4 610.7,442.4 611.3,442.0 611.9,442.2 612.5,442.1 613.0,442.3 613.6,442.4 614.2,442.7 614.8,442.7 615.3,442.6 615.9,442.8 616.5,442.8 617.1,442.6 617.6,442.7 618.2,442.3 618.8,442.2 619.4,442.2 619.9,442.2 620.5,441.9 621.1,442.2 621.7,442.0 622.2,441.8 622.8,442.1 623.4,442.3 624.0,442.1 624.5,441.8 625.1,441.8 625.7,441.7 626.3,441.7 626.8,441.9 627.4,442.0 628.0,442.2 628.6,442.4 629.1,442.3 629.7,442.7 630.3,442.6 630.9,442.8 631.4,442.7 632.0,442.7 632.6,442.6 633.2,442.5 633.7,442.5 634.3,442.5 634.9,442.6 635.5,442.5 636.0,442.6 636.6,442.4 637.2,442.3 637.8,442.4 638.3,442.2 638.9,442.0 639.5,442.1 640.1,442.1 640.6,441.9 641.2,441.8 641.8,442.1 642.4,442.2 642.9,442.4 643.5,442.2 644.1,442.1 644.7,442.2 645.2,442.1 645.8,442.3 646.4,442.3 647.0,442.5 647.5,442.9 648.1,442.9 648.7,442.7 649.3,443.0 649.8,442.7 650.4,442.7 651.0,442.7 651.6,442.7 652.1,442.8 652.7,442.9 653.3,442.7 653.9,443.2 654.4,443.0 655.0,442.5 655.6,442.7 656.2,442.1 656.7,442.2 657.3,442.4 657.9,442.4 658.5,442.5 659.0,442.6 659.6,442.4 660.2,442.4 660.8,442.3 661.3,442.1 661.9,442.1 662.5,442.2 663.1,442.3 663.6,442.2 664.2,442.0 664.8,441.9 665.4,442.0 665.9,442.0 666.5,442.2 667.1,442.2 667.7,442.4 668.2,442.7 668.8,442.4 669.4,442.3 670.0,442.2 670.5,442.3 671.1,442.2 671.7,442.3"/>
<polyline stroke="#ed7d31" points="384.1,450.4 384.7,450.4 385.3,450.4 385.8,450.4 386.4,450.4 387.0,450.4 387.6,450.4 388.1,450.4 388.7,450.4 389.3,450.4 389.9,450.4 390.4,450.4 391.0,450.4 391.6,450.4 392.2,450.4 392.7,450.4 393.3,450.4 393.9,450.4 394.5,450.4 395.0,450.4 395.6,450.4 396.2,450.4 396.8,450.3 397.3,450.3 397.9,450.2 398.5,450.1 399.1,449.8 399.6,449.5 400.2,448.9 400.8,448.7 401.4,448.5 401.9,448.1 402.5,447.6 403.1,447.2 403.7,446.6 404.2,445.9 404.8,445.0 405.4,443.5 406.0,440.7 406.5,435.4 407.1,421.2 407.4,414.7 407.7,421.4 408.3,435.1 408.8,440.5 409.4,443.0 410.0,444.8 410.6,445.3 411.1,446.3 411.7,446.8 412.3,447.3 412.9,447.5 413.4,447.5 414.0,447.3 414.6,447.6 415.2,447.5 415.7,447.6 416.3,447.9 416.9,447.7 417.5,447.7 418.0,447.9 418.6,448.2 419.2,448.0 419.8,448.1 420.3,448.4 420.9,448.2 421.5,448.1 422.1,446.8 422.6,444.0 423.2,446.9 423.8,447.9 424.4,448.2 424.9,448.3 425.5,448.5 426.1,448.6 426.7,448.6 427.2,448.6 427.8,448.4 428.4,448.7 429.0,448.5 429.5,448.3 430.1,448.4 430.7,448.7 431.3,448.5 431.8,448.5 432.4,448.8 433.0,448.5 433.6,448.4 434.1,448.6 434.7,448.5 435.3,448.5 435.9,448.6 436.4,448.2 437.0,448.2 437.6,448.3 438.2,448.6 438.7,448.5 439.3,448.6 439.9,448.5 440.5,448.8 441.0,448.7 441.6,449.0 442.2,449.1 442.8,448.7 443.3,449.2 443.9,449.1 444.5,449.2 445.1,449.2 445.6,449.2 446.2,449.1 446.8,449.1 447.4,449.3 447.9,449.0 448.5,448.8 449.1,448.9 449.7,448.7 450.2,448.5 450.8,448.3 451.4,448.1 452.0,448.5 452.5,448.4 453.1,448.1 453.7,448.3 454.3,448.4 454.8,448.5 455.4,448.5 456.0,448.3 456.6,448.5 457.2,448.4 457.7,448.6 458.3,449.1 458.9,448.6 459.5,448.7 460.0,448.7 460.6,448.7 461.2,449.0 461.8,449.1 462.3,449.0 462.9,449.3 463.5,449.1 464.1,449.1 464.6,448.9 465.2,449.0 465.8,449.1 466.4,448.8 466.9,448.5 467.5,448.7 468.1,448.5 468.7,448.8 469.2,448.5 469.8,448.5 470.4,448.1 471.0,448.2 471.5,448.2 472.1,448.2 472.7,447.8 473.3,447.9 473.8,447.9 474.4,447.7 475.0,447.8 475.6,447.9 476.1,447.6 476.7,448.1 477.3,448.1 477.9,448.1 478.4,447.7 479.0,447.6 479.6,447.1 480.2,446.9 480.7,446.4 481.3,446.6 481.9,446.4 482.5,446.6 483.0,446.7 483.6,446.7 484.2,446.6 484.8,446.8 485.3,447.0 485.9,447.0 486.5,446.9 487.1,446.8 487.6,446.6 488.2,446.3 488.8,446.4 489.4,446.5 489.9,446.4 490.5,446.6 491.1,446.4 491.7,446.5 492.2,446.6 492.8,446.8 493.4,446.4 494.0,446.4 494.5,446.6 495.1,446.5 495.7,446.3 496.3,446.4 496.8,446.1 497.4,446.3 498.0,446.4 498.6,446.6 499.1,446.6 499.7,446.4 500.3,446.4 500.9,446.0 501.4,445.9 502.0,445.5 502.6,445.1 503.2,444.9 503.7,444.8 504.3,444.6 504.9,444.7 505.5,444.6 506.0,444.2 506.6,444.3 507.2,444.4 507.8,444.2 508.3,443.9 508.9,444.4 509.5,444.1 510.1,444.0 510.6,443.8 511.2,443.7 511.8,443.6 512.4,443.5 512.9,443.3 513.5,443.1 514.1,443.2 514.7,442.9 515.2,442.7 515.8,442.6 516.4,442.1 517.0,441.9 517.5,442.1 518.1,441.8 518.7,441.3 519.3,441.4 519.8,441.1 520.4,441.0 521.0,440.8 521.6,440.3 522.1,440.3 522.7,439.8 523.3,439.3 523.9,439.0 524.4,438.6 525.0,438.1 525.6,438.2 526.2,437.5 526.7,437.5 527.3,437.1 527.9,437.1 528.5,437.0 529.1,436.7 529.6,436.6 530.2,435.9 530.8,435.7 531.4,435.1 531.9,434.2 532.5,433.7 533.1,433.3 533.7,432.7 534.2,431.6 534.8,430.6 535.4,429.6 536.0,428.5 536.5,427.3 537.1,426.1 537.7,424.5 538.3,423.1 538.8,420.8 539.4,419.1 540.0,416.2 540.6,413.3 541.1,410.1 541.7,406.0 542.3,401.3 542.9,395.6 543.4,388.3 544.0,379.2 544.6,367.4 545.2,351.3 545.7,330.6 546.3,307.3 546.9,290.4 547.1,290.4 547.5,292.8 548.0,314.9 548.6,339.3 549.2,359.6 549.8,373.8 550.3,384.9 550.9,393.3 551.5,400.1 552.1,405.2 552.6,409.2 553.2,412.8 553.8,415.7 554.4,418.1 554.9,420.0 555.5,421.7 556.1,423.5 556.7,424.8 557.2,426.1 557.8,427.1 558.4,428.1 559.0,428.8 559.5,429.6 560.1,430.7 560.7,431.4 561.3,431.9 561.8,432.8 562.4,433.4 563.0,433.7 563.6,434.8 564.1,434.8 564.7,435.0 565.3,435.1 565.9,435.5 566.4,436.2 567.0,436.4 567.6,436.7 568.2,437.1 568.7,437.3 569.3,437.6 569.9,437.7 570.5,438.0 571.0,438.0 571.6,438.6 572.2,439.0 572.8,438.8 573.3,439.0 573.9,439.0 574.5,439.7 575.1,439.9 575.6,439.9 576.2,440.1 576.8,440.1 577.4,439.9 577.9,440.1 578.5,440.3 579.1,440.3 579.7,439.8 580.2,440.2 580.8,440.1 581.4,440.0 582.0,440.0 582.5,439.7 583.1,440.0 583.7,439.8 584.3,439.7 584.8,439.8 585.4,440.0 586.0,440.2 586.6,440.1 587.1,440.1 587.7,440.5 588.3,440.2 588.9,440.5 589.4,440.6 590.0,440.5 590.6,440.7 591.2,441.1 591.7,441.5 592.3,441.7 592.9,441.6 593.5,442.1 594.0,441.8 594.6,441.6 595.2,441.5 595.8,441.6 596.3,441.6 596.9,441.6 597.5,441.5 598.1,441.4 598.6,441.6 599.2,441.1 599.8,441.5 600.4,441.4 601.0,441.6 601.5,441.5 602.1,441.6 602.7,441.3 603.3,441.5 603.8,441.3 604.4,441.6 605.0,441.5 605.6,441.8 606.1,441.6 606.7,441.9 607.3,441.7 607.9,441.7 608.4,441.7 609.0,441.5 609.6,441.9 610.2,441.9 610.7,441.9 611.3,442.2 611.9,442.2 612.5,442.2 613.0,442.1 613.6,442.0 614.2,442.1 614.8,442.1 615.3,442.3 615.9,442.1 616.5,442.5 617.1,442.2 617.6,442.2 618.2,442.4 618.8,442.5 619.4,442.2 619.9,442.3 620.5,442.4 621.1,442.4 621.7,442.6 622.2,442.8 622.8,442.5 623.4,442.4 624.0,442.5 624.5,442.6 625.1,442.6 625.7,442.6 626.3,442.5 626.8,442.9 627.4,442.9 628.0,442.8 628.6,442.8 629.1,442.9 629.7,442.7 630.3,442.8 630.9,442.5 631.4,442.7 632.0,442.5 632.6,442.4 633.2,442.4 633.7,442.3 634.3,442.3 634.9,442.4 635.5,442.2 636.0,442.2 636.6,441.7 637.2,442.0 637.8,442.0 638.3,441.9 638.9,442.3 639.5,442.3 640.1,442.0 640.6,442.4 641.2,442.3 641.8,442.8 642.4,442.8 642.9,442.7 643.5,442.6 644.1,442.2 644.7,442.4 645.2,442.4 645.8,442.8 646.4,442.7 647.0,442.5 647.5,442.5 648.1,442.3 648.7,442.4 649.3,442.1 649.8,441.8 650.4,441.8 651.0,441.9 651.6,441.9 652.1,442.0 652.7,442.2 653.3,442.1 653.9,441.9 654.4,442.0 655.0,442.2 655.6,442.1 656.2,442.2 656.7,442.4 657.3,442.5 657.9,442.7 658.5,442.8 659.0,442.8 659.6,442.5 660.2,442.3 660.8,442.5 661.3,442.1 661.9,442.1 662.5,442.0 663.1,441.9 663.6,441.7 664.2,441.4 664.8,441.7 665.4,442.1 665.9,442.0 666.5,442.4 667.1,442.2 667.7,442.3 668.2,442.1 668.8,442.3 669.4,442.2 670.0,442.2 670.5,442.4 671.1,442.0 671.7,442.0"/>
<polyline stroke="#4472c4" points="384.1,450.4 384.7,450.4 385.3,450.4 385.8,450.4 386.4,450.4 387.0,450.4 387.6,450.4 388.1,450.4 388.7,450.4 389.3,450.4 389.9,450.4 390.4,450.4 391.0,450.4 391.6,450.4 392.2,450.4 392.7,450.4 393.3,450.4 393.9,450.4 394.5,450.4 395.0,450.4 395.6,450.4 396.2,450.4 396.8,450.3 397.3,450.3 397.9,450.2 398.5,450.0 399.1,449.7 399.6,449.4 400.2,448.7 400.8,448.4 401.4,448.0 401.9,447.6 402.5,447.2 403.1,446.7 403.7,446.2 404.2,445.6 404.8,444.6 405.4,443.1 406.0,440.3 406.5,434.8 407.1,420.1 407.4,413.2 407.7,420.4 408.3,434.7 408.8,440.3 409.4,442.9 410.0,444.4 410.6,445.4 411.1,446.0 411.7,446.5 412.3,446.8 412.9,447.2 413.4,447.3 414.0,447.5 414.6,447.9 415.2,447.7 415.7,447.8 416.3,448.1 416.9,447.9 417.5,447.7 418.0,447.9 418.6,447.8 419.2,447.7 419.8,447.7 420.3,447.6 420.9,447.4 421.5,447.0 422.1,445.9 422.6,442.7 423.2,446.2 423.8,447.6 424.4,447.8 424.9,448.2 425.5,448.2 426.1,448.3 426.7,448.4 427.2,448.5 427.8,448.5 428.4,448.6 429.0,448.9 429.5,449.0 430.1,448.8 430.7,448.9 431.3,448.8 431.8,449.0 432.4,449.1 433.0,449.1 433.6,449.0 434.1,449.0 434.7,449.0 435.3,449.0 435.9,448.8 436.4,448.6 437.0,448.6 437.6,448.6 438.2,448.7 438.7,448.6 439.3,448.6 439.9,448.8 440.5,448.7 441.0,448.5 441.6,448.9 442.2,448.5 442.8,448.5 443.3,448.6 443.9,448.4 444.5,448.5 445.1,448.6 445.6,448.6 446.2,448.8 446.8,448.9 447.4,448.6 447.9,448.9 448.5,448.8 449.1,448.9 449.7,448.7 450.2,448.5 450.8,448.6 451.4,448.5 452.0,448.7 452.5,448.4 453.1,448.5 453.7,448.6 454.3,448.3 454.8,448.8 455.4,448.5 456.0,448.3 456.6,448.5 457.2,448.6 457.7,448.7 458.3,448.6 458.9,448.7 459.5,448.6 460.0,448.8 460.6,449.0 461.2,448.8 461.8,448.8 462.3,448.7 462.9,448.7 463.5,448.8 464.1,448.6 464.6,448.3 465.2,448.1 465.8,448.2 466.4,448.3 466.9,448.1 467.5,447.9 468.1,448.0 468.7,447.8 469.2,448.0 469.8,447.8 470.4,447.5 471.0,447.9 471.5,448.1 472.1,448.3 472.7,448.3 473.3,448.2 473.8,448.3 474.4,448.1 475.0,448.1 475.6,447.9 476.1,448.0 476.7,448.0 477.3,447.8 477.9,447.5 478.4,447.5 479.0,447.4 479.6,447.3 480.2,447.0 480.7,447.2 481.3,447.1 481.9,447.0 482.5,447.0 483.0,446.9 483.6,447.1 484.2,447.1 484.8,446.9 485.3,446.9 485.9,446.9 486.5,446.7 487.1,446.6 487.6,446.5 488.2,446.4 488.8,446.5 489.4,446.3 489.9,446.1 490.5,446.1 491.1,446.2 491.7,445.8 492.2,446.0 492.8,446.0 493.4,446.0 494.0,445.6 494.5,445.9 495.1,445.9 495.7,445.8 496.3,445.9 496.8,445.7 497.4,445.7 498.0,446.2 498.6,445.9 499.1,445.9 499.7,446.0 500.3,445.9 500.9,445.8 501.4,445.6 502.0,445.7 502.6,445.6 503.2,445.5 503.7,445.3 504.3,445.0 504.9,444.8 505.5,444.8 506.0,444.6 506.6,444.8 507.2,444.8 507.8,444.9 508.3,444.9 508.9,444.5 509.5,444.9 510.1,444.5 510.6,444.1 511.2,444.2 511.8,443.7 512.4,443.9 512.9,443.5 513.5,443.4 514.1,442.9 514.7,442.8 515.2,442.6 515.8,442.1 516.4,442.3 517.0,442.1 517.5,441.9 518.1,441.4 518.7,441.1 519.3,441.1 519.8,440.9 520.4,440.9 521.0,440.5 521.6,440.3 522.1,440.1 522.7,440.0 523.3,439.4 523.9,439.3 524.4,439.1 525.0,438.7 525.6,438.7 526.2,438.1 526.7,438.1 527.3,437.4 527.9,437.1 528.5,436.5 529.1,436.3 529.6,435.9 530.2,435.2 530.8,434.9 531.4,434.4 531.9,433.9 532.5,433.3 533.1,432.4 533.7,431.8 534.2,431.3 534.8,430.3 535.4,429.4 536.0,428.3 536.5,427.1 537.1,426.0 537.7,424.6 538.3,423.0 538.8,421.0 539.4,418.7 540.0,416.5 540.6,413.8 541.1,410.2 541.7,406.6 542.3,401.9 542.9,396.5 543.4,389.3 544.0,380.4 544.6,368.2 545.2,352.4 545.7,332.0 546.3,308.4 546.9,290.9 547.1,290.4 547.5,293.8 548.0,316.2 548.6,340.7 549.2,360.0 549.8,375.0 550.3,385.9 550.9,394.3 551.5,400.8 552.1,405.8 552.6,410.2 553.2,413.6 553.8,416.5 554.4,418.9 554.9,421.3 555.5,422.9 556.1,424.3 556.7,425.8 557.2,427.0 557.8,428.3 558.4,429.0 559.0,430.3 559.5,430.8 560.1,432.1 560.7,433.0 561.3,433.4 561.8,434.0 562.4,434.7 563.0,435.1 563.6,435.5 564.1,435.5 564.7,436.1 565.3,436.3 565.9,436.7 566.4,436.7 567.0,437.4 567.6,437.6 568.2,438.0 568.7,438.7 569.3,438.8 569.9,438.7 570.5,439.0 571.0,439.0 571.6,439.0 572.2,439.2 572.8,439.4 573.3,439.2 573.9,439.6 574.5,439.5 575.1,439.7 575.6,440.0 576.2,439.9 576.8,439.8 577.4,440.2 577.9,440.2 578.5,440.7 579.1,440.4 579.7,440.6 580.2,440.8 580.8,441.2 581.4,441.4 582.0,441.6 582.5,441.8 583.1,442.0 583.7,442.0 584.3,442.1 584.8,442.2 585.4,442.3 586.0,442.1 586.6,442.5 587.1,442.3 587.7,442.6 588.3,442.8 588.9,442.7 589.4,442.7 590.0,442.4 590.6,442.6 591.2,442.5 591.7,442.6 592.3,442.5 592.9,442.4 593.5,442.4 594.0,442.2 594.6,442.3 595.2,442.2 595.8,442.3 596.3,442.3 596.9,442.1 597.5,442.2 598.1,442.3 598.6,442.3 599.2,442.1 599.8,442.3 600.4,442.3 601.0,442.5 601.5,442.7 602.1,442.7 602.7,442.7 603.3,443.1 603.8,443.3 604.4,443.1 605.0,443.3 605.6,443.4 606.1,443.3 606.7,443.4 607.3,443.5 607.9,443.7 608.4,443.5 609.0,443.6 609.6,443.5 610.2,443.5 610.7,443.4 611.3,443.4 611.9,443.4 612.5,443.4 613.0,443.3 613.6,443.4 614.2,443.6 614.8,443.7 615.3,443.3 615.9,443.7 616.5,443.3 617.1,443.3 617.6,443.3 618.2,443.1 618.8,443.1 619.4,443.2 619.9,443.5 620.5,443.5 621.1,443.6 621.7,443.6 622.2,443.7 622.8,443.8 623.4,444.0 624.0,444.2 624.5,444.0 625.1,444.2 625.7,444.1 626.3,443.9 626.8,444.0 627.4,443.8 628.0,443.8 628.6,443.6 629.1,443.8 629.7,443.3 630.3,443.7 630.9,443.4 631.4,443.5 632.0,443.1 632.6,443.0 633.2,443.0 633.7,443.2 634.3,442.9 634.9,443.0 635.5,443.1 636.0,442.8 636.6,442.9 637.2,442.9 637.8,442.9 638.3,442.6 638.9,442.7 639.5,442.9 640.1,442.7 640.6,442.9 641.2,442.4 641.8,443.0 642.4,442.8 642.9,442.8 643.5,442.7 644.1,442.8 644.7,442.8 645.2,442.7 645.8,443.0 646.4,442.8 647.0,442.8 647.5,442.6 648.1,442.9 648.7,442.8 649.3,442.8 649.8,442.9 650.4,442.8 651.0,443.2 651.6,443.1 652.1,443.1 652.7,442.8 653.3,442.9 653.9,442.7 654.4,442.7 655.0,442.6 655.6,442.3 656.2,442.3 656.7,442.5 657.3,442.4 657.9,442.3 658.5,442.4 659.0,442.2 659.6,442.1 660.2,442.5 660.8,442.0 661.3,441.9 661.9,442.0 662.5,442.0 663.1,442.1 663.6,442.2 664.2,442.3 664.8,442.3 665.4,442.3 665.9,442.3 666.5,442.2 667.1,442.3 667.7,442.2 668.2,442.0 668.8,441.9 669.4,442.0 670.0,441.7 670.5,441.8 671.1,441.8 671.7,441.6"/>
</g>
<rect x="384.1" y="258.4" width="287.6" height="192.0" fill="none" stroke="#2a2a2a" stroke-width="1.7"/>
<path d="M380.3 450.4H384.1M380.3 418.4H384.1M380.3 386.4H384.1M380.3 354.4H384.1M380.3 322.4H384.1M380.3 290.4H384.1M380.3 258.4H384.1M384.1 450.4V453.4M395.6 450.4V453.4M407.1 450.4V453.4M418.6 450.4V453.4M430.1 450.4V453.4M441.6 450.4V453.4M453.1 450.4V453.4M464.6 450.4V453.4M476.1 450.4V453.4M487.6 450.4V453.4M499.1 450.4V453.4M510.6 450.4V453.4M522.1 450.4V453.4M533.7 450.4V453.4M545.2 450.4V453.4M556.7 450.4V453.4M568.2 450.4V453.4M579.7 450.4V453.4M591.2 450.4V453.4M602.7 450.4V453.4M614.2 450.4V453.4M625.7 450.4V453.4M637.2 450.4V453.4M648.7 450.4V453.4M660.2 450.4V453.4M671.7 450.4V453.4" stroke="#2a2a2a" stroke-width="1.7" fill="none"/>
<text transform="translate(373.7 454.1) scale(0.97 1.08)" text-anchor="end" class="tl">0</text>
<text transform="translate(373.7 422.1) scale(0.97 1.08)" text-anchor="end" class="tl">0.2</text>
<text transform="translate(373.7 390.1) scale(0.97 1.08)" text-anchor="end" class="tl">0.4</text>
<text transform="translate(373.7 358.1) scale(0.97 1.08)" text-anchor="end" class="tl">0.6</text>
<text transform="translate(373.7 326.1) scale(0.97 1.08)" text-anchor="end" class="tl">0.8</text>
<text transform="translate(373.7 294.1) scale(0.97 1.08)" text-anchor="end" class="tl">1</text>
<text transform="translate(373.7 262.1) scale(0.97 1.08)" text-anchor="end" class="tl">1.2</text>
<text transform="translate(384.1 468.4) scale(0.97 1.08)" text-anchor="middle" class="tl">0</text>
<text transform="translate(441.6 468.4) scale(0.97 1.08)" text-anchor="middle" class="tl">100</text>
<text transform="translate(499.1 468.4) scale(0.97 1.08)" text-anchor="middle" class="tl">200</text>
<text transform="translate(556.7 468.4) scale(0.97 1.08)" text-anchor="middle" class="tl">300</text>
<text transform="translate(614.2 468.4) scale(0.97 1.08)" text-anchor="middle" class="tl">400</text>
<text transform="translate(671.7 468.4) scale(0.97 1.08)" text-anchor="middle" class="tl">500</text>
<text x="527.9" y="484.0" text-anchor="middle" class="at">Frequency (Hz)</text>
<text transform="translate(355.2 354.4) rotate(-90)" text-anchor="middle" class="at">Amplitude (×g) (m/<tspan class="sup" dy="-4">2</tspan><tspan dy="4">)</tspan></text>
<text x="516.8" y="274.6" text-anchor="middle" class="pl">(d)</text>
<rect x="388.1" y="260.3" width="67.1" height="61.1" fill="#fff" stroke="#1a1a1a" stroke-width="1.3"/>
<line x1="392.0" y1="266.6" x2="404.7" y2="266.6" stroke="#5a5a5a" stroke-width="1.2"/>
<text x="406.9" y="269.8" class="lg">AFL-IV_a</text>
<line x1="392.0" y1="278.8" x2="404.7" y2="278.8" stroke="#d2505a" stroke-width="1.2" stroke-dasharray="1 1"/>
<text x="406.9" y="281.9" class="lg">AFL-IV_b</text>
<line x1="392.0" y1="290.9" x2="404.7" y2="290.9" stroke="#6fa6d6" stroke-width="1.2"/>
<text x="406.9" y="294.1" class="lg">AFL-IV_c</text>
<line x1="392.0" y1="303.1" x2="404.7" y2="303.1" stroke="#eb9456" stroke-width="1.6"/>
<text x="406.9" y="306.2" class="lg">AFL-IV_d</text>
<line x1="392.0" y1="315.2" x2="404.7" y2="315.2" stroke="#4a6ec4" stroke-width="1.2"/>
<text x="406.9" y="318.4" class="lg">AFL-IV_e</text>
<clipPath id="cpe"><rect x="198.5" y="505.1" width="287.6" height="193.0"/></clipPath>
<g clip-path="url(#cpe)" fill="none" stroke-width="1" stroke-linejoin="round">
<polyline stroke="#262626" points="198.5,698.1 199.1,698.1 199.7,698.1 200.2,698.1 200.8,698.1 201.4,698.1 202.0,698.1 202.5,698.1 203.1,698.1 203.7,698.1 204.3,698.0 204.8,698.0 205.4,697.9 206.0,697.6 206.6,697.3 207.1,696.6 207.7,695.7 208.3,694.8 208.9,693.9 209.4,693.0 210.0,690.9 210.6,688.3 211.2,682.3 211.7,668.1 211.9,665.5 212.3,674.7 212.9,685.2 213.5,689.3 214.0,691.4 214.6,692.7 215.2,693.2 215.8,693.8 216.3,694.3 216.9,694.5 217.5,694.6 218.1,695.2 218.6,695.0 219.2,695.5 219.8,695.4 220.4,695.3 220.9,695.5 221.5,695.7 222.1,695.6 222.7,695.4 223.2,695.8 223.8,695.8 224.4,695.8 225.0,696.0 225.5,695.8 226.1,696.1 226.7,696.2 227.3,696.1 227.8,696.0 228.4,696.3 229.0,696.1 229.6,696.1 230.1,696.3 230.7,695.7 231.3,695.8 231.9,695.8 232.4,695.4 233.0,695.2 233.6,695.1 234.2,695.1 234.7,695.1 235.3,694.9 235.9,694.8 236.5,693.8 237.0,692.4 237.6,694.2 238.2,694.8 238.8,695.1 239.3,695.3 239.9,695.5 240.5,695.5 241.1,695.5 241.6,695.2 242.2,695.3 242.8,695.2 243.4,695.2 243.9,695.2 244.5,694.9 245.1,695.0 245.7,695.0 246.2,694.6 246.8,694.7 247.4,694.7 248.0,694.5 248.5,694.6 249.1,694.7 249.7,694.5 250.3,694.7 250.8,694.7 251.4,694.4 252.0,694.2 252.6,694.4 253.1,694.2 253.7,694.1 254.3,694.2 254.9,694.0 255.4,693.9 256.0,693.9 256.6,693.7 257.2,693.6 257.7,693.4 258.3,693.6 258.9,693.4 259.5,693.8 260.0,693.8 260.6,694.0 261.2,693.8 261.8,693.8 262.3,694.2 262.9,694.1 263.5,694.3 264.1,694.5 264.6,694.3 265.2,694.3 265.8,694.2 266.4,694.0 266.9,694.3 267.5,693.6 268.1,694.2 268.7,693.6 269.2,693.8 269.8,693.6 270.4,693.4 271.0,693.4 271.6,693.2 272.1,692.8 272.7,692.5 273.3,692.2 273.9,692.3 274.4,692.1 275.0,692.3 275.6,692.0 276.2,692.0 276.7,691.5 277.3,691.4 277.9,691.2 278.5,691.0 279.0,690.6 279.6,690.3 280.2,689.9 280.8,689.6 281.3,689.2 281.9,689.3 282.5,688.8 283.1,688.7 283.6,688.1 284.2,688.2 284.8,687.9 285.4,687.4 285.9,687.3 286.5,687.0 287.1,686.5 287.7,686.1 288.2,685.7 288.8,685.3 289.4,684.9 290.0,684.3 290.5,683.9 291.1,683.4 291.7,683.4 292.3,682.7 292.8,682.5 293.4,682.0 294.0,681.5 294.6,681.1 295.1,680.2 295.7,679.3 296.3,679.0 296.9,678.2 297.4,677.4 298.0,676.6 298.6,675.4 299.2,674.0 299.7,672.5 300.3,671.2 300.9,669.4 301.5,667.1 302.0,664.9 302.6,662.0 303.2,658.8 303.8,655.0 304.3,650.5 304.9,644.9 305.5,638.3 306.1,629.8 306.6,619.1 307.2,605.0 307.8,587.3 308.4,565.7 308.9,544.9 309.5,538.1 310.1,544.6 310.7,565.2 311.2,585.9 311.8,603.3 312.4,616.5 313.0,627.1 313.5,635.3 314.1,641.7 314.7,646.8 315.3,651.2 315.8,654.8 316.4,657.9 317.0,660.4 317.6,662.8 318.1,664.7 318.7,666.6 319.3,667.8 319.9,669.3 320.4,670.5 321.0,671.8 321.6,672.5 322.2,673.6 322.7,674.4 323.3,675.2 323.9,675.9 324.5,676.9 325.0,677.2 325.6,677.9 326.2,678.5 326.8,678.8 327.3,679.4 327.9,679.8 328.5,680.5 329.1,680.8 329.6,681.3 330.2,681.6 330.8,681.9 331.4,681.7 331.9,682.1 332.5,682.0 333.1,682.3 333.7,682.7 334.2,682.8 334.8,683.1 335.4,683.4 336.0,683.2 336.5,683.6 337.1,683.6 337.7,683.4 338.3,683.6 338.8,683.7 339.4,684.1 340.0,683.8 340.6,684.2 341.1,684.3 341.7,684.2 342.3,684.6 342.9,684.4 343.5,684.4 344.0,684.6 344.6,684.6 345.2,684.8 345.8,684.9 346.3,685.2 346.9,685.4 347.5,685.2 348.1,685.4 348.6,685.5 349.2,685.7 349.8,685.7 350.4,685.9 350.9,685.7 351.5,686.0 352.1,686.2 352.7,686.2 353.2,686.8 353.8,687.2 354.4,687.3 355.0,687.2 355.5,687.6 356.1,687.6 356.7,687.5 357.3,687.8 357.8,687.8 358.4,687.9 359.0,687.9 359.6,687.9 360.1,687.9 360.7,687.7 361.3,687.6 361.9,687.8 362.4,687.9 363.0,688.0 363.6,688.3 364.2,688.2 364.7,688.0 365.3,687.8 365.9,688.1 366.5,688.2 367.0,688.5 367.6,688.4 368.2,688.6 368.8,688.7 369.3,688.6 369.9,688.9 370.5,688.7 371.1,688.8 371.6,688.7 372.2,688.5 372.8,688.8 373.4,689.0 373.9,688.8 374.5,688.7 375.1,688.7 375.7,688.6 376.2,688.1 376.8,688.5 377.4,688.5 378.0,688.7 378.5,688.7 379.1,688.9 379.7,688.9 380.3,689.2 380.8,688.9 381.4,689.0 382.0,689.0 382.6,689.2 383.1,689.0 383.7,689.1 384.3,688.9 384.9,688.8 385.4,688.8 386.0,689.1 386.6,688.9 387.2,689.0 387.7,688.8 388.3,688.7 388.9,688.7 389.5,688.7 390.0,688.3 390.6,688.0 391.2,688.0 391.8,687.9 392.3,688.1 392.9,687.8 393.5,687.6 394.1,687.8 394.6,687.7 395.2,687.7 395.8,688.0 396.4,688.1 396.9,688.2 397.5,688.1 398.1,688.2 398.7,688.3 399.2,688.4 399.8,688.1 400.4,687.9 401.0,688.0 401.5,688.2 402.1,687.9 402.7,687.9 403.3,687.9 403.8,687.7 404.4,687.8 405.0,687.7 405.6,687.7 406.1,687.8 406.7,687.9 407.3,687.9 407.9,688.0 408.4,687.6 409.0,687.6 409.6,687.6 410.2,687.6 410.7,687.9 411.3,687.7 411.9,688.0 412.5,688.1 413.0,688.1 413.6,688.2 414.2,688.1 414.8,687.8 415.4,687.9 415.9,688.0 416.5,687.8 417.1,687.7 417.7,687.5 418.2,687.6 418.8,687.3 419.4,687.2 420.0,687.1 420.5,687.2 421.1,687.5 421.7,687.2 422.3,687.2 422.8,687.3 423.4,687.1 424.0,687.0 424.6,687.0 425.1,686.8 425.7,687.3 426.3,687.1 426.9,686.7 427.4,686.7 428.0,686.5 428.6,686.1 429.2,686.1 429.7,686.0 430.3,686.1 430.9,686.3 431.5,686.4 432.0,686.2 432.6,686.0 433.2,686.0 433.8,686.3 434.3,686.1 434.9,686.4 435.5,686.1 436.1,686.1 436.6,685.9 437.2,686.0 437.8,686.2 438.4,685.9 438.9,685.9 439.5,685.8 440.1,685.7 440.7,685.7 441.2,685.3 441.8,684.9 442.4,684.7 443.0,684.5 443.5,684.9 444.1,684.7 444.7,684.7 445.3,684.7 445.8,684.2 446.4,684.0 447.0,684.1 447.6,683.9 448.1,683.7 448.7,683.4 449.3,683.4 449.9,683.3 450.4,683.2 451.0,692.9 451.6,683.2 452.2,683.2 452.7,683.0 453.3,692.7 453.9,682.6 454.5,682.9 455.0,682.6 455.6,682.7 456.2,682.4 456.8,682.0 457.3,682.1 457.9,681.7 458.5,681.7 459.1,681.4 459.6,681.3 460.2,681.3 460.8,681.3 461.4,681.1 461.9,681.0 462.5,680.7 463.1,680.7 463.7,680.5 464.2,680.4 464.8,680.0 465.4,679.8 466.0,679.4 466.5,679.1 467.1,678.8 467.7,678.3 468.3,677.9 468.8,677.3 469.4,677.4 470.0,676.9 470.6,676.8 471.1,676.7 471.7,676.6 472.3,676.3 472.9,676.0 473.4,675.6 474.0,675.6 474.6,675.0 475.2,690.5 475.7,674.2 476.3,673.7 476.9,673.2 477.5,687.1 478.0,672.3 478.6,671.4 479.2,671.3 479.8,670.8 480.3,670.4 480.9,678.8 481.5,668.0 482.1,666.8 482.6,665.8 483.2,664.6 483.8,663.5 484.4,661.9 484.9,660.7 485.5,659.4 486.1,658.4"/>
<polyline stroke="#b41e1e" stroke-dasharray="1 1" points="198.5,698.1 199.1,698.1 199.7,698.1 200.2,698.1 200.8,698.1 201.4,698.1 202.0,698.1 202.5,698.1 203.1,698.1 203.7,698.1 204.3,698.0 204.8,698.0 205.4,697.8 206.0,697.5 206.6,697.1 207.1,696.3 207.7,695.5 208.3,694.8 208.9,693.5 209.4,692.4 210.0,690.5 210.6,687.6 211.2,681.0 211.7,665.3 211.9,662.4 212.3,672.5 212.9,684.1 213.5,688.7 214.0,691.0 214.6,692.0 215.2,693.3 215.8,694.0 216.3,694.5 216.9,694.7 217.5,695.0 218.1,695.1 218.6,695.4 219.2,695.5 219.8,695.5 220.4,695.5 220.9,695.6 221.5,695.6 222.1,695.7 222.7,695.6 223.2,695.6 223.8,695.6 224.4,695.7 225.0,695.5 225.5,695.7 226.1,695.6 226.7,695.8 227.3,695.7 227.8,695.9 228.4,695.2 229.0,695.4 229.6,695.4 230.1,695.3 230.7,695.5 231.3,695.3 231.9,695.2 232.4,695.3 233.0,695.2 233.6,695.1 234.2,695.2 234.7,695.3 235.3,695.1 235.9,694.7 236.5,694.1 237.0,692.4 237.6,693.5 238.2,694.4 238.8,694.5 239.3,695.0 239.9,695.0 240.5,695.0 241.1,695.2 241.6,695.2 242.2,695.2 242.8,695.4 243.4,695.4 243.9,695.5 244.5,695.5 245.1,695.3 245.7,695.5 246.2,695.6 246.8,695.0 247.4,695.0 248.0,694.9 248.5,694.7 249.1,694.6 249.7,694.6 250.3,694.4 250.8,694.3 251.4,694.4 252.0,694.2 252.6,694.1 253.1,693.9 253.7,693.9 254.3,693.6 254.9,693.7 255.4,693.8 256.0,693.8 256.6,693.9 257.2,693.9 257.7,693.8 258.3,693.8 258.9,693.5 259.5,693.9 260.0,694.0 260.6,693.9 261.2,693.7 261.8,693.8 262.3,693.5 262.9,693.6 263.5,693.4 264.1,693.5 264.6,693.3 265.2,693.3 265.8,693.3 266.4,693.3 266.9,693.3 267.5,693.2 268.1,693.0 268.7,693.0 269.2,692.5 269.8,692.5 270.4,692.0 271.0,691.9 271.6,691.9 272.1,691.8 272.7,691.8 273.3,691.4 273.9,691.5 274.4,691.3 275.0,691.1 275.6,691.1 276.2,690.9 276.7,690.5 277.3,690.6 277.9,690.7 278.5,690.6 279.0,690.2 279.6,690.5 280.2,690.1 280.8,690.0 281.3,689.8 281.9,689.6 282.5,689.5 283.1,689.1 283.6,688.8 284.2,688.5 284.8,688.4 285.4,687.9 285.9,687.7 286.5,687.3 287.1,686.8 287.7,686.3 288.2,685.9 288.8,685.5 289.4,684.9 290.0,684.4 290.5,683.9 291.1,683.5 291.7,682.8 292.3,682.1 292.8,681.8 293.4,681.4 294.0,681.0 294.6,680.3 295.1,679.6 295.7,678.9 296.3,678.3 296.9,677.5 297.4,676.5 298.0,675.7 298.6,674.5 299.2,673.3 299.7,671.6 300.3,670.3 300.9,668.2 301.5,666.1 302.0,663.8 302.6,661.3 303.2,657.9 303.8,654.1 304.3,649.7 304.9,644.1 305.5,637.1 306.1,629.2 306.6,618.2 307.2,604.3 307.8,586.7 308.4,565.3 308.9,544.4 309.5,538.1 310.1,544.5 310.7,564.7 311.2,585.4 311.8,602.7 312.4,615.8 313.0,626.4 313.5,634.3 314.1,641.1 314.7,646.3 315.3,650.6 315.8,654.4 316.4,657.6 317.0,660.0 317.6,662.5 318.1,664.3 318.7,665.9 319.3,667.5 319.9,668.8 320.4,670.1 321.0,670.7 321.6,671.9 322.2,672.9 322.7,674.0 323.3,674.7 323.9,675.2 324.5,675.6 325.0,676.7 325.6,677.4 326.2,678.0 326.8,678.2 327.3,678.5 327.9,679.0 328.5,679.4 329.1,679.7 329.6,679.8 330.2,679.9 330.8,680.6 331.4,681.0 331.9,681.4 332.5,681.4 333.1,681.8 333.7,682.1 334.2,682.6 334.8,682.7 335.4,683.1 336.0,683.0 336.5,683.4 337.1,683.6 337.7,683.7 338.3,683.7 338.8,683.1 339.4,683.0 340.0,683.2 340.6,683.2 341.1,683.1 341.7,683.5 342.3,683.2 342.9,683.3 343.5,683.4 344.0,683.4 344.6,683.1 345.2,683.8 345.8,684.0 346.3,684.1 346.9,684.6 347.5,684.4 348.1,684.9 348.6,685.5 349.2,685.6 349.8,686.0 350.4,686.4 350.9,686.7 351.5,687.1 352.1,687.5 352.7,687.5 353.2,687.3 353.8,687.5 354.4,687.5 355.0,687.6 355.5,687.6 356.1,687.8 356.7,687.4 357.3,687.1 357.8,687.6 358.4,687.3 359.0,687.7 359.6,688.0 360.1,688.0 360.7,688.1 361.3,688.5 361.9,688.6 362.4,688.5 363.0,688.7 363.6,688.7 364.2,688.1 364.7,688.5 365.3,688.6 365.9,688.4 366.5,688.7 367.0,688.5 367.6,688.7 368.2,688.6 368.8,688.6 369.3,688.5 369.9,688.5 370.5,688.5 371.1,688.6 371.6,688.7 372.2,688.5 372.8,688.7 373.4,688.7 373.9,688.7 374.5,688.5 375.1,688.7 375.7,688.8 376.2,688.9 376.8,689.0 377.4,689.1 378.0,688.8 378.5,689.1 379.1,688.7 379.7,688.8 380.3,688.7 380.8,688.6 381.4,688.2 382.0,688.1 382.6,688.4 383.1,688.6 383.7,688.3 384.3,688.5 384.9,688.4 385.4,688.3 386.0,688.6 386.6,688.5 387.2,688.7 387.7,688.5 388.3,688.5 388.9,688.7 389.5,688.6 390.0,688.3 390.6,688.7 391.2,688.5 391.8,688.4 392.3,688.3 392.9,688.3 393.5,688.1 394.1,688.3 394.6,688.1 395.2,688.2 395.8,688.2 396.4,688.0 396.9,687.7 397.5,687.9 398.1,688.1 398.7,687.9 399.2,688.0 399.8,688.1 400.4,687.9 401.0,687.7 401.5,687.9 402.1,687.7 402.7,687.9 403.3,687.7 403.8,687.7 404.4,687.5 405.0,687.9 405.6,688.0 406.1,688.4 406.7,688.2 407.3,688.0 407.9,688.0 408.4,687.8 409.0,687.5 409.6,687.5 410.2,687.5 410.7,687.6 411.3,687.8 411.9,687.8 412.5,688.0 413.0,687.9 413.6,687.9 414.2,687.8 414.8,687.8 415.4,687.5 415.9,687.4 416.5,687.2 417.1,687.4 417.7,686.9 418.2,686.9 418.8,686.8 419.4,686.7 420.0,686.7 420.5,686.5 421.1,686.3 421.7,686.2 422.3,686.4 422.8,686.5 423.4,686.6 424.0,686.5 424.6,686.3 425.1,686.6 425.7,686.4 426.3,686.4 426.9,686.6 427.4,687.0 428.0,686.9 428.6,686.9 429.2,686.6 429.7,686.8 430.3,686.8 430.9,686.3 431.5,686.4 432.0,686.5 432.6,686.6 433.2,686.5 433.8,686.1 434.3,686.2 434.9,686.1 435.5,686.2 436.1,685.9 436.6,685.8 437.2,685.6 437.8,685.3 438.4,685.2 438.9,685.0 439.5,685.1 440.1,685.1 440.7,685.0 441.2,684.5 441.8,684.7 442.4,684.4 443.0,684.4 443.5,684.5 444.1,684.4 444.7,684.0 445.3,684.2 445.8,683.7 446.4,683.6 447.0,683.3 447.6,683.4 448.1,683.7 448.7,683.4 449.3,683.6 449.9,683.7 450.4,684.0 451.0,684.1 451.6,684.2 452.2,684.3 452.7,684.4 453.3,684.1 453.9,683.9 454.5,683.8 455.0,683.6 455.6,683.0 456.2,683.1 456.8,682.9 457.3,682.8 457.9,682.7 458.5,682.2 459.1,682.2 459.6,681.7 460.2,681.8 460.8,681.7 461.4,681.7 461.9,681.4 462.5,681.3 463.1,681.3 463.7,680.9 464.2,680.4 464.8,680.2 465.4,680.2 466.0,679.8 466.5,679.5 467.1,679.3 467.7,678.9 468.3,678.7 468.8,678.5 469.4,678.4 470.0,678.1 470.6,677.7 471.1,678.0 471.7,677.3 472.3,677.1 472.9,677.1 473.4,676.5 474.0,676.1 474.6,675.6 475.2,675.2 475.7,674.5 476.3,674.2 476.9,673.7 477.5,673.3 478.0,672.8 478.6,671.9 479.2,671.5 479.8,671.2 480.3,670.3 480.9,668.8 481.5,667.7 482.1,666.2 482.6,665.0 483.2,663.5 483.8,662.1 484.4,660.7 484.9,659.5 485.5,658.0 486.1,656.8"/>
<polyline stroke="#5b9bd5" points="198.5,698.1 199.1,698.1 199.7,698.1 200.2,698.1 200.8,698.1 201.4,698.1 202.0,698.1 202.5,698.1 203.1,698.1 203.7,698.1 204.3,698.1 204.8,698.0 205.4,697.9 206.0,697.7 206.6,697.5 207.1,697.0 207.7,696.6 208.3,696.1 208.9,695.6 209.4,694.9 210.0,693.8 210.6,692.6 211.2,689.9 211.7,684.0 212.3,674.0 212.9,684.0 213.5,689.5 214.0,692.0 214.6,693.0 215.2,694.1 215.8,694.5 216.3,694.7 216.9,695.2 217.5,695.5 218.1,695.5 218.6,695.9 219.2,696.0 219.8,696.0 220.4,696.0 220.9,696.5 221.5,696.4 222.1,696.3 222.7,696.1 223.2,696.2 223.8,696.2 224.4,696.4 225.0,696.1 225.5,696.0 226.1,696.3 226.7,696.2 227.3,696.2 227.8,695.9 228.4,696.0 229.0,695.8 229.6,695.9 230.1,695.7 230.7,695.9 231.3,695.7 231.9,695.8 232.4,695.6 233.0,695.6 233.6,695.5 234.2,695.5 234.7,695.2 235.3,695.0 235.9,694.8 236.5,693.8 237.0,692.0 237.6,693.6 238.2,694.6 238.8,694.8 239.3,694.9 239.9,695.0 240.5,695.3 241.1,695.3 241.6,695.3 242.2,695.4 242.8,695.7 243.4,695.7 243.9,695.9 244.5,695.8 245.1,696.1 245.7,696.1 246.2,696.1 246.8,696.2 247.4,695.9 248.0,696.0 248.5,695.9 249.1,695.7 249.7,695.8 250.3,695.8 250.8,695.7 251.4,695.3 252.0,695.3 252.6,695.5 253.1,695.5 253.7,695.4 254.3,695.2 254.9,695.5 255.4,695.2 256.0,695.1 256.6,695.2 257.2,694.9 257.7,694.8 258.3,694.5 258.9,694.8 259.5,694.4 260.0,694.3 260.6,694.2 261.2,694.3 261.8,694.3 262.3,694.2 262.9,694.2 263.5,694.1 264.1,693.9 264.6,694.0 265.2,694.3 265.8,694.1 266.4,694.2 266.9,694.2 267.5,694.2 268.1,694.0 268.7,694.0 269.2,693.6 269.8,693.6 270.4,693.5 271.0,693.2 271.6,693.0 272.1,693.2 272.7,692.8 273.3,692.9 273.9,692.9 274.4,692.7 275.0,692.5 275.6,692.6 276.2,692.5 276.7,692.3 277.3,692.0 277.9,691.7 278.5,691.9 279.0,691.7 279.6,691.2 280.2,691.0 280.8,690.7 281.3,690.3 281.9,690.4 282.5,690.1 283.1,689.7 283.6,689.5 284.2,689.4 284.8,689.3 285.4,689.1 285.9,689.2 286.5,689.4 287.1,688.8 287.7,688.9 288.2,688.4 288.8,688.1 289.4,687.8 290.0,687.3 290.5,686.9 291.1,686.7 291.7,686.3 292.3,685.8 292.8,685.1 293.4,684.6 294.0,683.8 294.6,683.0 295.1,682.0 295.7,681.0 296.3,680.5 296.9,679.2 297.4,678.0 298.0,676.9 298.6,675.3 299.2,674.1 299.7,672.4 300.3,670.5 300.9,668.0 301.5,665.6 302.0,662.4 302.6,659.2 303.2,654.7 303.8,649.2 304.3,642.5 304.9,633.9 305.5,622.2 306.1,606.9 306.6,586.2 307.2,561.4 307.8,540.3 308.1,538.1 308.4,541.5 308.9,568.5 309.5,596.3 310.1,616.8 310.7,631.1 311.2,641.1 311.8,648.8 312.4,654.3 313.0,658.7 313.5,662.4 314.1,665.2 314.7,667.8 315.3,669.6 315.8,671.4 316.4,672.7 317.0,674.5 317.6,675.7 318.1,676.8 318.7,677.4 319.3,678.5 319.9,679.4 320.4,679.9 321.0,680.7 321.6,681.6 322.2,682.2 322.7,683.0 323.3,683.5 323.9,684.1 324.5,684.0 325.0,684.4 325.6,684.8 326.2,685.1 326.8,685.5 327.3,685.5 327.9,686.0 328.5,686.3 329.1,686.3 329.6,686.3 330.2,686.6 330.8,686.7 331.4,686.9 331.9,687.1 332.5,687.1 333.1,687.6 333.7,687.5 334.2,687.8 334.8,687.7 335.4,687.9 336.0,687.8 336.5,688.2 337.1,688.2 337.7,688.2 338.3,688.2 338.8,688.6 339.4,688.4 340.0,688.7 340.6,688.9 341.1,689.0 341.7,689.3 342.3,688.9 342.9,688.8 343.5,688.9 344.0,688.9 344.6,689.0 345.2,689.1 345.8,689.0 346.3,688.8 346.9,689.2 347.5,689.1 348.1,689.3 348.6,689.6 349.2,689.8 349.8,690.0 350.4,689.9 350.9,690.0 351.5,690.1 352.1,690.2 352.7,690.4 353.2,690.5 353.8,690.5 354.4,690.5 355.0,690.5 355.5,690.6 356.1,691.1 356.7,691.2 357.3,691.3 357.8,691.1 358.4,691.4 359.0,691.2 359.6,691.4 360.1,691.4 360.7,691.4 361.3,691.6 361.9,691.5 362.4,691.4 363.0,691.6 363.6,691.7 364.2,691.6 364.7,691.8 365.3,691.7 365.9,691.5 366.5,691.4 367.0,691.7 367.6,691.8 368.2,691.9 368.8,692.1 369.3,692.1 369.9,692.2 370.5,692.4 371.1,692.3 371.6,692.5 372.2,692.5 372.8,692.8 373.4,692.8 373.9,692.7 374.5,692.8 375.1,692.8 375.7,692.9 376.2,692.7 376.8,692.7 377.4,692.6 378.0,692.7 378.5,692.5 379.1,692.4 379.7,692.5 380.3,692.4 380.8,692.3 381.4,692.4 382.0,692.4 382.6,692.4 383.1,692.4 383.7,692.5 384.3,692.4 384.9,692.2 385.4,692.2 386.0,692.1 386.6,692.1 387.2,692.0 387.7,692.0 388.3,692.0 388.9,692.0 389.5,691.5 390.0,691.6 390.6,691.4 391.2,691.3 391.8,691.6 392.3,691.3 392.9,691.7 393.5,691.7 394.1,691.9 394.6,691.6 395.2,692.0 395.8,692.2 396.4,692.3 396.9,692.4 397.5,692.3 398.1,692.5 398.7,692.3 399.2,692.2 399.8,692.4 400.4,692.1 401.0,692.5 401.5,692.3 402.1,692.4 402.7,692.4 403.3,692.5 403.8,692.4 404.4,692.6 405.0,692.7 405.6,692.9 406.1,692.6 406.7,692.9 407.3,693.0 407.9,692.7 408.4,692.5 409.0,692.5 409.6,692.4 410.2,692.4 410.7,692.5 411.3,692.6 411.9,692.6 412.5,692.7 413.0,692.4 413.6,692.9 414.2,692.6 414.8,692.5 415.4,692.5 415.9,692.2 416.5,692.6 417.1,692.3 417.7,692.1 418.2,692.4 418.8,692.1 419.4,692.1 420.0,692.0 420.5,692.2 421.1,691.8 421.7,691.9 422.3,691.7 422.8,691.6 423.4,691.6 424.0,691.3 424.6,691.2 425.1,691.1 425.7,691.0 426.3,691.0 426.9,690.5 427.4,690.3 428.0,690.1 428.6,690.3 429.2,690.1 429.7,689.6 430.3,690.0 430.9,689.9 431.5,689.8 432.0,690.0 432.6,689.8 433.2,690.0 433.8,689.9 434.3,690.1 434.9,690.2 435.5,690.1 436.1,690.2 436.6,690.4 437.2,690.3 437.8,690.3 438.4,690.4 438.9,690.1 439.5,690.3 440.1,690.1 440.7,690.2 441.2,690.2 441.8,690.2 442.4,690.0 443.0,689.8 443.5,689.8 444.1,689.7 444.7,689.9 445.3,689.6 445.8,689.7 446.4,689.6 447.0,689.6 447.6,689.2 448.1,689.5 448.7,689.5 449.3,689.3 449.9,689.3 450.4,689.1 451.0,689.1 451.6,689.1 452.2,689.3 452.7,688.9 453.3,689.0 453.9,688.8 454.5,689.0 455.0,688.4 455.6,688.4 456.2,688.5 456.8,688.6 457.3,688.8 457.9,688.6 458.5,688.6 459.1,688.7 459.6,688.6 460.2,688.3 460.8,688.2 461.4,688.3 461.9,688.2 462.5,687.8 463.1,688.0 463.7,687.9 464.2,687.5 464.8,687.4 465.4,687.0 466.0,686.7 466.5,686.6 467.1,686.1 467.7,686.2 468.3,686.1 468.8,685.9 469.4,685.5 470.0,685.5 470.6,685.4 471.1,685.5 471.7,685.7 472.3,685.7 472.9,685.8 473.4,685.6 474.0,685.6 474.6,685.4 475.2,685.2 475.7,685.1 476.3,685.2 476.9,685.2 477.5,684.9 478.0,685.0 478.6,684.8 479.2,684.8 479.8,684.6 480.3,684.2 480.9,683.5 481.5,682.7 482.1,682.0 482.6,681.3 483.2,680.4 483.8,679.8 484.4,678.5 484.9,678.0 485.5,677.4 486.1,676.6"/>
<polyline stroke="#ed7d31" points="198.5,698.1 199.1,698.1 199.7,698.1 200.2,698.1 200.8,698.1 201.4,698.1 202.0,698.1 202.5,698.1 203.1,698.1 203.7,698.1 204.3,698.0 204.8,698.0 205.4,697.9 206.0,697.7 206.6,697.3 207.1,696.9 207.7,696.3 208.3,695.6 208.9,695.0 209.4,694.2 210.0,693.1 210.6,691.2 211.2,687.3 211.7,678.3 212.0,673.8 212.3,678.2 212.9,687.6 213.5,691.1 214.0,692.7 214.6,693.9 215.2,694.4 215.8,695.0 216.3,695.1 216.9,695.7 217.5,695.8 218.1,695.9 218.6,696.0 219.2,696.3 219.8,696.1 220.4,696.2 220.9,696.1 221.5,696.3 222.1,696.3 222.7,696.3 223.2,696.4 223.8,696.4 224.4,696.3 225.0,696.2 225.5,696.2 226.1,696.2 226.7,696.0 227.3,696.2 227.8,695.9 228.4,696.0 229.0,695.8 229.6,695.7 230.1,695.7 230.7,695.6 231.3,695.6 231.9,695.5 232.4,695.5 233.0,695.5 233.6,695.3 234.2,695.4 234.7,695.2 235.3,695.1 235.9,694.5 236.5,693.9 237.0,692.3 237.6,693.6 238.2,694.6 238.8,694.8 239.3,695.1 239.9,694.9 240.5,694.8 241.1,695.0 241.6,694.9 242.2,695.0 242.8,695.0 243.4,695.0 243.9,694.8 244.5,694.7 245.1,694.7 245.7,694.7 246.2,694.7 246.8,694.5 247.4,694.8 248.0,695.0 248.5,694.9 249.1,694.9 249.7,694.8 250.3,695.0 250.8,695.0 251.4,695.0 252.0,694.8 252.6,694.8 253.1,694.7 253.7,694.8 254.3,694.5 254.9,694.5 255.4,694.2 256.0,694.0 256.6,694.0 257.2,694.0 257.7,693.9 258.3,693.7 258.9,693.8 259.5,693.7 260.0,693.3 260.6,693.4 261.2,693.2 261.8,693.3 262.3,693.1 262.9,693.1 263.5,692.8 264.1,692.6 264.6,692.6 265.2,692.3 265.8,692.2 266.4,692.0 266.9,691.7 267.5,691.4 268.1,691.4 268.7,691.5 269.2,691.5 269.8,691.3 270.4,691.4 271.0,690.9 271.6,690.7 272.1,690.8 272.7,690.3 273.3,689.9 273.9,689.9 274.4,689.6 275.0,689.3 275.6,689.5 276.2,689.1 276.7,688.8 277.3,688.7 277.9,688.6 278.5,688.1 279.0,687.8 279.6,687.2 280.2,687.1 280.8,686.5 281.3,686.2 281.9,685.7 282.5,685.2 283.1,684.7 283.6,684.1 284.2,683.7 284.8,683.1 285.4,682.4 285.9,681.9 286.5,681.1 287.1,680.5 287.7,679.5 288.2,678.5 288.8,677.5 289.4,676.3 290.0,675.3 290.5,673.5 291.1,672.0 291.7,670.3 292.3,667.9 292.8,665.4 293.4,662.7 294.0,659.0 294.6,655.0 295.1,650.2 295.7,644.1 296.3,636.4 296.9,626.4 297.4,612.7 298.0,594.9 298.6,572.0 299.2,548.0 299.7,538.1 300.3,547.7 300.9,571.1 301.5,593.2 302.0,610.5 302.6,623.4 303.2,633.5 303.8,641.0 304.3,647.2 304.9,652.0 305.5,655.8 306.1,659.1 306.6,661.8 307.2,664.4 307.8,666.5 308.4,668.4 308.9,669.8 309.5,671.3 310.1,672.5 310.7,673.5 311.2,674.2 311.8,675.2 312.4,675.9 313.0,676.7 313.5,677.2 314.1,677.5 314.7,678.3 315.3,678.8 315.8,679.3 316.4,679.6 317.0,680.2 317.6,680.4 318.1,680.6 318.7,681.1 319.3,681.4 319.9,682.0 320.4,682.4 321.0,682.7 321.6,683.0 322.2,683.5 322.7,683.7 323.3,683.6 323.9,684.0 324.5,684.3 325.0,684.6 325.6,684.6 326.2,684.9 326.8,685.2 327.3,685.4 327.9,685.7 328.5,685.3 329.1,685.5 329.6,685.7 330.2,685.6 330.8,685.9 331.4,685.5 331.9,685.7 332.5,685.8 333.1,686.0 333.7,685.9 334.2,685.7 334.8,685.8 335.4,686.0 336.0,686.0 336.5,686.3 337.1,686.5 337.7,686.4 338.3,686.5 338.8,686.9 339.4,687.0 340.0,686.9 340.6,686.7 341.1,686.9 341.7,687.0 342.3,686.8 342.9,686.8 343.5,686.7 344.0,687.1 344.6,687.1 345.2,687.1 345.8,687.7 346.3,687.5 346.9,687.7 347.5,688.1 348.1,688.1 348.6,688.6 349.2,688.2 349.8,688.1 350.4,688.2 350.9,688.5 351.5,688.4 352.1,688.5 352.7,688.1 353.2,688.3 353.8,688.3 354.4,688.6 355.0,688.7 355.5,688.5 356.1,688.5 356.7,688.3 357.3,688.4 357.8,688.2 358.4,688.2 359.0,688.4 359.6,688.6 360.1,688.4 360.7,688.6 361.3,688.5 361.9,688.8 362.4,688.8 363.0,688.8 363.6,688.7 364.2,688.6 364.7,688.6 365.3,688.9 365.9,688.8 366.5,689.1 367.0,689.1 367.6,689.1 368.2,689.2 368.8,689.2 369.3,689.6 369.9,689.6 370.5,689.8 371.1,689.8 371.6,689.8 372.2,689.9 372.8,690.0 373.4,690.3 373.9,690.0 374.5,689.8 375.1,689.8 375.7,689.5 376.2,689.3 376.8,689.5 377.4,689.7 378.0,689.5 378.5,689.6 379.1,689.3 379.7,689.3 380.3,688.9 380.8,689.0 381.4,688.7 382.0,688.5 382.6,688.7 383.1,688.5 383.7,688.4 384.3,688.3 384.9,688.4 385.4,688.3 386.0,688.1 386.6,688.2 387.2,688.0 387.7,688.1 388.3,687.9 388.9,687.9 389.5,687.7 390.0,687.3 390.6,687.7 391.2,687.7 391.8,688.1 392.3,687.8 392.9,687.9 393.5,687.9 394.1,687.7 394.6,687.7 395.2,687.5 395.8,687.6 396.4,687.7 396.9,687.9 397.5,687.7 398.1,688.1 398.7,688.3 399.2,687.8 399.8,688.0 400.4,687.7 401.0,687.6 401.5,687.9 402.1,687.7 402.7,687.8 403.3,687.7 403.8,687.7 404.4,687.3 405.0,687.4 405.6,687.3 406.1,686.8 406.7,686.8 407.3,686.4 407.9,686.5 408.4,686.0 409.0,685.6 409.6,685.4 410.2,685.4 410.7,685.4 411.3,685.0 411.9,685.0 412.5,684.6 413.0,684.7 413.6,684.3 414.2,684.1 414.8,683.8 415.4,683.6 415.9,683.7 416.5,683.6 417.1,683.4 417.7,681.6 418.2,682.1 418.8,681.1 419.4,682.5 420.0,681.3 420.5,681.6 421.1,682.9 421.7,680.3 422.3,682.2 422.8,683.1 423.4,681.9 424.0,682.2 424.6,681.7 425.1,679.7 425.7,680.7 426.3,678.3 426.9,680.5 427.4,678.8 428.0,679.2 428.6,681.0 429.2,678.4 429.7,677.9 430.3,676.6 430.9,679.5 431.5,676.5 432.0,676.1 432.6,678.3 433.2,676.8 433.8,675.6 434.3,679.4 434.9,676.6 435.5,679.5 436.1,676.8 436.6,674.9 437.2,677.0 437.8,675.2 438.4,677.7 438.9,675.9 439.5,675.4 440.1,673.4 440.7,674.7 441.2,673.0 441.8,673.8 442.4,674.2 443.0,672.6 443.5,672.0 444.1,672.5 444.7,671.1 445.3,672.8 445.8,670.8 446.4,670.4 447.0,671.6 447.6,669.9 448.1,660.9 448.7,669.8 449.3,665.1 449.9,667.0 450.4,665.1 451.0,668.7 451.6,662.1 452.2,663.2 452.7,663.1 453.3,661.1 453.9,658.6 454.5,661.0 455.0,656.9 455.6,658.6 456.2,654.9 456.8,655.0 457.3,653.7 457.9,653.1 458.5,654.7 459.1,653.1 459.6,651.4 460.2,651.5 460.8,650.4 461.4,651.0 461.9,647.6 462.5,644.5 463.1,645.2 463.7,666.8 464.2,645.1 464.8,642.6 465.4,639.5 466.0,639.4 466.5,637.3 467.1,636.4 467.7,634.4 468.3,631.6 468.8,630.2 469.4,628.4 470.0,625.1 470.6,623.6 471.1,623.5 471.7,617.8 472.3,615.0 472.9,613.9 473.4,612.9 474.0,611.5 474.6,608.8 475.2,604.9 475.7,600.4 476.3,598.9 476.9,595.9 477.5,593.8 478.0,596.7 478.6,602.0 479.2,627.1 479.8,608.9 480.3,614.1 480.9,615.4 481.5,619.2 482.1,624.9 482.6,630.4 483.2,629.9 483.8,634.5 484.4,635.7 484.9,640.5 485.5,642.4 486.1,644.9"/>
<polyline stroke="#4472c4" points="198.5,698.1 199.1,698.1 199.7,698.1 200.2,698.1 200.8,698.1 201.4,698.1 202.0,698.1 202.5,698.1 203.1,698.1 203.7,698.1 204.3,698.0 204.8,697.9 205.4,697.7 206.0,697.5 206.6,696.9 207.1,696.3 207.7,695.5 208.3,694.6 208.9,693.6 209.4,692.5 210.0,691.6 210.6,690.0 211.2,687.7 211.7,683.2 212.3,673.9 212.9,652.3 213.0,650.5 213.5,666.5 214.0,680.6 214.6,686.0 215.2,688.9 215.8,690.8 216.3,691.9 216.9,692.6 217.5,693.2 218.1,694.0 218.6,693.9 219.2,694.2 219.8,694.6 220.4,694.3 220.9,694.7 221.5,694.8 222.1,694.8 222.7,695.0 223.2,694.9 223.8,695.1 224.4,695.0 225.0,694.9 225.5,695.3 226.1,695.0 226.7,695.1 227.3,694.7 227.8,695.0 228.4,694.9 229.0,694.7 229.6,694.9 230.1,695.0 230.7,695.0 231.3,694.8 231.9,694.7 232.4,694.7 233.0,694.7 233.6,694.5 234.2,694.4 234.7,694.3 235.3,693.9 235.9,693.7 236.5,693.2 237.0,691.8 237.6,693.1 238.2,694.1 238.8,694.2 239.3,694.6 239.9,694.9 240.5,694.7 241.1,694.7 241.6,695.0 242.2,695.2 242.8,694.9 243.4,694.9 243.9,694.6 244.5,694.5 245.1,694.4 245.7,694.5 246.2,694.6 246.8,694.4 247.4,694.7 248.0,694.6 248.5,694.3 249.1,694.5 249.7,694.7 250.3,694.5 250.8,694.2 251.4,694.4 252.0,694.6 252.6,694.8 253.1,694.7 253.7,694.5 254.3,694.6 254.9,694.5 255.4,694.3 256.0,694.4 256.6,694.2 257.2,694.2 257.7,694.0 258.3,694.0 258.9,693.7 259.5,693.9 260.0,693.8 260.6,693.7 261.2,693.7 261.8,693.9 262.3,693.6 262.9,693.7 263.5,693.7 264.1,693.7 264.6,693.4 265.2,693.4 265.8,693.3 266.4,693.2 266.9,693.3 267.5,693.0 268.1,693.0 268.7,692.6 269.2,692.5 269.8,692.7 270.4,692.6 271.0,692.4 271.6,692.2 272.1,692.1 272.7,691.8 273.3,691.8 273.9,691.4 274.4,690.9 275.0,690.8 275.6,690.6 276.2,690.5 276.7,690.3 277.3,690.2 277.9,690.4 278.5,690.0 279.0,689.9 279.6,689.7 280.2,689.4 280.8,689.4 281.3,689.2 281.9,689.1 282.5,688.9 283.1,688.4 283.6,688.3 284.2,688.0 284.8,687.9 285.4,687.6 285.9,687.3 286.5,687.0 287.1,686.3 287.7,686.0 288.2,685.4 288.8,685.2 289.4,684.8 290.0,684.4 290.5,684.1 291.1,683.6 291.7,682.8 292.3,682.4 292.8,681.3 293.4,680.7 294.0,679.8 294.6,678.8 295.1,677.7 295.7,676.6 296.3,675.3 296.9,674.1 297.4,672.8 298.0,670.9 298.6,669.0 299.2,666.6 299.7,664.3 300.3,661.4 300.9,658.3 301.5,654.6 302.0,650.4 302.6,645.3 303.2,638.9 303.8,631.0 304.3,620.7 304.9,607.5 305.5,590.7 306.1,570.1 306.6,548.4 307.2,538.1 307.3,538.1 307.8,541.2 308.4,560.3 308.9,581.7 309.5,599.5 310.1,613.7 310.7,624.8 311.2,633.3 311.8,640.0 312.4,645.3 313.0,650.0 313.5,653.7 314.1,656.9 314.7,659.2 315.3,662.2 315.8,663.9 316.4,665.5 317.0,666.9 317.6,668.2 318.1,669.0 318.7,670.3 319.3,671.6 319.9,672.5 320.4,673.6 321.0,674.6 321.6,675.2 322.2,675.6 322.7,676.1 323.3,676.7 323.9,677.2 324.5,677.7 325.0,678.3 325.6,678.5 326.2,679.2 326.8,679.4 327.3,679.8 327.9,679.9 328.5,679.8 329.1,680.1 329.6,680.4 330.2,680.7 330.8,681.2 331.4,681.3 331.9,681.6 332.5,682.1 333.1,682.2 333.7,682.5 334.2,682.6 334.8,682.8 335.4,682.6 336.0,682.8 336.5,682.8 337.1,682.8 337.7,682.6 338.3,682.8 338.8,682.8 339.4,682.8 340.0,682.8 340.6,683.3 341.1,683.1 341.7,683.2 342.3,683.2 342.9,683.4 343.5,683.6 344.0,683.7 344.6,683.8 345.2,683.9 345.8,684.1 346.3,684.1 346.9,684.2 347.5,684.3 348.1,684.4 348.6,684.4 349.2,684.2 349.8,684.4 350.4,684.5 350.9,684.5 351.5,685.0 352.1,684.7 352.7,684.6 353.2,684.9 353.8,685.3 354.4,685.4 355.0,685.6 355.5,685.5 356.1,685.6 356.7,685.6 357.3,685.8 357.8,685.9 358.4,686.3 359.0,686.0 359.6,686.2 360.1,686.2 360.7,686.2 361.3,686.5 361.9,686.4 362.4,686.2 363.0,686.4 363.6,686.6 364.2,686.8 364.7,686.5 365.3,686.6 365.9,686.6 366.5,686.6 367.0,686.9 367.6,686.8 368.2,687.1 368.8,687.0 369.3,687.3 369.9,687.2 370.5,687.4 371.1,687.3 371.6,687.3 372.2,687.7 372.8,687.4 373.4,687.3 373.9,687.4 374.5,687.1 375.1,687.2 375.7,687.1 376.2,687.2 376.8,687.5 377.4,687.5 378.0,687.4 378.5,687.3 379.1,687.2 379.7,687.1 380.3,687.3 380.8,687.3 381.4,687.4 382.0,687.4 382.6,687.4 383.1,687.5 383.7,687.3 384.3,687.2 384.9,687.1 385.4,687.4 386.0,687.4 386.6,687.4 387.2,687.1 387.7,687.6 388.3,687.7 388.9,688.0 389.5,688.2 390.0,688.6 390.6,688.2 391.2,688.2 391.8,688.4 392.3,688.3 392.9,688.6 393.5,688.6 394.1,688.7 394.6,688.5 395.2,688.5 395.8,688.6 396.4,688.5 396.9,688.6 397.5,688.2 398.1,688.4 398.7,688.1 399.2,688.0 399.8,687.8 400.4,687.7 401.0,687.6 401.5,687.7 402.1,687.8 402.7,687.4 403.3,687.9 403.8,687.8 404.4,688.3 405.0,688.2 405.6,688.3 406.1,688.3 406.7,688.0 407.3,688.1 407.9,688.0 408.4,688.0 409.0,687.7 409.6,687.8 410.2,687.8 410.7,687.6 411.3,687.4 411.9,687.2 412.5,687.3 413.0,687.3 413.6,687.0 414.2,687.3 414.8,686.9 415.4,686.5 415.9,686.5 416.5,686.4 417.1,685.3 417.7,685.8 418.2,685.8 418.8,686.3 419.4,684.2 420.0,685.0 420.5,683.9 421.1,684.6 421.7,683.4 422.3,684.1 422.8,683.3 423.4,683.1 424.0,683.8 424.6,683.7 425.1,683.3 425.7,683.1 426.3,682.6 426.9,682.9 427.4,682.7 428.0,682.4 428.6,683.0 429.2,683.9 429.7,681.7 430.3,684.4 430.9,681.0 431.5,684.0 432.0,683.7 432.6,683.4 433.2,681.2 433.8,682.8 434.3,681.2 434.9,680.9 435.5,681.8 436.1,681.4 436.6,680.7 437.2,680.7 437.8,681.3 438.4,682.2 438.9,681.0 439.5,681.2 440.1,680.2 440.7,680.2 441.2,680.7 441.8,680.9 442.4,680.1 443.0,679.0 443.5,678.7 444.1,678.2 444.7,677.6 445.3,677.3 445.8,678.8 446.4,676.8 447.0,679.1 447.6,693.5 448.1,677.4 448.7,678.7 449.3,675.2 449.9,674.6 450.4,674.8 451.0,676.6 451.6,677.1 452.2,673.9 452.7,673.7 453.3,674.5 453.9,674.2 454.5,674.6 455.0,672.8 455.6,674.5 456.2,673.4 456.8,671.7 457.3,669.7 457.9,670.3 458.5,669.9 459.1,669.4 459.6,669.6 460.2,670.6 460.8,669.2 461.4,669.6 461.9,669.6 462.5,668.8 463.1,668.7 463.7,693.5 464.2,669.0 464.8,667.3 465.4,666.1 466.0,665.3 466.5,663.7 467.1,663.4 467.7,661.8 468.3,661.3 468.8,660.7 469.4,660.7 470.0,657.0 470.6,654.8 471.1,654.7 471.7,651.7 472.3,651.2 472.9,650.6 473.4,650.4 474.0,647.1 474.6,646.2 475.2,648.0 475.7,645.1 476.3,643.5 476.9,644.6 477.5,641.1 478.0,642.0 478.6,688.0 479.2,639.7 479.8,638.2 480.3,637.1 480.9,634.8 481.5,636.3 482.1,635.0 482.6,634.4 483.2,634.4 483.8,633.2 484.4,636.7 484.9,639.0 485.5,640.1 486.1,643.6"/>
</g>
<rect x="198.5" y="506.1" width="287.6" height="192.0" fill="none" stroke="#2a2a2a" stroke-width="1.7"/>
<path d="M194.7 698.1H198.5M194.7 666.1H198.5M194.7 634.1H198.5M194.7 602.1H198.5M194.7 570.1H198.5M194.7 538.1H198.5M194.7 506.1H198.5M198.5 698.1V701.1M210.0 698.1V701.1M221.5 698.1V701.1M233.0 698.1V701.1M244.5 698.1V701.1M256.0 698.1V701.1M267.5 698.1V701.1M279.0 698.1V701.1M290.5 698.1V701.1M302.0 698.1V701.1M313.5 698.1V701.1M325.0 698.1V701.1M336.5 698.1V701.1M348.1 698.1V701.1M359.6 698.1V701.1M371.1 698.1V701.1M382.6 698.1V701.1M394.1 698.1V701.1M405.6 698.1V701.1M417.1 698.1V701.1M428.6 698.1V701.1M440.1 698.1V701.1M451.6 698.1V701.1M463.1 698.1V701.1M474.6 698.1V701.1M486.1 698.1V701.1" stroke="#2a2a2a" stroke-width="1.7" fill="none"/>
<text transform="translate(188.1 701.8) scale(0.97 1.08)" text-anchor="end" class="tl">0</text>
<text transform="translate(188.1 669.8) scale(0.97 1.08)" text-anchor="end" class="tl">0.2</text>
<text transform="translate(188.1 637.8) scale(0.97 1.08)" text-anchor="end" class="tl">0.4</text>
<text transform="translate(188.1 605.8) scale(0.97 1.08)" text-anchor="end" class="tl">0.6</text>
<text transform="translate(188.1 573.8) scale(0.97 1.08)" text-anchor="end" class="tl">0.8</text>
<text transform="translate(188.1 541.8) scale(0.97 1.08)" text-anchor="end" class="tl">1</text>
<text transform="translate(188.1 509.8) scale(0.97 1.08)" text-anchor="end" class="tl">1.2</text>
<text transform="translate(198.5 716.1) scale(0.97 1.08)" text-anchor="middle" class="tl">0</text>
<text transform="translate(256.0 716.1) scale(0.97 1.08)" text-anchor="middle" class="tl">100</text>
<text transform="translate(313.5 716.1) scale(0.97 1.08)" text-anchor="middle" class="tl">200</text>
<text transform="translate(371.1 716.1) scale(0.97 1.08)" text-anchor="middle" class="tl">300</text>
<text transform="translate(428.6 716.1) scale(0.97 1.08)" text-anchor="middle" class="tl">400</text>
<text transform="translate(486.1 716.1) scale(0.97 1.08)" text-anchor="middle" class="tl">500</text>
<text x="342.3" y="731.7" text-anchor="middle" class="at">Frequency (Hz)</text>
<text transform="translate(169.4 602.5) rotate(-90)" text-anchor="middle" class="at">Amplitude (×g) (m/s<tspan class="sup" dy="-4">2</tspan><tspan dy="4">)</tspan></text>
<text x="343.5" y="527.4" text-anchor="middle" class="pl">(e)</text>
<rect x="201.0" y="508.3" width="78.4" height="61.0" fill="#fff" stroke="#1a1a1a" stroke-width="1.3"/>
<line x1="212.8" y1="514.7" x2="225.6" y2="514.7" stroke="#5a5a5a" stroke-width="1.2"/>
<text x="227.3" y="517.9" class="lg">AFL-V_a</text>
<line x1="212.8" y1="526.7" x2="225.6" y2="526.7" stroke="#d2505a" stroke-width="1.2" stroke-dasharray="1 1"/>
<text x="227.3" y="529.9" class="lg">AFL-V_b</text>
<line x1="212.8" y1="538.7" x2="225.6" y2="538.7" stroke="#6fa6d6" stroke-width="1.2"/>
<text x="227.3" y="541.9" class="lg">AFL-V_c</text>
<line x1="212.8" y1="550.7" x2="225.6" y2="550.7" stroke="#eb9456" stroke-width="1.6"/>
<text x="227.3" y="553.9" class="lg">AFL-V_d</text>
<line x1="212.8" y1="562.7" x2="225.6" y2="562.7" stroke="#4a6ec4" stroke-width="1.2"/>
<text x="227.3" y="565.9" class="lg">AFL-V_e</text>
<line x1="198.7" y1="687" x2="198.7" y2="696" stroke="#8b1a1a" stroke-width="1.1"/>
</svg>
</body></html>
